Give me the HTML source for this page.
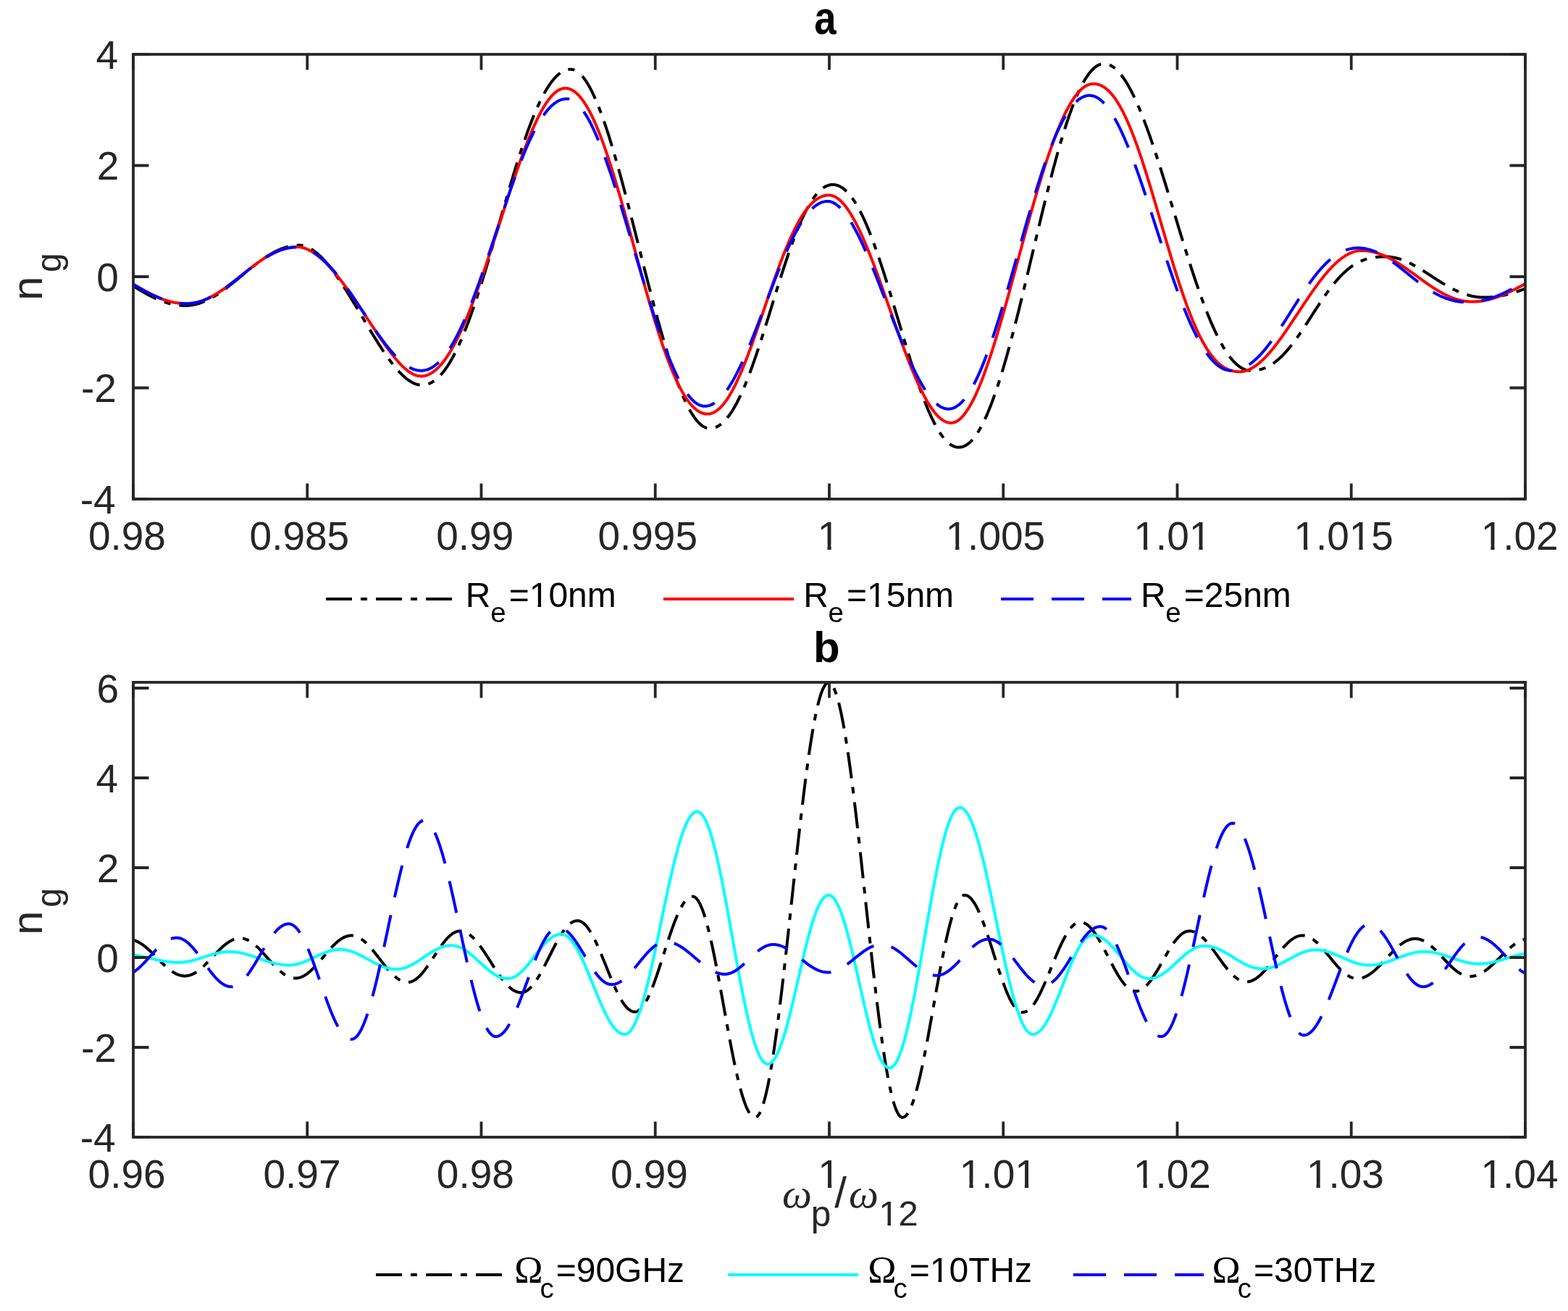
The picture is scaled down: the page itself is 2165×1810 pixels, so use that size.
<!DOCTYPE html><html><head><meta charset="utf-8"><title>n_g plots</title><style>html,body{margin:0;padding:0;background:#fff;}svg{display:block;}</style></head><body>
<svg xmlns="http://www.w3.org/2000/svg" width="2165" height="1810" viewBox="0 0 2165 1810">
<rect width="2165" height="1810" fill="#fff"/>
<defs><clipPath id="ca"><rect x="184" y="75" width="1922" height="614"/></clipPath>
<clipPath id="cb"><rect x="184" y="942" width="1922" height="628"/></clipPath></defs>
<path d="M184.0 395.0L185.0 395.6L186.0 396.2L187.0 396.8L188.0 397.4L189.0 398.0L190.0 398.6L191.0 399.2L192.0 399.8L193.0 400.4L194.0 401.0L195.0 401.6L196.0 402.2L197.0 402.7L198.0 403.3L199.0 403.9L200.0 404.4L201.0 405.0L202.0 405.5L203.0 406.1L204.0 406.6L205.0 407.2L206.0 407.7L207.0 408.2L208.0 408.7L209.0 409.2L210.0 409.7L211.0 410.2L212.0 410.7L213.0 411.2L214.0 411.6L215.0 412.1L216.0 412.5L217.0 413.0L218.0 413.4L219.0 413.8L220.0 414.3L221.0 414.7L222.0 415.1L223.0 415.5L224.0 415.8L225.0 416.2L226.0 416.6L227.0 416.9L228.0 417.2L229.0 417.6L230.0 417.9L231.0 418.2L232.0 418.5L233.0 418.8L234.0 419.0L235.0 419.3L236.0 419.5L237.0 419.8L238.0 420.0L239.0 420.2L240.0 420.4L241.0 420.6L242.0 420.8L243.0 420.9L244.0 421.1L245.0 421.2L246.0 421.3L247.0 421.5L248.0 421.6L249.0 421.6L250.0 421.7L251.0 421.8L252.0 421.8L253.0 421.9L254.0 421.9L255.0 421.9L256.0 421.9L257.0 421.9L258.0 421.9L259.0 421.8L260.0 421.7L261.0 421.7L262.0 421.6L263.0 421.4L264.0 421.3L265.0 421.2L266.0 421.0L267.0 420.8L268.0 420.6L269.0 420.4L270.0 420.2L271.0 419.9L272.0 419.7L273.0 419.4L274.0 419.1L275.0 418.8L276.0 418.5L277.0 418.1L278.0 417.8L279.0 417.4L280.0 417.0L281.0 416.6L282.0 416.2L283.0 415.8L284.0 415.4L285.0 414.9L286.0 414.4L287.0 414.0L288.0 413.5L289.0 413.0L290.0 412.4L291.0 411.9L292.0 411.4L293.0 410.8L294.0 410.2L295.0 409.6L296.0 409.0L297.0 408.4L298.0 407.8L299.0 407.2L300.0 406.6L301.0 405.9L302.0 405.2L303.0 404.6L304.0 403.9L305.0 403.2L306.0 402.5L307.0 401.8L308.0 401.1L309.0 400.4L310.0 399.6L311.0 398.9L312.0 398.2L313.0 397.4L314.0 396.6L315.0 395.9L316.0 395.1L317.0 394.3L318.0 393.5L319.0 392.7L320.0 391.9L321.0 391.1L322.0 390.3L323.0 389.5L324.0 388.7L325.0 387.9L326.0 387.1L327.0 386.3L328.0 385.5L329.0 384.6L330.0 383.8L331.0 383.0L332.0 382.1L333.0 381.3L334.0 380.5L335.0 379.7L336.0 378.8L337.0 378.0L338.0 377.2L339.0 376.3L340.0 375.5L341.0 374.7L342.0 373.9L343.0 373.0L344.0 372.2L345.0 371.4L346.0 370.6L347.0 369.8L348.0 369.0L349.0 368.2L350.0 367.4L351.0 366.6L352.0 365.8L353.0 365.1L354.0 364.3L355.0 363.5L356.0 362.8L357.0 362.0L358.0 361.3L359.0 360.5L360.0 359.8L361.0 359.1L362.0 358.4L363.0 357.7L364.0 357.0L365.0 356.3L366.0 355.6L367.0 355.0L368.0 354.3L369.0 353.7L370.0 353.0L371.0 352.4L372.0 351.8L373.0 351.2L374.0 350.6L375.0 350.0L376.0 349.5L377.0 348.9L378.0 348.4L379.0 347.8L380.0 347.3L381.0 346.8L382.0 346.3L383.0 345.9L384.0 345.4L385.0 345.0L386.0 344.5L387.0 344.1L388.0 343.7L389.0 343.3L390.0 342.9L391.0 342.6L392.0 342.2L393.0 341.9L394.0 341.6L395.0 341.3L396.0 341.0L397.0 340.7L398.0 340.5L399.0 340.2L400.0 340.0L401.0 339.8L402.0 339.6L403.0 339.5L404.0 339.3L405.0 339.2L406.0 339.0L407.0 338.9L408.0 338.8L409.0 338.8L410.0 338.7L411.0 338.7L412.0 338.6L413.0 338.6L414.0 338.7L415.0 338.7L416.0 338.8L417.0 339.0L418.0 339.1L419.0 339.3L420.0 339.6L421.0 339.9L422.0 340.2L423.0 340.6L424.0 341.0L425.0 341.4L426.0 341.9L427.0 342.4L428.0 342.9L429.0 343.5L430.0 344.0L431.0 344.7L432.0 345.3L433.0 346.0L434.0 346.8L435.0 347.5L436.0 348.3L437.0 349.1L438.0 349.9L439.0 350.8L440.0 351.7L441.0 352.6L442.0 353.6L443.0 354.5L444.0 355.5L445.0 356.5L446.0 357.6L447.0 358.7L448.0 359.8L449.0 360.9L450.0 362.0L451.0 363.2L452.0 364.4L453.0 365.6L454.0 366.8L455.0 368.0L456.0 369.3L457.0 370.6L458.0 371.9L459.0 373.2L460.0 374.5L461.0 375.9L462.0 377.2L463.0 378.6L464.0 380.0L465.0 381.4L466.0 382.9L467.0 384.3L468.0 385.8L469.0 387.2L470.0 388.7L471.0 390.2L472.0 391.7L473.0 393.3L474.0 394.8L475.0 396.3L476.0 397.9L477.0 399.5L478.0 401.0L479.0 402.6L480.0 404.2L481.0 405.8L482.0 407.4L483.0 409.0L484.0 410.7L485.0 412.3L486.0 413.9L487.0 415.6L488.0 417.2L489.0 418.9L490.0 420.5L491.0 422.2L492.0 423.9L493.0 425.5L494.0 427.2L495.0 428.9L496.0 430.5L497.0 432.2L498.0 433.9L499.0 435.6L500.0 437.3L501.0 438.9L502.0 440.6L503.0 442.3L504.0 444.0L505.0 445.7L506.0 447.3L507.0 449.0L508.0 450.7L509.0 452.3L510.0 454.0L511.0 455.7L512.0 457.3L513.0 459.0L514.0 460.6L515.0 462.2L516.0 463.9L517.0 465.5L518.0 467.1L519.0 468.7L520.0 470.3L521.0 471.9L522.0 473.5L523.0 475.1L524.0 476.6L525.0 478.2L526.0 479.7L527.0 481.2L528.0 482.8L529.0 484.3L530.0 485.7L531.0 487.2L532.0 488.7L533.0 490.1L534.0 491.6L535.0 493.0L536.0 494.4L537.0 495.8L538.0 497.1L539.0 498.5L540.0 499.8L541.0 501.1L542.0 502.4L543.0 503.7L544.0 504.9L545.0 506.2L546.0 507.4L547.0 508.6L548.0 509.7L549.0 510.9L550.0 512.0L551.0 513.1L552.0 514.2L553.0 515.2L554.0 516.2L555.0 517.2L556.0 518.2L557.0 519.1L558.0 520.0L559.0 520.9L560.0 521.7L561.0 522.6L562.0 523.3L563.0 524.1L564.0 524.8L565.0 525.5L566.0 526.2L567.0 526.8L568.0 527.4L569.0 527.9L570.0 528.5L571.0 528.9L572.0 529.4L573.0 529.8L574.0 530.2L575.0 530.5L576.0 530.8L577.0 531.0L578.0 531.2L579.0 531.4L580.0 531.5L581.0 531.6L582.0 531.7L583.0 531.7L584.0 531.6L585.0 531.5L586.0 531.4L587.0 531.3L588.0 531.1L589.0 530.8L590.0 530.5L591.0 530.2L592.0 529.9L593.0 529.5L594.0 529.0L595.0 528.5L596.0 528.0L597.0 527.4L598.0 526.8L599.0 526.1L600.0 525.4L601.0 524.7L602.0 523.9L603.0 523.1L604.0 522.2L605.0 521.3L606.0 520.3L607.0 519.3L608.0 518.2L609.0 517.2L610.0 516.0L611.0 514.8L612.0 513.6L613.0 512.3L614.0 511.0L615.0 509.6L616.0 508.2L617.0 506.8L618.0 505.3L619.0 503.7L620.0 502.1L621.0 500.5L622.0 498.8L623.0 497.1L624.0 495.4L625.0 493.6L626.0 491.7L627.0 489.8L628.0 487.9L629.0 485.9L630.0 483.9L631.0 481.9L632.0 479.8L633.0 477.6L634.0 475.4L635.0 473.2L636.0 471.0L637.0 468.7L638.0 466.3L639.0 463.9L640.0 461.5L641.0 459.1L642.0 456.6L643.0 454.1L644.0 451.5L645.0 448.9L646.0 446.3L647.0 443.6L648.0 440.9L649.0 438.1L650.0 435.4L651.0 432.6L652.0 429.7L653.0 426.9L654.0 424.0L655.0 421.1L656.0 418.1L657.0 415.1L658.0 412.1L659.0 409.1L660.0 406.0L661.0 402.9L662.0 399.8L663.0 396.7L664.0 393.5L665.0 390.3L666.0 387.1L667.0 383.9L668.0 380.6L669.0 377.4L670.0 374.1L671.0 370.8L672.0 367.5L673.0 364.1L674.0 360.8L675.0 357.4L676.0 354.0L677.0 350.6L678.0 347.2L679.0 343.8L680.0 340.4L681.0 337.0L682.0 333.5L683.0 330.1L684.0 326.6L685.0 323.2L686.0 319.7L687.0 316.3L688.0 312.8L689.0 309.3L690.0 305.9L691.0 302.4L692.0 298.9L693.0 295.5L694.0 292.0L695.0 288.6L696.0 285.1L697.0 281.7L698.0 278.2L699.0 274.8L700.0 271.4L701.0 268.0L702.0 264.6L703.0 261.2L704.0 257.8L705.0 254.5L706.0 251.1L707.0 247.8L708.0 244.5L709.0 241.2L710.0 237.9L711.0 234.7L712.0 231.4L713.0 228.2L714.0 225.0L715.0 221.9L716.0 218.7L717.0 215.6L718.0 212.5L719.0 209.5L720.0 206.4L721.0 203.4L722.0 200.4L723.0 197.5L724.0 194.6L725.0 191.7L726.0 188.8L727.0 186.0L728.0 183.2L729.0 180.4L730.0 177.7L731.0 175.0L732.0 172.4L733.0 169.8L734.0 167.2L735.0 164.6L736.0 162.1L737.0 159.7L738.0 157.3L739.0 154.9L740.0 152.6L741.0 150.3L742.0 148.0L743.0 145.8L744.0 143.6L745.0 141.5L746.0 139.4L747.0 137.4L748.0 135.4L749.0 133.5L750.0 131.6L751.0 129.7L752.0 127.9L753.0 126.1L754.0 124.4L755.0 122.8L756.0 121.2L757.0 119.6L758.0 118.1L759.0 116.6L760.0 115.2L761.0 113.8L762.0 112.5L763.0 111.2L764.0 110.0L765.0 108.8L766.0 107.7L767.0 106.6L768.0 105.6L769.0 104.6L770.0 103.7L771.0 102.8L772.0 102.0L773.0 101.3L774.0 100.5L775.0 99.9L776.0 99.3L777.0 98.7L778.0 98.2L779.0 97.7L780.0 97.3L781.0 96.9L782.0 96.6L783.0 96.3L784.0 96.1L785.0 95.9L786.0 95.8L787.0 95.7L788.0 95.7L789.0 95.8L790.0 95.9L791.0 96.1L792.0 96.3L793.0 96.7L794.0 97.1L795.0 97.6L796.0 98.1L797.0 98.8L798.0 99.5L799.0 100.3L800.0 101.1L801.0 102.0L802.0 103.0L803.0 104.1" fill="none" stroke="#000" stroke-width="4" stroke-dasharray="36.156 12.052 9.039 12.052" stroke-dashoffset="0.000" stroke-linejoin="round" clip-path="url(#ca)"/>
<path d="M802.0 103.0L803.0 104.1L804.0 105.2L805.0 106.4L806.0 107.7L807.0 109.0L808.0 110.4L809.0 111.9L810.0 113.4L811.0 115.0L812.0 116.6L813.0 118.4L814.0 120.1L815.0 122.0L816.0 123.9L817.0 125.9L818.0 127.9L819.0 130.0L820.0 132.1L821.0 134.3L822.0 136.5L823.0 138.9L824.0 141.2L825.0 143.6L826.0 146.1L827.0 148.6L828.0 151.2L829.0 153.8L830.0 156.5L831.0 159.2L832.0 161.9L833.0 164.7L834.0 167.6L835.0 170.5L836.0 173.4L837.0 176.4L838.0 179.5L839.0 182.5L840.0 185.6L841.0 188.8L842.0 192.0L843.0 195.2L844.0 198.5L845.0 201.8L846.0 205.1L847.0 208.5L848.0 211.9L849.0 215.3L850.0 218.8L851.0 222.3L852.0 225.8L853.0 229.3L854.0 232.9L855.0 236.5L856.0 240.1L857.0 243.8L858.0 247.5L859.0 251.2L860.0 254.9L861.0 258.6L862.0 262.4L863.0 266.2L864.0 270.0L865.0 273.8L866.0 277.6L867.0 281.5L868.0 285.3L869.0 289.2L870.0 293.1L871.0 297.0L872.0 300.9L873.0 304.8L874.0 308.7L875.0 312.7L876.0 316.6L877.0 320.6L878.0 324.5L879.0 328.5L880.0 332.4L881.0 336.4L882.0 340.3L883.0 344.3L884.0 348.2L885.0 352.2L886.0 356.1L887.0 360.1L888.0 364.0L889.0 367.9L890.0 371.9L891.0 375.8L892.0 379.7L893.0 383.6L894.0 387.5L895.0 391.4L896.0 395.2L897.0 399.1L898.0 402.9L899.0 406.8L900.0 410.6L901.0 414.4L902.0 418.1L903.0 421.9L904.0 425.6L905.0 429.3L906.0 433.0L907.0 436.7L908.0 440.4L909.0 444.0L910.0 447.6L911.0 451.1L912.0 454.7L913.0 458.2L914.0 461.7L915.0 465.2L916.0 468.6L917.0 472.0L918.0 475.4L919.0 478.7L920.0 482.0L921.0 485.3L922.0 488.5L923.0 491.7L924.0 494.9L925.0 498.0L926.0 501.1L927.0 504.1L928.0 507.1L929.0 510.1L930.0 513.0L931.0 515.9L932.0 518.8L933.0 521.6L934.0 524.3L935.0 527.0L936.0 529.7L937.0 532.3L938.0 534.9L939.0 537.4L940.0 539.8L941.0 542.3L942.0 544.6L943.0 547.0L944.0 549.2L945.0 551.4L946.0 553.6L947.0 555.7L948.0 557.8L949.0 559.8L950.0 561.7L951.0 563.6L952.0 565.4L953.0 567.2L954.0 568.9L955.0 570.6L956.0 572.2L957.0 573.7L958.0 575.2L959.0 576.6L960.0 578.0L961.0 579.3L962.0 580.5L963.0 581.7L964.0 582.8L965.0 583.8L966.0 584.8L967.0 585.7L968.0 586.6L969.0 587.4L970.0 588.1L971.0 588.7L972.0 589.3L973.0 589.8L974.0 590.3L975.0 590.7L976.0 591.0L977.0 591.2L978.0 591.4L979.0 591.5L980.0 591.5L981.0 591.5L982.0 591.4L983.0 591.3L984.0 591.1L985.0 590.9L986.0 590.7L987.0 590.3L988.0 590.0L989.0 589.6L990.0 589.1L991.0 588.6L992.0 588.0L993.0 587.4L994.0 586.7L995.0 586.0L996.0 585.2L997.0 584.4L998.0 583.5L999.0 582.6L1000.0 581.6L1001.0 580.5L1002.0 579.4L1003.0 578.3L1004.0 577.1L1005.0 575.8L1006.0 574.5L1007.0 573.2L1008.0 571.8L1009.0 570.3L1010.0 568.8L1011.0 567.3L1012.0 565.7L1013.0 564.0L1014.0 562.3L1015.0 560.5L1016.0 558.7L1017.0 556.9L1018.0 555.0L1019.0 553.0L1020.0 551.0L1021.0 548.9L1022.0 546.8L1023.0 544.7L1024.0 542.5L1025.0 540.3L1026.0 538.0L1027.0 535.7L1028.0 533.3L1029.0 530.9L1030.0 528.5L1031.0 526.0L1032.0 523.5L1033.0 520.9L1034.0 518.3L1035.0 515.7L1036.0 513.0L1037.0 510.3L1038.0 507.5L1039.0 504.8L1040.0 501.9L1041.0 499.1L1042.0 496.2L1043.0 493.3L1044.0 490.4L1045.0 487.5L1046.0 484.5L1047.0 481.5L1048.0 478.4L1049.0 475.4L1050.0 472.3L1051.0 469.2L1052.0 466.1L1053.0 463.0L1054.0 459.9L1055.0 456.7L1056.0 453.5L1057.0 450.3L1058.0 447.1L1059.0 443.9L1060.0 440.7L1061.0 437.5L1062.0 434.3L1063.0 431.0L1064.0 427.8L1065.0 424.6L1066.0 421.3L1067.0 418.1L1068.0 414.8L1069.0 411.6L1070.0 408.4L1071.0 405.2L1072.0 401.9L1073.0 398.7L1074.0 395.5L1075.0 392.3L1076.0 389.2L1077.0 386.0L1078.0 382.8L1079.0 379.7L1080.0 376.6L1081.0 373.5L1082.0 370.4L1083.0 367.4L1084.0 364.3L1085.0 361.3L1086.0 358.3L1087.0 355.3L1088.0 352.4L1089.0 349.5L1090.0 346.6L1091.0 343.8L1092.0 340.9L1093.0 338.2L1094.0 335.4L1095.0 332.7L1096.0 330.0L1097.0 327.4L1098.0 324.7L1099.0 322.2L1100.0 319.6L1101.0 317.1L1102.0 314.7L1103.0 312.3L1104.0 309.9L1105.0 307.6L1106.0 305.3L1107.0 303.0L1108.0 300.8L1109.0 298.7L1110.0 296.6L1111.0 294.5L1112.0 292.5L1113.0 290.6L1114.0 288.7L1115.0 286.8L1116.0 285.0L1117.0 283.2L1118.0 281.5L1119.0 279.9L1120.0 278.3L1121.0 276.7L1122.0 275.2L1123.0 273.8L1124.0 272.4L1125.0 271.0L1126.0 269.7L1127.0 268.5L1128.0 267.3L1129.0 266.2L1130.0 265.1L1131.0 264.1L1132.0 263.1L1133.0 262.2L1134.0 261.4L1135.0 260.6L1136.0 259.8L1137.0 259.1L1138.0 258.5L1139.0 257.9L1140.0 257.4L1141.0 256.9L1142.0 256.5L1143.0 256.1L1144.0 255.8L1145.0 255.5L1146.0 255.3L1147.0 255.1L1148.0 255.0L1149.0 254.9L1150.0 254.9L1151.0 254.9L1152.0 255.0L1153.0 255.2L1154.0 255.3L1155.0 255.6L1156.0 255.9L1157.0 256.2L1158.0 256.6L1159.0 257.0L1160.0 257.5L1161.0 258.1L1162.0 258.7L1163.0 259.3L1164.0 260.0L1165.0 260.8L1166.0 261.6L1167.0 262.4L1168.0 263.4L1169.0 264.3L1170.0 265.3L1171.0 266.4L1172.0 267.5L1173.0 268.7L1174.0 269.9L1175.0 271.2L1176.0 272.5L1177.0 273.9L1178.0 275.3L1179.0 276.8L1180.0 278.3L1181.0 279.9L1182.0 281.6L1183.0 283.2L1184.0 285.0L1185.0 286.7L1186.0 288.6L1187.0 290.5L1188.0 292.4L1189.0 294.4L1190.0 296.4L1191.0 298.4L1192.0 300.5L1193.0 302.7L1194.0 304.9L1195.0 307.2L1196.0 309.4L1197.0 311.8L1198.0 314.2L1199.0 316.6L1200.0 319.0L1201.0 321.5L1202.0 324.1L1203.0 326.6L1204.0 329.3L1205.0 331.9L1206.0 334.6L1207.0 337.3L1208.0 340.1L1209.0 342.9L1210.0 345.7L1211.0 348.6L1212.0 351.5L1213.0 354.4L1214.0 357.3L1215.0 360.3L1216.0 363.3L1217.0 366.3L1218.0 369.4L1219.0 372.5L1220.0 375.6L1221.0 378.7L1222.0 381.9L1223.0 385.0L1224.0 388.2L1225.0 391.4L1226.0 394.7L1227.0 397.9L1228.0 401.2L1229.0 404.4L1230.0 407.7L1231.0 411.0L1232.0 414.3L1233.0 417.6L1234.0 421.0L1235.0 424.3L1236.0 427.6L1237.0 431.0L1238.0 434.3L1239.0 437.6L1240.0 441.0L1241.0 444.3L1242.0 447.7L1243.0 451.0L1244.0 454.4L1245.0 457.7L1246.0 461.0L1247.0 464.3L1248.0 467.6L1249.0 470.9L1250.0 474.2L1251.0 477.5L1252.0 480.8L1253.0 484.0L1254.0 487.3L1255.0 490.5L1256.0 493.7L1257.0 496.9L1258.0 500.0L1259.0 503.1L1260.0 506.3L1261.0 509.4L1262.0 512.4L1263.0 515.5L1264.0 518.5L1265.0 521.5L1266.0 524.4L1267.0 527.3L1268.0 530.2L1269.0 533.1L1270.0 535.9L1271.0 538.7L1272.0 541.5L1273.0 544.2L1274.0 546.9L1275.0 549.5L1276.0 552.1L1277.0 554.7L1278.0 557.2L1279.0 559.7L1280.0 562.1L1281.0 564.5L1282.0 566.9L1283.0 569.2L1284.0 571.4L1285.0 573.6L1286.0 575.8L1287.0 577.9L1288.0 580.0L1289.0 582.0L1290.0 584.0L1291.0 585.9L1292.0 587.8L1293.0 589.6L1294.0 591.3L1295.0 593.0L1296.0 594.7L1297.0 596.3L1298.0 597.8L1299.0 599.3L1300.0 600.7L1301.0 602.1L1302.0 603.4L1303.0 604.7L1304.0 605.9L1305.0 607.0L1306.0 608.1L1307.0 609.2L1308.0 610.1L1309.0 611.0L1310.0 611.9L1311.0 612.7L1312.0 613.4L1313.0 614.1L1314.0 614.7L1315.0 615.3L1316.0 615.8L1317.0 616.2L1318.0 616.6L1319.0 616.9L1320.0 617.2L1321.0 617.4L1322.0 617.5L1323.0 617.6L1324.0 617.6L1325.0 617.6L1326.0 617.5L1327.0 617.3L1328.0 617.1L1329.0 616.8L1330.0 616.5L1331.0 616.1L1332.0 615.7L1333.0 615.1L1334.0 614.6L1335.0 613.9L1336.0 613.2L1337.0 612.5L1338.0 611.7L1339.0 610.8L1340.0 609.8L1341.0 608.8L1342.0 607.8L1343.0 606.6L1344.0 605.5L1345.0 604.2L1346.0 602.9L1347.0 601.6L1348.0 600.1L1349.0 598.7L1350.0 597.1L1351.0 595.5L1352.0 593.9L1353.0 592.2L1354.0 590.4L1355.0 588.6L1356.0 586.7L1357.0 584.7L1358.0 582.7L1359.0 580.7L1360.0 578.5L1361.0 576.4L1362.0 574.1L1363.0 571.9L1364.0 569.5L1365.0 567.1L1366.0 564.7L1367.0 562.2L1368.0 559.7L1369.0 557.1L1370.0 554.4L1371.0 551.7L1372.0 549.0L1373.0 546.2L1374.0 543.3L1375.0 540.4L1376.0 537.5L1377.0 534.5L1378.0 531.5L1379.0 528.4L1380.0 525.3L1381.0 522.1L1382.0 518.9L1383.0 515.6L1384.0 512.3L1385.0 509.0L1386.0 505.6L1387.0 502.2L1388.0 498.7L1389.0 495.2L1390.0 491.7L1391.0 488.1L1392.0 484.5L1393.0 480.9L1394.0 477.2L1395.0 473.5L1396.0 469.8L1397.0 466.0L1398.0 462.2L1399.0 458.4L1400.0 454.6L1401.0 450.7L1402.0 446.8L1403.0 442.8L1404.0 438.9L1405.0 434.9L1406.0 430.9L1407.0 426.9L1408.0 422.9L1409.0 418.8L1410.0 414.7L1411.0 410.6L1412.0 406.5L1413.0 402.4L1414.0 398.3L1415.0 394.1L1416.0 390.0L1417.0 385.8L1418.0 381.6L1419.0 377.4L1420.0 373.3L1421.0 369.1L1422.0 364.9L1423.0 360.6L1424.0 356.4L1425.0 352.2L1426.0 348.0L1427.0 343.8L1428.0 339.6L1429.0 335.4L1430.0 331.2L1431.0 327.0L1432.0 322.8L1433.0 318.6L1434.0 314.4L1435.0 310.3L1436.0 306.1L1437.0 302.0L1438.0 297.8L1439.0 293.7L1440.0 289.6L1441.0 285.5L1442.0 281.5L1443.0 277.4L1444.0 273.4L1445.0 269.4L1446.0 265.4L1447.0 261.4L1448.0 257.5L1449.0 253.5L1450.0 249.6L1451.0 245.8L1452.0 241.9L1453.0 238.1L1454.0 234.3L1455.0 230.6L1456.0 226.9L1457.0 223.2L1458.0 219.5L1459.0 215.9L1460.0 212.3L1461.0 208.8L1462.0 205.2L1463.0 201.8L1464.0 198.3L1465.0 194.9L1466.0 191.6L1467.0 188.3L1468.0 185.0L1469.0 181.8L1470.0 178.6L1471.0 175.4L1472.0 172.3L1473.0 169.3L1474.0 166.3L1475.0 163.3L1476.0 160.4L1477.0 157.6L1478.0 154.8L1479.0 152.0L1480.0 149.3L1481.0 146.6L1482.0 144.0L1483.0 141.5L1484.0 139.0L1485.0 136.6L1486.0 134.2L1487.0 131.8L1488.0 129.6L1489.0 127.3L1490.0 125.2L1491.0 123.1L1492.0 121.0L1493.0 119.0L1494.0 117.1L1495.0 115.3L1496.0 113.4L1497.0 111.7L1498.0 110.0L1499.0 108.4L1500.0 106.8L1501.0 105.3L1502.0 103.9L1503.0 102.5L1504.0 101.2L1505.0 99.9L1506.0 98.7L1507.0 97.6L1508.0 96.5L1509.0 95.5L1510.0 94.6L1511.0 93.7L1512.0 92.9L1513.0 92.1L1514.0 91.4L1515.0 90.8L1516.0 90.2L1517.0 89.7L1518.0 89.3L1519.0 88.9L1520.0 88.6L1521.0 88.4L1522.0 88.2L1523.0 88.1L1524.0 88.1L1525.0 88.1L1526.0 88.1L1527.0 88.2L1528.0 88.4L1529.0 88.7L1530.0 88.9L1531.0 89.3L1532.0 89.7L1533.0 90.1L1534.0 90.6L1535.0 91.2L1536.0 91.8L1537.0 92.5L1538.0 93.2L1539.0 94.0L1540.0 94.8L1541.0 95.7L1542.0 96.6L1543.0 97.6L1544.0 98.7L1545.0 99.8L1546.0 100.9L1547.0 102.1" fill="none" stroke="#000" stroke-width="4" stroke-dasharray="36.151 12.050 9.038 12.050" stroke-dashoffset="66.323" stroke-linejoin="round" clip-path="url(#ca)"/>
<path d="M1546.0 100.9L1547.0 102.1L1548.0 103.3L1549.0 104.6L1550.0 106.0L1551.0 107.4L1552.0 108.8L1553.0 110.3L1554.0 111.8L1555.0 113.4L1556.0 115.1L1557.0 116.8L1558.0 118.5L1559.0 120.3L1560.0 122.1L1561.0 123.9L1562.0 125.8L1563.0 127.8L1564.0 129.8L1565.0 131.8L1566.0 133.9L1567.0 136.0L1568.0 138.2L1569.0 140.4L1570.0 142.6L1571.0 144.9L1572.0 147.2L1573.0 149.6L1574.0 152.0L1575.0 154.4L1576.0 156.9L1577.0 159.4L1578.0 161.9L1579.0 164.5L1580.0 167.1L1581.0 169.7L1582.0 172.4L1583.0 175.1L1584.0 177.8L1585.0 180.6L1586.0 183.4L1587.0 186.2L1588.0 189.0L1589.0 191.9L1590.0 194.8L1591.0 197.7L1592.0 200.7L1593.0 203.6L1594.0 206.6L1595.0 209.6L1596.0 212.7L1597.0 215.7L1598.0 218.8L1599.0 221.9L1600.0 225.0L1601.0 228.1L1602.0 231.3L1603.0 234.4L1604.0 237.6L1605.0 240.8L1606.0 244.0L1607.0 247.2L1608.0 250.4L1609.0 253.7L1610.0 256.9L1611.0 260.1L1612.0 263.4L1613.0 266.7L1614.0 270.0L1615.0 273.2L1616.0 276.5L1617.0 279.8L1618.0 283.1L1619.0 286.4L1620.0 289.7L1621.0 293.0L1622.0 296.3L1623.0 299.6L1624.0 302.9L1625.0 306.2L1626.0 309.5L1627.0 312.8L1628.0 316.0L1629.0 319.3L1630.0 322.6L1631.0 325.9L1632.0 329.1L1633.0 332.4L1634.0 335.6L1635.0 338.8L1636.0 342.0L1637.0 345.2L1638.0 348.4L1639.0 351.6L1640.0 354.8L1641.0 357.9L1642.0 361.1L1643.0 364.2L1644.0 367.3L1645.0 370.4L1646.0 373.4L1647.0 376.5L1648.0 379.5L1649.0 382.5L1650.0 385.5L1651.0 388.5L1652.0 391.4L1653.0 394.3L1654.0 397.2L1655.0 400.1L1656.0 402.9L1657.0 405.7L1658.0 408.5L1659.0 411.3L1660.0 414.0L1661.0 416.7L1662.0 419.4L1663.0 422.1L1664.0 424.7L1665.0 427.3L1666.0 429.8L1667.0 432.4L1668.0 434.9L1669.0 437.3L1670.0 439.8L1671.0 442.2L1672.0 444.5L1673.0 446.9L1674.0 449.1L1675.0 451.4L1676.0 453.6L1677.0 455.8L1678.0 458.0L1679.0 460.1L1680.0 462.1L1681.0 464.2L1682.0 466.2L1683.0 468.1L1684.0 470.0L1685.0 471.9L1686.0 473.8L1687.0 475.6L1688.0 477.3L1689.0 479.0L1690.0 480.7L1691.0 482.3L1692.0 483.9L1693.0 485.5L1694.0 487.0L1695.0 488.4L1696.0 489.9L1697.0 491.2L1698.0 492.6L1699.0 493.9L1700.0 495.1L1701.0 496.3L1702.0 497.5L1703.0 498.6L1704.0 499.7L1705.0 500.7L1706.0 501.7L1707.0 502.6L1708.0 503.5L1709.0 504.3L1710.0 505.1L1711.0 505.9L1712.0 506.6L1713.0 507.2L1714.0 507.9L1715.0 508.4L1716.0 509.0L1717.0 509.4L1718.0 509.9L1719.0 510.3L1720.0 510.6L1721.0 510.9L1722.0 511.1L1723.0 511.3L1724.0 511.5L1725.0 511.6L1726.0 511.7L1727.0 511.7L1728.0 511.7L1729.0 511.7L1730.0 511.6L1731.0 511.6L1732.0 511.5L1733.0 511.4L1734.0 511.3L1735.0 511.1L1736.0 511.0L1737.0 510.8L1738.0 510.6L1739.0 510.4L1740.0 510.1L1741.0 509.9L1742.0 509.6L1743.0 509.3L1744.0 508.9L1745.0 508.6L1746.0 508.2L1747.0 507.8L1748.0 507.3L1749.0 506.9L1750.0 506.4L1751.0 505.9L1752.0 505.4L1753.0 504.8L1754.0 504.3L1755.0 503.6L1756.0 503.0L1757.0 502.4L1758.0 501.7L1759.0 501.0L1760.0 500.3L1761.0 499.5L1762.0 498.7L1763.0 497.9L1764.0 497.1L1765.0 496.2L1766.0 495.3L1767.0 494.4L1768.0 493.5L1769.0 492.6L1770.0 491.6L1771.0 490.6L1772.0 489.5L1773.0 488.5L1774.0 487.4L1775.0 486.3L1776.0 485.2L1777.0 484.1L1778.0 482.9L1779.0 481.7L1780.0 480.5L1781.0 479.3L1782.0 478.1L1783.0 476.8L1784.0 475.5L1785.0 474.2L1786.0 472.9L1787.0 471.6L1788.0 470.2L1789.0 468.9L1790.0 467.5L1791.0 466.1L1792.0 464.7L1793.0 463.2L1794.0 461.8L1795.0 460.3L1796.0 458.9L1797.0 457.4L1798.0 455.9L1799.0 454.4L1800.0 452.9L1801.0 451.4L1802.0 449.9L1803.0 448.4L1804.0 446.8L1805.0 445.3L1806.0 443.8L1807.0 442.2L1808.0 440.7L1809.0 439.1L1810.0 437.6L1811.0 436.0L1812.0 434.5L1813.0 432.9L1814.0 431.4L1815.0 429.8L1816.0 428.3L1817.0 426.8L1818.0 425.2L1819.0 423.7L1820.0 422.2L1821.0 420.6L1822.0 419.1L1823.0 417.6L1824.0 416.1L1825.0 414.7L1826.0 413.2L1827.0 411.7L1828.0 410.3L1829.0 408.8L1830.0 407.4L1831.0 406.0L1832.0 404.6L1833.0 403.2L1834.0 401.8L1835.0 400.5L1836.0 399.1L1837.0 397.8L1838.0 396.5L1839.0 395.2L1840.0 393.9L1841.0 392.7L1842.0 391.5L1843.0 390.2L1844.0 389.0L1845.0 387.9L1846.0 386.7L1847.0 385.6L1848.0 384.4L1849.0 383.3L1850.0 382.3L1851.0 381.2L1852.0 380.2L1853.0 379.2L1854.0 378.2L1855.0 377.2L1856.0 376.3L1857.0 375.3L1858.0 374.4L1859.0 373.6L1860.0 372.7L1861.0 371.9L1862.0 371.0L1863.0 370.3L1864.0 369.5L1865.0 368.7L1866.0 368.0L1867.0 367.3L1868.0 366.6L1869.0 366.0L1870.0 365.3L1871.0 364.7L1872.0 364.1L1873.0 363.6L1874.0 363.0L1875.0 362.5L1876.0 362.0L1877.0 361.5L1878.0 361.0L1879.0 360.5L1880.0 360.1L1881.0 359.7L1882.0 359.3L1883.0 358.9L1884.0 358.6L1885.0 358.2L1886.0 357.9L1887.0 357.6L1888.0 357.3L1889.0 357.0L1890.0 356.8L1891.0 356.6L1892.0 356.3L1893.0 356.1L1894.0 355.9L1895.0 355.7L1896.0 355.6L1897.0 355.4L1898.0 355.3L1899.0 355.1L1900.0 355.0L1901.0 354.9L1902.0 354.8L1903.0 354.7L1904.0 354.7L1905.0 354.6L1906.0 354.5L1907.0 354.5L1908.0 354.5L1909.0 354.4L1910.0 354.4L1911.0 354.4L1912.0 354.4L1913.0 354.4L1914.0 354.4L1915.0 354.4L1916.0 354.4L1917.0 354.5L1918.0 354.6L1919.0 354.7L1920.0 354.8L1921.0 354.9L1922.0 355.1L1923.0 355.2L1924.0 355.4L1925.0 355.6L1926.0 355.8L1927.0 356.0L1928.0 356.3L1929.0 356.5L1930.0 356.8L1931.0 357.1L1932.0 357.4L1933.0 357.7L1934.0 358.0L1935.0 358.4L1936.0 358.7L1937.0 359.1L1938.0 359.5L1939.0 359.9L1940.0 360.3L1941.0 360.7L1942.0 361.2L1943.0 361.6L1944.0 362.1L1945.0 362.5L1946.0 363.0L1947.0 363.5L1948.0 364.0L1949.0 364.5L1950.0 365.1L1951.0 365.6L1952.0 366.1L1953.0 366.7L1954.0 367.2L1955.0 367.8L1956.0 368.4L1957.0 369.0L1958.0 369.5L1959.0 370.1L1960.0 370.7L1961.0 371.3L1962.0 372.0L1963.0 372.6L1964.0 373.2L1965.0 373.8L1966.0 374.5L1967.0 375.1L1968.0 375.7L1969.0 376.4L1970.0 377.0L1971.0 377.6L1972.0 378.3L1973.0 378.9L1974.0 379.6L1975.0 380.2L1976.0 380.9L1977.0 381.5L1978.0 382.2L1979.0 382.8L1980.0 383.5L1981.0 384.1L1982.0 384.8L1983.0 385.4L1984.0 386.1L1985.0 386.7L1986.0 387.3L1987.0 388.0L1988.0 388.6L1989.0 389.2L1990.0 389.9L1991.0 390.5L1992.0 391.1L1993.0 391.7L1994.0 392.3L1995.0 392.9L1996.0 393.5L1997.0 394.1L1998.0 394.6L1999.0 395.2L2000.0 395.8L2001.0 396.3L2002.0 396.9L2003.0 397.4L2004.0 397.9L2005.0 398.5L2006.0 399.0L2007.0 399.5L2008.0 400.0L2009.0 400.5L2010.0 400.9L2011.0 401.4L2012.0 401.9L2013.0 402.3L2014.0 402.8L2015.0 403.2L2016.0 403.6L2017.0 404.0L2018.0 404.4L2019.0 404.8L2020.0 405.2L2021.0 405.5L2022.0 405.9L2023.0 406.2L2024.0 406.5L2025.0 406.8L2026.0 407.1L2027.0 407.4L2028.0 407.7L2029.0 408.0L2030.0 408.2L2031.0 408.5L2032.0 408.7L2033.0 408.9L2034.0 409.1L2035.0 409.3L2036.0 409.5L2037.0 409.6L2038.0 409.8L2039.0 409.9L2040.0 410.1L2041.0 410.2L2042.0 410.3L2043.0 410.4L2044.0 410.4L2045.0 410.5L2046.0 410.6L2047.0 410.6L2048.0 410.6L2049.0 410.6L2050.0 410.6L2051.0 410.6L2052.0 410.6L2053.0 410.6L2054.0 410.5L2055.0 410.5L2056.0 410.4L2057.0 410.4L2058.0 410.3L2059.0 410.2L2060.0 410.2L2061.0 410.1L2062.0 410.0L2063.0 409.8L2064.0 409.7L2065.0 409.6L2066.0 409.5L2067.0 409.3L2068.0 409.2L2069.0 409.0L2070.0 408.8L2071.0 408.7L2072.0 408.5L2073.0 408.3L2074.0 408.1L2075.0 407.9L2076.0 407.7L2077.0 407.5L2078.0 407.2L2079.0 407.0L2080.0 406.8L2081.0 406.5L2082.0 406.3L2083.0 406.0L2084.0 405.8L2085.0 405.5L2086.0 405.2L2087.0 404.9L2088.0 404.6L2089.0 404.3L2090.0 404.0L2091.0 403.7L2092.0 403.4L2093.0 403.1L2094.0 402.8L2095.0 402.4L2096.0 402.1L2097.0 401.8L2098.0 401.4L2099.0 401.1L2100.0 400.7L2101.0 400.4L2102.0 400.0L2103.0 399.6L2104.0 399.3L2105.0 398.9L2106.0 398.5" fill="none" stroke="#000" stroke-width="4" stroke-dasharray="36.350 12.117 9.088 12.117" stroke-dashoffset="66.518" stroke-linejoin="round" clip-path="url(#ca)"/>
<path d="M184.0 392.6L185.0 393.1L186.0 393.7L187.0 394.3L188.0 394.9L189.0 395.5L190.0 396.0L191.0 396.6L192.0 397.2L193.0 397.8L194.0 398.3L195.0 398.9L196.0 399.4L197.0 400.0L198.0 400.6L199.0 401.1L200.0 401.6L201.0 402.2L202.0 402.7L203.0 403.2L204.0 403.8L205.0 404.3L206.0 404.8L207.0 405.3L208.0 405.8L209.0 406.3L210.0 406.8L211.0 407.3L212.0 407.8L213.0 408.2L214.0 408.7L215.0 409.1L216.0 409.6L217.0 410.0L218.0 410.4L219.0 410.9L220.0 411.3L221.0 411.7L222.0 412.1L223.0 412.5L224.0 412.8L225.0 413.2L226.0 413.6L227.0 413.9L228.0 414.2L229.0 414.6L230.0 414.9L231.0 415.2L232.0 415.5L233.0 415.8L234.0 416.1L235.0 416.3L236.0 416.6L237.0 416.8L238.0 417.0L239.0 417.3L240.0 417.5L241.0 417.7L242.0 417.9L243.0 418.0L244.0 418.2L245.0 418.3L246.0 418.5L247.0 418.6L248.0 418.7L249.0 418.8L250.0 418.9L251.0 419.0L252.0 419.1L253.0 419.1L254.0 419.2L255.0 419.2L256.0 419.2L257.0 419.2L258.0 419.2L259.0 419.2L260.0 419.1L261.0 419.1L262.0 419.0L263.0 418.9L264.0 418.8L265.0 418.7L266.0 418.6L267.0 418.4L268.0 418.2L269.0 418.0L270.0 417.8L271.0 417.6L272.0 417.4L273.0 417.1L274.0 416.9L275.0 416.6L276.0 416.3L277.0 416.0L278.0 415.6L279.0 415.3L280.0 414.9L281.0 414.6L282.0 414.2L283.0 413.8L284.0 413.4L285.0 412.9L286.0 412.5L287.0 412.0L288.0 411.6L289.0 411.1L290.0 410.6L291.0 410.1L292.0 409.5L293.0 409.0L294.0 408.5L295.0 407.9L296.0 407.3L297.0 406.7L298.0 406.2L299.0 405.5L300.0 404.9L301.0 404.3L302.0 403.7L303.0 403.0L304.0 402.4L305.0 401.7L306.0 401.0L307.0 400.3L308.0 399.7L309.0 399.0L310.0 398.2L311.0 397.5L312.0 396.8L313.0 396.1L314.0 395.3L315.0 394.6L316.0 393.8L317.0 393.1L318.0 392.3L319.0 391.6L320.0 390.8L321.0 390.0L322.0 389.2L323.0 388.5L324.0 387.7L325.0 386.9L326.0 386.1L327.0 385.3L328.0 384.5L329.0 383.7L330.0 382.9L331.0 382.1L332.0 381.3L333.0 380.5L334.0 379.7L335.0 378.9L336.0 378.1L337.0 377.3L338.0 376.5L339.0 375.7L340.0 374.9L341.0 374.1L342.0 373.3L343.0 372.5L344.0 371.7L345.0 370.9L346.0 370.1L347.0 369.4L348.0 368.6L349.0 367.8L350.0 367.1L351.0 366.3L352.0 365.6L353.0 364.8L354.0 364.1L355.0 363.4L356.0 362.6L357.0 361.9L358.0 361.2L359.0 360.5L360.0 359.8L361.0 359.1L362.0 358.5L363.0 357.8L364.0 357.1L365.0 356.5L366.0 355.9L367.0 355.2L368.0 354.6L369.0 354.0L370.0 353.4L371.0 352.8L372.0 352.3L373.0 351.7L374.0 351.2L375.0 350.6L376.0 350.1L377.0 349.6L378.0 349.1L379.0 348.6L380.0 348.1L381.0 347.7L382.0 347.2L383.0 346.8L384.0 346.4L385.0 346.0L386.0 345.6L387.0 345.2L388.0 344.9L389.0 344.5L390.0 344.2L391.0 343.9L392.0 343.6L393.0 343.3L394.0 343.0L395.0 342.8L396.0 342.5L397.0 342.3L398.0 342.1L399.0 341.9L400.0 341.8L401.0 341.6L402.0 341.5L403.0 341.3L404.0 341.2L405.0 341.1L406.0 341.1L407.0 341.0L408.0 341.0L409.0 340.9L410.0 340.9L411.0 341.0L412.0 341.0L413.0 341.1L414.0 341.2L415.0 341.3L416.0 341.5L417.0 341.7L418.0 342.0L419.0 342.2L420.0 342.5L421.0 342.9L422.0 343.2L423.0 343.6L424.0 344.0L425.0 344.5L426.0 344.9L427.0 345.4L428.0 346.0L429.0 346.5L430.0 347.1L431.0 347.7L432.0 348.3L433.0 348.9L434.0 349.6L435.0 350.3L436.0 351.0L437.0 351.7L438.0 352.5L439.0 353.3L440.0 354.1L441.0 354.9L442.0 355.8L443.0 356.6L444.0 357.5L445.0 358.4L446.0 359.3L447.0 360.3L448.0 361.2L449.0 362.2L450.0 363.2L451.0 364.2L452.0 365.2L453.0 366.3L454.0 367.3L455.0 368.4L456.0 369.5L457.0 370.6L458.0 371.8L459.0 372.9L460.0 374.0L461.0 375.2L462.0 376.4L463.0 377.6L464.0 378.8L465.0 380.0L466.0 381.3L467.0 382.5L468.0 383.8L469.0 385.0L470.0 386.3L471.0 387.6L472.0 388.9L473.0 390.2L474.0 391.6L475.0 392.9L476.0 394.3L477.0 395.6L478.0 397.0L479.0 398.4L480.0 399.7L481.0 401.1L482.0 402.5L483.0 403.9L484.0 405.4L485.0 406.8L486.0 408.2L487.0 409.7L488.0 411.1L489.0 412.6L490.0 414.0L491.0 415.5L492.0 417.0L493.0 418.4L494.0 419.9L495.0 421.4L496.0 422.9L497.0 424.4L498.0 425.9L499.0 427.4L500.0 428.9L501.0 430.4L502.0 431.9L503.0 433.4L504.0 434.9L505.0 436.4L506.0 438.0L507.0 439.5L508.0 441.0L509.0 442.5L510.0 444.0L511.0 445.6L512.0 447.1L513.0 448.6L514.0 450.1L515.0 451.6L516.0 453.1L517.0 454.6L518.0 456.1L519.0 457.6L520.0 459.1L521.0 460.6L522.0 462.1L523.0 463.6L524.0 465.1L525.0 466.5L526.0 468.0L527.0 469.5L528.0 470.9L529.0 472.3L530.0 473.8L531.0 475.2L532.0 476.6L533.0 478.0L534.0 479.4L535.0 480.8L536.0 482.1L537.0 483.5L538.0 484.8L539.0 486.1L540.0 487.5L541.0 488.8L542.0 490.0L543.0 491.3L544.0 492.5L545.0 493.8L546.0 495.0L547.0 496.2L548.0 497.3L549.0 498.5L550.0 499.6L551.0 500.7L552.0 501.8L553.0 502.8L554.0 503.9L555.0 504.9L556.0 505.9L557.0 506.8L558.0 507.7L559.0 508.6L560.0 509.5L561.0 510.3L562.0 511.1L563.0 511.9L564.0 512.7L565.0 513.4L566.0 514.0L567.0 514.7L568.0 515.3L569.0 515.8L570.0 516.4L571.0 516.8L572.0 517.3L573.0 517.7L574.0 518.1L575.0 518.4L576.0 518.7L577.0 518.9L578.0 519.1L579.0 519.2L580.0 519.3L581.0 519.4L582.0 519.4L583.0 519.3L584.0 519.2L585.0 519.1L586.0 518.9L587.0 518.7L588.0 518.5L589.0 518.2L590.0 517.8L591.0 517.4L592.0 517.0L593.0 516.5L594.0 516.0L595.0 515.5L596.0 514.9L597.0 514.2L598.0 513.5L599.0 512.8L600.0 512.1L601.0 511.2L602.0 510.4L603.0 509.5L604.0 508.6L605.0 507.6L606.0 506.6L607.0 505.5L608.0 504.4L609.0 503.3L610.0 502.1L611.0 500.9L612.0 499.6L613.0 498.3L614.0 497.0L615.0 495.6L616.0 494.2L617.0 492.7L618.0 491.2L619.0 489.7L620.0 488.1L621.0 486.5L622.0 484.8L623.0 483.2L624.0 481.4L625.0 479.7L626.0 477.9L627.0 476.0L628.0 474.2L629.0 472.3L630.0 470.3L631.0 468.4L632.0 466.4L633.0 464.3L634.0 462.2L635.0 460.1L636.0 458.0L637.0 455.8L638.0 453.6L639.0 451.4L640.0 449.1L641.0 446.8L642.0 444.5L643.0 442.1L644.0 439.8L645.0 437.3L646.0 434.9L647.0 432.4L648.0 429.9L649.0 427.4L650.0 424.9L651.0 422.3L652.0 419.7L653.0 417.1L654.0 414.4L655.0 411.7L656.0 409.0L657.0 406.3L658.0 403.6L659.0 400.8L660.0 398.0L661.0 395.2L662.0 392.4L663.0 389.5L664.0 386.7L665.0 383.8L666.0 380.9L667.0 378.0L668.0 375.1L669.0 372.1L670.0 369.2L671.0 366.2L672.0 363.2L673.0 360.2L674.0 357.2L675.0 354.1L676.0 351.1L677.0 348.1L678.0 345.0L679.0 341.9L680.0 338.9L681.0 335.8L682.0 332.7L683.0 329.6L684.0 326.5L685.0 323.4L686.0 320.3L687.0 317.2L688.0 314.1L689.0 311.0L690.0 307.8L691.0 304.7L692.0 301.6L693.0 298.5L694.0 295.4L695.0 292.3L696.0 289.2L697.0 286.1L698.0 283.0L699.0 279.9L700.0 276.8L701.0 273.7L702.0 270.7L703.0 267.6L704.0 264.6L705.0 261.5L706.0 258.5L707.0 255.5L708.0 252.5L709.0 249.5L710.0 246.5L711.0 243.6L712.0 240.6L713.0 237.7L714.0 234.8L715.0 231.9L716.0 229.1L717.0 226.2L718.0 223.4L719.0 220.6L720.0 217.8L721.0 215.1L722.0 212.3L723.0 209.6L724.0 206.9L725.0 204.3L726.0 201.7L727.0 199.1L728.0 196.5L729.0 194.0L730.0 191.4L731.0 189.0L732.0 186.5L733.0 184.1L734.0 181.7L735.0 179.4L736.0 177.1L737.0 174.8L738.0 172.6L739.0 170.4L740.0 168.3L741.0 166.1L742.0 164.1L743.0 162.0L744.0 160.0L745.0 158.1L746.0 156.2L747.0 154.3L748.0 152.5L749.0 150.7L750.0 149.0L751.0 147.3L752.0 145.7L753.0 144.1L754.0 142.6L755.0 141.1L756.0 139.7L757.0 138.3L758.0 137.0L759.0 135.7L760.0 134.5L761.0 133.3L762.0 132.2L763.0 131.1L764.0 130.1L765.0 129.1L766.0 128.2L767.0 127.4L768.0 126.6L769.0 125.9L770.0 125.2L771.0 124.6L772.0 124.1L773.0 123.6L774.0 123.1L775.0 122.8L776.0 122.4L777.0 122.2L778.0 122.0L779.0 121.9L780.0 121.8L781.0 121.8L782.0 121.9L783.0 122.0L784.0 122.2L785.0 122.4L786.0 122.7L787.0 123.0L788.0 123.4L789.0 123.9L790.0 124.4L791.0 125.0L792.0 125.6L793.0 126.3L794.0 127.0L795.0 127.9L796.0 128.7L797.0 129.6L798.0 130.6L799.0 131.6L800.0 132.7L801.0 133.9L802.0 135.1L803.0 136.3L804.0 137.7L805.0 139.0L806.0 140.5L807.0 141.9L808.0 143.5L809.0 145.1L810.0 146.7L811.0 148.4L812.0 150.1L813.0 151.9L814.0 153.8L815.0 155.7L816.0 157.7L817.0 159.7L818.0 161.7L819.0 163.8L820.0 166.0L821.0 168.2L822.0 170.5L823.0 172.8L824.0 175.1L825.0 177.5L826.0 180.0L827.0 182.5L828.0 185.0L829.0 187.6L830.0 190.2L831.0 192.9L832.0 195.6L833.0 198.3L834.0 201.1L835.0 203.9L836.0 206.8L837.0 209.7L838.0 212.6L839.0 215.6L840.0 218.6L841.0 221.7L842.0 224.8L843.0 227.9L844.0 231.0L845.0 234.2L846.0 237.4L847.0 240.6L848.0 243.9L849.0 247.2L850.0 250.5L851.0 253.9L852.0 257.2L853.0 260.6L854.0 264.1L855.0 267.5L856.0 271.0L857.0 274.4L858.0 277.9L859.0 281.5L860.0 285.0L861.0 288.6L862.0 292.1L863.0 295.7L864.0 299.3L865.0 302.9L866.0 306.5L867.0 310.2L868.0 313.8L869.0 317.4L870.0 321.1L871.0 324.8L872.0 328.4L873.0 332.1L874.0 335.8L875.0 339.4L876.0 343.1L877.0 346.8L878.0 350.5L879.0 354.1L880.0 357.8L881.0 361.5L882.0 365.1L883.0 368.8L884.0 372.4L885.0 376.1L886.0 379.7L887.0 383.3L888.0 386.9L889.0 390.5L890.0 394.1L891.0 397.6L892.0 401.2L893.0 404.7L894.0 408.2L895.0 411.7L896.0 415.2L897.0 418.7L898.0 422.1L899.0 425.5L900.0 428.9L901.0 432.3L902.0 435.6L903.0 439.0L904.0 442.3L905.0 445.5L906.0 448.8L907.0 452.0L908.0 455.2L909.0 458.3L910.0 461.4L911.0 464.5L912.0 467.6L913.0 470.6L914.0 473.6L915.0 476.6L916.0 479.5L917.0 482.4L918.0 485.2L919.0 488.0L920.0 490.8L921.0 493.5L922.0 496.2L923.0 498.9L924.0 501.5L925.0 504.0L926.0 506.6L927.0 509.0L928.0 511.5L929.0 513.9L930.0 516.2L931.0 518.5L932.0 520.8L933.0 523.0L934.0 525.2L935.0 527.3L936.0 529.4L937.0 531.4L938.0 533.4L939.0 535.4L940.0 537.3L941.0 539.1L942.0 540.9L943.0 542.6L944.0 544.3L945.0 546.0L946.0 547.6L947.0 549.1L948.0 550.6L949.0 552.0L950.0 553.4L951.0 554.8L952.0 556.1L953.0 557.3L954.0 558.5L955.0 559.6L956.0 560.7L957.0 561.7L958.0 562.7L959.0 563.6L960.0 564.5L961.0 565.3L962.0 566.1L963.0 566.8L964.0 567.5L965.0 568.1L966.0 568.7L967.0 569.2L968.0 569.7L969.0 570.1L970.0 570.4L971.0 570.8L972.0 571.0L973.0 571.2L974.0 571.4L975.0 571.5L976.0 571.6L977.0 571.6L978.0 571.5L979.0 571.4L980.0 571.3L981.0 571.1L982.0 570.8L983.0 570.5L984.0 570.1L985.0 569.7L986.0 569.2L987.0 568.7L988.0 568.1L989.0 567.4L990.0 566.7L991.0 565.9L992.0 565.1L993.0 564.2L994.0 563.3L995.0 562.3L996.0 561.3L997.0 560.2L998.0 559.1L999.0 557.9L1000.0 556.6L1001.0 555.3L1002.0 553.9L1003.0 552.5L1004.0 551.1L1005.0 549.6L1006.0 548.0L1007.0 546.4L1008.0 544.7L1009.0 543.0L1010.0 541.3L1011.0 539.5L1012.0 537.6L1013.0 535.7L1014.0 533.8L1015.0 531.8L1016.0 529.8L1017.0 527.7L1018.0 525.6L1019.0 523.4L1020.0 521.2L1021.0 519.0L1022.0 516.7L1023.0 514.4L1024.0 512.1L1025.0 509.7L1026.0 507.3L1027.0 504.8L1028.0 502.3L1029.0 499.8L1030.0 497.2L1031.0 494.7L1032.0 492.1L1033.0 489.4L1034.0 486.8L1035.0 484.1L1036.0 481.4L1037.0 478.7L1038.0 475.9L1039.0 473.1L1040.0 470.3L1041.0 467.5L1042.0 464.7L1043.0 461.9L1044.0 459.0L1045.0 456.1L1046.0 453.2L1047.0 450.3L1048.0 447.4L1049.0 444.5L1050.0 441.6L1051.0 438.7L1052.0 435.7L1053.0 432.8L1054.0 429.9L1055.0 426.9L1056.0 424.0L1057.0 421.0L1058.0 418.1L1059.0 415.2L1060.0 412.3L1061.0 409.3L1062.0 406.4L1063.0 403.5L1064.0 400.6L1065.0 397.7L1066.0 394.8L1067.0 392.0L1068.0 389.1L1069.0 386.3L1070.0 383.5L1071.0 380.7L1072.0 377.9L1073.0 375.1L1074.0 372.4L1075.0 369.7L1076.0 367.0L1077.0 364.3L1078.0 361.6L1079.0 359.0L1080.0 356.4L1081.0 353.8L1082.0 351.3L1083.0 348.8L1084.0 346.3L1085.0 343.8L1086.0 341.4L1087.0 339.0L1088.0 336.6L1089.0 334.3L1090.0 332.0L1091.0 329.8L1092.0 327.5L1093.0 325.3L1094.0 323.2L1095.0 321.1L1096.0 319.0L1097.0 317.0L1098.0 315.0L1099.0 313.0L1100.0 311.1L1101.0 309.2L1102.0 307.4L1103.0 305.6L1104.0 303.8L1105.0 302.1L1106.0 300.4L1107.0 298.8L1108.0 297.2L1109.0 295.7L1110.0 294.2L1111.0 292.7L1112.0 291.3L1113.0 290.0L1114.0 288.7L1115.0 287.4L1116.0 286.1L1117.0 285.0L1118.0 283.8L1119.0 282.7L1120.0 281.7L1121.0 280.7L1122.0 279.7L1123.0 278.8L1124.0 277.9L1125.0 277.1L1126.0 276.3L1127.0 275.6L1128.0 274.9L1129.0 274.2L1130.0 273.6L1131.0 273.0L1132.0 272.5L1133.0 272.0L1134.0 271.6L1135.0 271.2L1136.0 270.8L1137.0 270.5L1138.0 270.3L1139.0 270.0L1140.0 269.8L1141.0 269.7L1142.0 269.6L1143.0 269.5L1144.0 269.5L1145.0 269.5L1146.0 269.6L1147.0 269.7L1148.0 269.9L1149.0 270.1L1150.0 270.5L1151.0 270.8L1152.0 271.3L1153.0 271.7L1154.0 272.3L1155.0 272.9L1156.0 273.5L1157.0 274.3L1158.0 275.0L1159.0 275.8L1160.0 276.7L1161.0 277.7L1162.0 278.6L1163.0 279.7L1164.0 280.8L1165.0 281.9L1166.0 283.1L1167.0 284.3L1168.0 285.6L1169.0 287.0L1170.0 288.3L1171.0 289.8L1172.0 291.2L1173.0 292.8L1174.0 294.3L1175.0 296.0L1176.0 297.6L1177.0 299.3L1178.0 301.1L1179.0 302.9L1180.0 304.7L1181.0 306.6L1182.0 308.5L1183.0 310.4L1184.0 312.4L1185.0 314.4L1186.0 316.5L1187.0 318.6L1188.0 320.7L1189.0 322.9L1190.0 325.1L1191.0 327.3L1192.0 329.6L1193.0 331.9L1194.0 334.2L1195.0 336.5L1196.0 338.9L1197.0 341.3L1198.0 343.8L1199.0 346.2L1200.0 348.7L1201.0 351.2L1202.0 353.8L1203.0 356.3L1204.0 358.9L1205.0 361.5L1206.0 364.1L1207.0 366.8L1208.0 369.4L1209.0 372.1L1210.0 374.8L1211.0 377.5L1212.0 380.2L1213.0 383.0L1214.0 385.7L1215.0 388.5L1216.0 391.3L1217.0 394.1L1218.0 396.9L1219.0 399.7L1220.0 402.5L1221.0 405.3L1222.0 408.1L1223.0 411.0L1224.0 413.8L1225.0 416.6L1226.0 419.5L1227.0 422.3L1228.0 425.2L1229.0 428.0L1230.0 430.9L1231.0 433.7L1232.0 436.6L1233.0 439.4L1234.0 442.3L1235.0 445.1L1236.0 447.9L1237.0 450.7L1238.0 453.6L1239.0 456.4L1240.0 459.2L1241.0 461.9L1242.0 464.7L1243.0 467.5L1244.0 470.2L1245.0 473.0L1246.0 475.7L1247.0 478.4L1248.0 481.1L1249.0 483.8L1250.0 486.4L1251.0 489.1L1252.0 491.7L1253.0 494.3L1254.0 496.9L1255.0 499.4L1256.0 501.9L1257.0 504.4L1258.0 506.9L1259.0 509.4L1260.0 511.8L1261.0 514.2L1262.0 516.6L1263.0 519.0L1264.0 521.3L1265.0 523.6L1266.0 525.8L1267.0 528.1L1268.0 530.2L1269.0 532.4L1270.0 534.5L1271.0 536.6L1272.0 538.7L1273.0 540.7L1274.0 542.7L1275.0 544.6L1276.0 546.5L1277.0 548.4L1278.0 550.2L1279.0 552.0L1280.0 553.8L1281.0 555.5L1282.0 557.1L1283.0 558.7L1284.0 560.3L1285.0 561.8L1286.0 563.3L1287.0 564.8L1288.0 566.2L1289.0 567.5L1290.0 568.8L1291.0 570.0L1292.0 571.2L1293.0 572.4L1294.0 573.5L1295.0 574.5L1296.0 575.5L1297.0 576.4L1298.0 577.3L1299.0 578.1L1300.0 578.9L1301.0 579.6L1302.0 580.3L1303.0 580.9L1304.0 581.5L1305.0 582.0L1306.0 582.4L1307.0 582.8L1308.0 583.1L1309.0 583.4L1310.0 583.6L1311.0 583.7L1312.0 583.8L1313.0 583.9L1314.0 583.8L1315.0 583.7L1316.0 583.5L1317.0 583.3L1318.0 583.0L1319.0 582.6L1320.0 582.1L1321.0 581.6L1322.0 581.0L1323.0 580.3L1324.0 579.6L1325.0 578.8L1326.0 577.9L1327.0 577.0L1328.0 576.0L1329.0 574.9L1330.0 573.8L1331.0 572.6L1332.0 571.3L1333.0 570.0L1334.0 568.6L1335.0 567.2L1336.0 565.7L1337.0 564.1L1338.0 562.5L1339.0 560.8L1340.0 559.1L1341.0 557.3L1342.0 555.4L1343.0 553.5L1344.0 551.6L1345.0 549.6L1346.0 547.5L1347.0 545.4L1348.0 543.2L1349.0 541.0L1350.0 538.7L1351.0 536.3L1352.0 534.0L1353.0 531.5L1354.0 529.1L1355.0 526.5L1356.0 524.0L1357.0 521.4L1358.0 518.7L1359.0 516.0L1360.0 513.3L1361.0 510.5L1362.0 507.7L1363.0 504.8L1364.0 501.9L1365.0 499.0L1366.0 496.0L1367.0 493.0L1368.0 490.0L1369.0 486.9L1370.0 483.8L1371.0 480.6L1372.0 477.5L1373.0 474.3L1374.0 471.0L1375.0 467.8L1376.0 464.5L1377.0 461.2L1378.0 457.8L1379.0 454.4L1380.0 451.0L1381.0 447.6L1382.0 444.2L1383.0 440.7L1384.0 437.3L1385.0 433.8L1386.0 430.2L1387.0 426.7L1388.0 423.2L1389.0 419.6L1390.0 416.0L1391.0 412.4L1392.0 408.8L1393.0 405.2L1394.0 401.6L1395.0 397.9L1396.0 394.3L1397.0 390.6L1398.0 386.9L1399.0 383.3L1400.0 379.6L1401.0 375.9L1402.0 372.2L1403.0 368.5L1404.0 364.8L1405.0 361.1L1406.0 357.5L1407.0 353.8L1408.0 350.1L1409.0 346.4L1410.0 342.7L1411.0 339.0L1412.0 335.3L1413.0 331.7L1414.0 328.0L1415.0 324.4L1416.0 320.7L1417.0 317.1L1418.0 313.5L1419.0 309.8L1420.0 306.2L1421.0 302.6L1422.0 299.1L1423.0 295.5L1424.0 292.0L1425.0 288.4L1426.0 284.9L1427.0 281.4L1428.0 277.9L1429.0 274.5L1430.0 271.1L1431.0 267.6L1432.0 264.2L1433.0 260.9L1434.0 257.5L1435.0 254.2L1436.0 250.9L1437.0 247.6L1438.0 244.4L1439.0 241.1L1440.0 237.9L1441.0 234.8L1442.0 231.6L1443.0 228.5L1444.0 225.4L1445.0 222.4L1446.0 219.4L1447.0 216.4L1448.0 213.4L1449.0 210.5L1450.0 207.6L1451.0 204.8L1452.0 201.9L1453.0 199.2L1454.0 196.4L1455.0 193.7L1456.0 191.0L1457.0 188.4L1458.0 185.8L1459.0 183.3L1460.0 180.8L1461.0 178.3L1462.0 175.9L1463.0 173.5L1464.0 171.1L1465.0 168.8L1466.0 166.6L1467.0 164.3L1468.0 162.2L1469.0 160.0L1470.0 157.9L1471.0 155.9L1472.0 153.9L1473.0 152.0L1474.0 150.1L1475.0 148.2L1476.0 146.4L1477.0 144.7L1478.0 142.9L1479.0 141.3L1480.0 139.7L1481.0 138.1L1482.0 136.6L1483.0 135.1L1484.0 133.7L1485.0 132.4L1486.0 131.1L1487.0 129.8L1488.0 128.6L1489.0 127.5L1490.0 126.4L1491.0 125.3L1492.0 124.3L1493.0 123.4L1494.0 122.5L1495.0 121.6L1496.0 120.9L1497.0 120.1L1498.0 119.5L1499.0 118.9L1500.0 118.3L1501.0 117.8L1502.0 117.3L1503.0 116.9L1504.0 116.6L1505.0 116.3L1506.0 116.1L1507.0 115.9L1508.0 115.8L1509.0 115.7L1510.0 115.7L1511.0 115.7L1512.0 115.8L1513.0 115.9L1514.0 116.1L1515.0 116.3L1516.0 116.5L1517.0 116.8L1518.0 117.1L1519.0 117.5L1520.0 117.9L1521.0 118.4L1522.0 118.9L1523.0 119.5L1524.0 120.1L1525.0 120.8L1526.0 121.5L1527.0 122.2L1528.0 123.0L1529.0 123.9L1530.0 124.8L1531.0 125.7L1532.0 126.7L1533.0 127.8L1534.0 128.9L1535.0 130.1L1536.0 131.3L1537.0 132.5L1538.0 133.8L1539.0 135.2L1540.0 136.6L1541.0 138.0L1542.0 139.6L1543.0 141.1L1544.0 142.7L1545.0 144.4L1546.0 146.1L1547.0 147.9L1548.0 149.7L1549.0 151.5L1550.0 153.4L1551.0 155.4L1552.0 157.4L1553.0 159.5L1554.0 161.6L1555.0 163.7L1556.0 165.9L1557.0 168.1L1558.0 170.4L1559.0 172.8L1560.0 175.1L1561.0 177.6L1562.0 180.0L1563.0 182.5L1564.0 185.1L1565.0 187.7L1566.0 190.3L1567.0 193.0L1568.0 195.7L1569.0 198.4L1570.0 201.2L1571.0 204.0L1572.0 206.9L1573.0 209.8L1574.0 212.7L1575.0 215.7L1576.0 218.7L1577.0 221.7L1578.0 224.8L1579.0 227.8L1580.0 230.9L1581.0 234.1L1582.0 237.2L1583.0 240.4L1584.0 243.6L1585.0 246.9L1586.0 250.1L1587.0 253.4L1588.0 256.7L1589.0 260.0L1590.0 263.4L1591.0 266.7L1592.0 270.1L1593.0 273.4L1594.0 276.8L1595.0 280.2L1596.0 283.6L1597.0 287.0L1598.0 290.4L1599.0 293.9L1600.0 297.3L1601.0 300.7L1602.0 304.2L1603.0 307.6L1604.0 311.1L1605.0 314.5L1606.0 317.9L1607.0 321.4L1608.0 324.8L1609.0 328.2L1610.0 331.6L1611.0 335.0L1612.0 338.4L1613.0 341.8L1614.0 345.1L1615.0 348.5L1616.0 351.8L1617.0 355.2L1618.0 358.5L1619.0 361.8L1620.0 365.0L1621.0 368.3L1622.0 371.5L1623.0 374.7L1624.0 377.9L1625.0 381.1L1626.0 384.2L1627.0 387.3L1628.0 390.4L1629.0 393.5L1630.0 396.5L1631.0 399.5L1632.0 402.5L1633.0 405.4L1634.0 408.3L1635.0 411.2L1636.0 414.0L1637.0 416.8L1638.0 419.6L1639.0 422.4L1640.0 425.1L1641.0 427.7L1642.0 430.3L1643.0 432.9L1644.0 435.5L1645.0 438.0L1646.0 440.5L1647.0 442.9L1648.0 445.3L1649.0 447.6L1650.0 449.9L1651.0 452.2L1652.0 454.4L1653.0 456.6L1654.0 458.7L1655.0 460.8L1656.0 462.9L1657.0 464.9L1658.0 466.9L1659.0 468.8L1660.0 470.7L1661.0 472.5L1662.0 474.3L1663.0 476.0L1664.0 477.8L1665.0 479.4L1666.0 481.0L1667.0 482.6L1668.0 484.1L1669.0 485.6L1670.0 487.1L1671.0 488.5L1672.0 489.8L1673.0 491.1L1674.0 492.4L1675.0 493.6L1676.0 494.8L1677.0 496.0L1678.0 497.1L1679.0 498.1L1680.0 499.1L1681.0 500.1L1682.0 501.1L1683.0 502.0L1684.0 502.8L1685.0 503.7L1686.0 504.4L1687.0 505.2L1688.0 505.9L1689.0 506.6L1690.0 507.2L1691.0 507.8L1692.0 508.4L1693.0 508.9L1694.0 509.4L1695.0 509.9L1696.0 510.3L1697.0 510.7L1698.0 511.1L1699.0 511.4L1700.0 511.7L1701.0 512.0L1702.0 512.2L1703.0 512.4L1704.0 512.6L1705.0 512.8L1706.0 512.9L1707.0 513.0L1708.0 513.1L1709.0 513.2L1710.0 513.2L1711.0 513.2L1712.0 513.2L1713.0 513.2L1714.0 513.1L1715.0 513.0L1716.0 512.8L1717.0 512.7L1718.0 512.5L1719.0 512.2L1720.0 511.9L1721.0 511.6L1722.0 511.3L1723.0 510.9L1724.0 510.5L1725.0 510.1L1726.0 509.6L1727.0 509.1L1728.0 508.6L1729.0 508.0L1730.0 507.4L1731.0 506.8L1732.0 506.2L1733.0 505.5L1734.0 504.8L1735.0 504.1L1736.0 503.3L1737.0 502.5L1738.0 501.7L1739.0 500.9L1740.0 500.0L1741.0 499.1L1742.0 498.2L1743.0 497.3L1744.0 496.4L1745.0 495.4L1746.0 494.4L1747.0 493.4L1748.0 492.3L1749.0 491.3L1750.0 490.2L1751.0 489.1L1752.0 487.9L1753.0 486.8L1754.0 485.6L1755.0 484.5L1756.0 483.3L1757.0 482.0L1758.0 480.8L1759.0 479.6L1760.0 478.3L1761.0 477.0L1762.0 475.7L1763.0 474.4L1764.0 473.1L1765.0 471.8L1766.0 470.4L1767.0 469.0L1768.0 467.7L1769.0 466.3L1770.0 464.9L1771.0 463.5L1772.0 462.1L1773.0 460.6L1774.0 459.2L1775.0 457.8L1776.0 456.3L1777.0 454.8L1778.0 453.4L1779.0 451.9L1780.0 450.4L1781.0 448.9L1782.0 447.4L1783.0 445.9L1784.0 444.4L1785.0 442.9L1786.0 441.4L1787.0 439.9L1788.0 438.4L1789.0 436.9L1790.0 435.4L1791.0 433.9L1792.0 432.3L1793.0 430.8L1794.0 429.3L1795.0 427.8L1796.0 426.3L1797.0 424.8L1798.0 423.3L1799.0 421.7L1800.0 420.2L1801.0 418.7L1802.0 417.2L1803.0 415.8L1804.0 414.3L1805.0 412.8L1806.0 411.3L1807.0 409.8L1808.0 408.4L1809.0 406.9L1810.0 405.5L1811.0 404.0L1812.0 402.6L1813.0 401.2L1814.0 399.8L1815.0 398.4L1816.0 397.0L1817.0 395.6L1818.0 394.2L1819.0 392.9L1820.0 391.5L1821.0 390.2L1822.0 388.8L1823.0 387.5L1824.0 386.2L1825.0 385.0L1826.0 383.7L1827.0 382.4L1828.0 381.2L1829.0 380.0L1830.0 378.8L1831.0 377.6L1832.0 376.4L1833.0 375.2L1834.0 374.1L1835.0 373.0L1836.0 371.9L1837.0 370.8L1838.0 369.7L1839.0 368.7L1840.0 367.6L1841.0 366.6L1842.0 365.6L1843.0 364.7L1844.0 363.7L1845.0 362.8L1846.0 361.9L1847.0 361.0L1848.0 360.1L1849.0 359.3L1850.0 358.5L1851.0 357.7L1852.0 356.9L1853.0 356.2L1854.0 355.5L1855.0 354.8L1856.0 354.1L1857.0 353.4L1858.0 352.8L1859.0 352.2L1860.0 351.7L1861.0 351.1L1862.0 350.6L1863.0 350.1L1864.0 349.6L1865.0 349.2L1866.0 348.8L1867.0 348.4L1868.0 348.0L1869.0 347.7L1870.0 347.4L1871.0 347.1L1872.0 346.9L1873.0 346.6L1874.0 346.5L1875.0 346.3L1876.0 346.2L1877.0 346.1L1878.0 346.0L1879.0 345.9L1880.0 345.9L1881.0 345.9L1882.0 346.0L1883.0 346.0L1884.0 346.0L1885.0 346.1L1886.0 346.2L1887.0 346.3L1888.0 346.4L1889.0 346.5L1890.0 346.7L1891.0 346.8L1892.0 347.0L1893.0 347.2L1894.0 347.4L1895.0 347.6L1896.0 347.8L1897.0 348.1L1898.0 348.3L1899.0 348.6L1900.0 348.9L1901.0 349.2L1902.0 349.5L1903.0 349.8L1904.0 350.2L1905.0 350.5L1906.0 350.9L1907.0 351.3L1908.0 351.6L1909.0 352.1L1910.0 352.5L1911.0 352.9L1912.0 353.3L1913.0 353.8L1914.0 354.2L1915.0 354.7L1916.0 355.2L1917.0 355.7L1918.0 356.2L1919.0 356.7L1920.0 357.3L1921.0 357.8L1922.0 358.4L1923.0 358.9L1924.0 359.5L1925.0 360.1L1926.0 360.6L1927.0 361.2L1928.0 361.8L1929.0 362.5L1930.0 363.1L1931.0 363.7L1932.0 364.3L1933.0 365.0L1934.0 365.6L1935.0 366.3L1936.0 367.0L1937.0 367.6L1938.0 368.3L1939.0 369.0L1940.0 369.7L1941.0 370.4L1942.0 371.0L1943.0 371.7L1944.0 372.4L1945.0 373.2L1946.0 373.9L1947.0 374.6L1948.0 375.3L1949.0 376.0L1950.0 376.7L1951.0 377.5L1952.0 378.2L1953.0 378.9L1954.0 379.6L1955.0 380.4L1956.0 381.1L1957.0 381.8L1958.0 382.5L1959.0 383.3L1960.0 384.0L1961.0 384.7L1962.0 385.4L1963.0 386.2L1964.0 386.9L1965.0 387.6L1966.0 388.3L1967.0 389.0L1968.0 389.7L1969.0 390.4L1970.0 391.1L1971.0 391.8L1972.0 392.5L1973.0 393.2L1974.0 393.9L1975.0 394.6L1976.0 395.2L1977.0 395.9L1978.0 396.6L1979.0 397.2L1980.0 397.9L1981.0 398.5L1982.0 399.1L1983.0 399.8L1984.0 400.4L1985.0 401.0L1986.0 401.6L1987.0 402.2L1988.0 402.8L1989.0 403.3L1990.0 403.9L1991.0 404.4L1992.0 405.0L1993.0 405.5L1994.0 406.0L1995.0 406.6L1996.0 407.1L1997.0 407.5L1998.0 408.0L1999.0 408.5L2000.0 409.0L2001.0 409.4L2002.0 409.8L2003.0 410.2L2004.0 410.7L2005.0 411.1L2006.0 411.4L2007.0 411.8L2008.0 412.2L2009.0 412.5L2010.0 412.8L2011.0 413.2L2012.0 413.5L2013.0 413.8L2014.0 414.0L2015.0 414.3L2016.0 414.5L2017.0 414.8L2018.0 415.0L2019.0 415.2L2020.0 415.4L2021.0 415.6L2022.0 415.7L2023.0 415.9L2024.0 416.0L2025.0 416.1L2026.0 416.2L2027.0 416.3L2028.0 416.4L2029.0 416.5L2030.0 416.5L2031.0 416.5L2032.0 416.5L2033.0 416.5L2034.0 416.5L2035.0 416.5L2036.0 416.5L2037.0 416.4L2038.0 416.4L2039.0 416.3L2040.0 416.2L2041.0 416.1L2042.0 416.0L2043.0 415.9L2044.0 415.8L2045.0 415.7L2046.0 415.5L2047.0 415.4L2048.0 415.2L2049.0 415.0L2050.0 414.8L2051.0 414.6L2052.0 414.4L2053.0 414.2L2054.0 414.0L2055.0 413.7L2056.0 413.5L2057.0 413.2L2058.0 413.0L2059.0 412.7L2060.0 412.4L2061.0 412.1L2062.0 411.8L2063.0 411.5L2064.0 411.2L2065.0 410.8L2066.0 410.5L2067.0 410.1L2068.0 409.8L2069.0 409.4L2070.0 409.0L2071.0 408.7L2072.0 408.3L2073.0 407.9L2074.0 407.5L2075.0 407.1L2076.0 406.6L2077.0 406.2L2078.0 405.8L2079.0 405.3L2080.0 404.9L2081.0 404.5L2082.0 404.0L2083.0 403.5L2084.0 403.1L2085.0 402.6L2086.0 402.1L2087.0 401.6L2088.0 401.1L2089.0 400.7L2090.0 400.2L2091.0 399.7L2092.0 399.2L2093.0 398.7L2094.0 398.1L2095.0 397.6L2096.0 397.1L2097.0 396.6L2098.0 396.1L2099.0 395.5L2100.0 395.0L2101.0 394.5L2102.0 394.0L2103.0 393.4L2104.0 392.9L2105.0 392.4L2106.0 391.8" fill="none" stroke="#f00" stroke-width="4" stroke-linejoin="round" clip-path="url(#ca)"/>
<path d="M184.0 392.6L185.0 393.1L186.0 393.7L187.0 394.3L188.0 394.9L189.0 395.5L190.0 396.0L191.0 396.6L192.0 397.2L193.0 397.8L194.0 398.3L195.0 398.9L196.0 399.4L197.0 400.0L198.0 400.6L199.0 401.1L200.0 401.6L201.0 402.2L202.0 402.7L203.0 403.2L204.0 403.8L205.0 404.3L206.0 404.8L207.0 405.3L208.0 405.8L209.0 406.3L210.0 406.8L211.0 407.3L212.0 407.8L213.0 408.2L214.0 408.7L215.0 409.1L216.0 409.6L217.0 410.0L218.0 410.4L219.0 410.9L220.0 411.3L221.0 411.7L222.0 412.1L223.0 412.5L224.0 412.8L225.0 413.2L226.0 413.6L227.0 413.9L228.0 414.2L229.0 414.6L230.0 414.9L231.0 415.2L232.0 415.5L233.0 415.8L234.0 416.1L235.0 416.3L236.0 416.6L237.0 416.8L238.0 417.0L239.0 417.3L240.0 417.5L241.0 417.7L242.0 417.9L243.0 418.0L244.0 418.2L245.0 418.3L246.0 418.5L247.0 418.6L248.0 418.7L249.0 418.8L250.0 418.9L251.0 419.0L252.0 419.1L253.0 419.1L254.0 419.2L255.0 419.2L256.0 419.2L257.0 419.2L258.0 419.2L259.0 419.2L260.0 419.1L261.0 419.1L262.0 419.0L263.0 418.9L264.0 418.8L265.0 418.7L266.0 418.6L267.0 418.4L268.0 418.2L269.0 418.0L270.0 417.8L271.0 417.6L272.0 417.4L273.0 417.1L274.0 416.9L275.0 416.6L276.0 416.3L277.0 416.0L278.0 415.7L279.0 415.3L280.0 415.0L281.0 414.6L282.0 414.2L283.0 413.8L284.0 413.4L285.0 413.0L286.0 412.5L287.0 412.1L288.0 411.6L289.0 411.1L290.0 410.6L291.0 410.1L292.0 409.6L293.0 409.1L294.0 408.5L295.0 408.0L296.0 407.4L297.0 406.8L298.0 406.2L299.0 405.6L300.0 405.0L301.0 404.4L302.0 403.7L303.0 403.1L304.0 402.5L305.0 401.8L306.0 401.1L307.0 400.4L308.0 399.7L309.0 399.1L310.0 398.3L311.0 397.6L312.0 396.9L313.0 396.2L314.0 395.5L315.0 394.7L316.0 394.0L317.0 393.2L318.0 392.5L319.0 391.7L320.0 390.9L321.0 390.2L322.0 389.4L323.0 388.6L324.0 387.8L325.0 387.0L326.0 386.2L327.0 385.5L328.0 384.7L329.0 383.9L330.0 383.1L331.0 382.3L332.0 381.5L333.0 380.7L334.0 379.9L335.0 379.1L336.0 378.3L337.0 377.5L338.0 376.7L339.0 375.9L340.0 375.1L341.0 374.3L342.0 373.5L343.0 372.7L344.0 371.9L345.0 371.2L346.0 370.4L347.0 369.6L348.0 368.8L349.0 368.1L350.0 367.3L351.0 366.6L352.0 365.8L353.0 365.1L354.0 364.4L355.0 363.6L356.0 362.9L357.0 362.2L358.0 361.5L359.0 360.8L360.0 360.1L361.0 359.4L362.0 358.8L363.0 358.1L364.0 357.4L365.0 356.8L366.0 356.2L367.0 355.5L368.0 354.9L369.0 354.3L370.0 353.7L371.0 353.2L372.0 352.6L373.0 352.0L374.0 351.5L375.0 351.0L376.0 350.4L377.0 349.9L378.0 349.4L379.0 349.0L380.0 348.5L381.0 348.0L382.0 347.6L383.0 347.2L384.0 346.7L385.0 346.3L386.0 346.0L387.0 345.6L388.0 345.2L389.0 344.9L390.0 344.6L391.0 344.2L392.0 344.0L393.0 343.7L394.0 343.4L395.0 343.2L396.0 342.9L397.0 342.7L398.0 342.5L399.0 342.3L400.0 342.1L401.0 342.0L402.0 341.8L403.0 341.7L404.0 341.6L405.0 341.5L406.0 341.5L407.0 341.4L408.0 341.4L409.0 341.3L410.0 341.3L411.0 341.3L412.0 341.4L413.0 341.5L414.0 341.6L415.0 341.7L416.0 341.8L417.0 342.0L418.0 342.2L419.0 342.5L420.0 342.7L421.0 343.0L422.0 343.4L423.0 343.7L424.0 344.1L425.0 344.5L426.0 344.9L427.0 345.3L428.0 345.8L429.0 346.3L430.0 346.9L431.0 347.4L432.0 348.0L433.0 348.6L434.0 349.2L435.0 349.9L436.0 350.5L437.0 351.2L438.0 351.9L439.0 352.7L440.0 353.5L441.0 354.2L442.0 355.0L443.0 355.9L444.0 356.7L445.0 357.6L446.0 358.5L447.0 359.4L448.0 360.3L449.0 361.3L450.0 362.3L451.0 363.3L452.0 364.3L453.0 365.3L454.0 366.4L455.0 367.4L456.0 368.5L457.0 369.6L458.0 370.7L459.0 371.9L460.0 373.0L461.0 374.2L462.0 375.4L463.0 376.6L464.0 377.8L465.0 379.0L466.0 380.3L467.0 381.5L468.0 382.8L469.0 384.1L470.0 385.4L471.0 386.7L472.0 388.0L473.0 389.3L474.0 390.7L475.0 392.1L476.0 393.4L477.0 394.8L478.0 396.2L479.0 397.6L480.0 399.0L481.0 400.4L482.0 401.8L483.0 403.3L484.0 404.7L485.0 406.2L486.0 407.6L487.0 409.1L488.0 410.6L489.0 412.0L490.0 413.5L491.0 415.0L492.0 416.5L493.0 418.0L494.0 419.5L495.0 421.0L496.0 422.5L497.0 424.0L498.0 425.5L499.0 427.0L500.0 428.5L501.0 430.0L502.0 431.5L503.0 433.1L504.0 434.6L505.0 436.1L506.0 437.6L507.0 439.1L508.0 440.6L509.0 442.1L510.0 443.6L511.0 445.1L512.0 446.6L513.0 448.1L514.0 449.6L515.0 451.1L516.0 452.5L517.0 454.0L518.0 455.4L519.0 456.9L520.0 458.3L521.0 459.8L522.0 461.2L523.0 462.6L524.0 464.0L525.0 465.4L526.0 466.8L527.0 468.2L528.0 469.5L529.0 470.9L530.0 472.2L531.0 473.5L532.0 474.9L533.0 476.2L534.0 477.4L535.0 478.7L536.0 479.9L537.0 481.2L538.0 482.4L539.0 483.6L540.0 484.8L541.0 485.9L542.0 487.1L543.0 488.2L544.0 489.3L545.0 490.4L546.0 491.5L547.0 492.5L548.0 493.5L549.0 494.5L550.0 495.5L551.0 496.4L552.0 497.4L553.0 498.3L554.0 499.2L555.0 500.0L556.0 500.8L557.0 501.6L558.0 502.4L559.0 503.2L560.0 503.9L561.0 504.6L562.0 505.2L563.0 505.9L564.0 506.5L565.0 507.0L566.0 507.6L567.0 508.1L568.0 508.6L569.0 509.0L570.0 509.4L571.0 509.8L572.0 510.1L573.0 510.5L574.0 510.7L575.0 511.0L576.0 511.2L577.0 511.4L578.0 511.5L579.0 511.6L580.0 511.7L581.0 511.7L582.0 511.7L583.0 511.7L584.0 511.6L585.0 511.5L586.0 511.3L587.0 511.1L588.0 510.9L589.0 510.6L590.0 510.3L591.0 510.0L592.0 509.6L593.0 509.1L594.0 508.7L595.0 508.2L596.0 507.6L597.0 507.0L598.0 506.4L599.0 505.8L600.0 505.1L601.0 504.3L602.0 503.5L603.0 502.7L604.0 501.9L605.0 501.0L606.0 500.0L607.0 499.0L608.0 498.0L609.0 496.9L610.0 495.8L611.0 494.7L612.0 493.5L613.0 492.3L614.0 491.0L615.0 489.7L616.0 488.4L617.0 487.0L618.0 485.6L619.0 484.1L620.0 482.6L621.0 481.1L622.0 479.5L623.0 477.9L624.0 476.2L625.0 474.5L626.0 472.8L627.0 471.0L628.0 469.2L629.0 467.4L630.0 465.5L631.0 463.6L632.0 461.7L633.0 459.7L634.0 457.6L635.0 455.6L636.0 453.5L637.0 451.4L638.0 449.2L639.0 447.0L640.0 444.8L641.0 442.6L642.0 440.3L643.0 438.0L644.0 435.6L645.0 433.2L646.0 430.8L647.0 428.4L648.0 425.9L649.0 423.4L650.0 420.9L651.0 418.4L652.0 415.8L653.0 413.2L654.0 410.6L655.0 407.9L656.0 405.3L657.0 402.6L658.0 399.8L659.0 397.1L660.0 394.4L661.0 391.6L662.0 388.8L663.0 386.0L664.0 383.1L665.0 380.3L666.0 377.4L667.0 374.5L668.0 371.6L669.0 368.7L670.0 365.8L671.0 362.9L672.0 359.9L673.0 357.0L674.0 354.0L675.0 351.0L676.0 348.0L677.0 345.0L678.0 342.0L679.0 339.0L680.0 336.0L681.0 333.0L682.0 330.0L683.0 326.9L684.0 323.9L685.0 320.9L686.0 317.8L687.0 314.8L688.0 311.8L689.0 308.8L690.0 305.8L691.0 302.7L692.0 299.7L693.0 296.7L694.0 293.7L695.0 290.7L696.0 287.7L697.0 284.8L698.0 281.8L699.0 278.8L700.0 275.9L701.0 273.0L702.0 270.1L703.0 267.2L704.0 264.3L705.0 261.4L706.0 258.5L707.0 255.7L708.0 252.9L709.0 250.1L710.0 247.3L711.0 244.5L712.0 241.8L713.0 239.1L714.0 236.4L715.0 233.7L716.0 231.1L717.0 228.4L718.0 225.8L719.0 223.3L720.0 220.7L721.0 218.2L722.0 215.7L723.0 213.3L724.0 210.8L725.0 208.4L726.0 206.1L727.0 203.7L728.0 201.4L729.0 199.2L730.0 196.9L731.0 194.7L732.0 192.6L733.0 190.4L734.0 188.3L735.0 186.3L736.0 184.2L737.0 182.2L738.0 180.3L739.0 178.4L740.0 176.5L741.0 174.7L742.0 172.9L743.0 171.1L744.0 169.4L745.0 167.7L746.0 166.1L747.0 164.5L748.0 163.0L749.0 161.4L750.0 160.0L751.0 158.6L752.0 157.2L753.0 155.8L754.0 154.5L755.0 153.3L756.0 152.1L757.0 150.9L758.0 149.8L759.0 148.7L760.0 147.7L761.0 146.7L762.0 145.8L763.0 144.9L764.0 144.0L765.0 143.2L766.0 142.5L767.0 141.7L768.0 141.1L769.0 140.4L770.0 139.9L771.0 139.3L772.0 138.8L773.0 138.4L774.0 138.0L775.0 137.6L776.0 137.3L777.0 137.1L778.0 136.8L779.0 136.7L780.0 136.5L781.0 136.4L782.0 136.4L783.0 136.4L784.0 136.5L785.0 136.6L786.0 136.8L787.0 137.1L788.0 137.4L789.0 137.8L790.0 138.3L791.0 138.8L792.0 139.4L793.0 140.1L794.0 140.8L795.0 141.6L796.0 142.4L797.0 143.3L798.0 144.3L799.0 145.3L800.0 146.4L801.0 147.6L802.0 148.8L803.0 150.0L804.0 151.3L805.0 152.7" fill="none" stroke="#00f" stroke-width="4" stroke-dasharray="44.667 24.815" stroke-dashoffset="0.000" stroke-linejoin="round" clip-path="url(#ca)"/>
<path d="M804.0 151.3L805.0 152.7L806.0 154.1L807.0 155.6L808.0 157.2L809.0 158.8L810.0 160.4L811.0 162.1L812.0 163.8L813.0 165.6L814.0 167.5L815.0 169.4L816.0 171.3L817.0 173.3L818.0 175.4L819.0 177.4L820.0 179.6L821.0 181.7L822.0 184.0L823.0 186.2L824.0 188.5L825.0 190.9L826.0 193.2L827.0 195.7L828.0 198.1L829.0 200.6L830.0 203.2L831.0 205.8L832.0 208.4L833.0 211.0L834.0 213.7L835.0 216.4L836.0 219.2L837.0 221.9L838.0 224.7L839.0 227.6L840.0 230.5L841.0 233.3L842.0 236.3L843.0 239.2L844.0 242.2L845.0 245.2L846.0 248.2L847.0 251.3L848.0 254.4L849.0 257.5L850.0 260.6L851.0 263.7L852.0 266.9L853.0 270.1L854.0 273.3L855.0 276.5L856.0 279.7L857.0 282.9L858.0 286.2L859.0 289.5L860.0 292.8L861.0 296.1L862.0 299.4L863.0 302.7L864.0 306.0L865.0 309.4L866.0 312.7L867.0 316.1L868.0 319.4L869.0 322.8L870.0 326.2L871.0 329.6L872.0 332.9L873.0 336.3L874.0 339.7L875.0 343.1L876.0 346.5L877.0 349.9L878.0 353.3L879.0 356.6L880.0 360.0L881.0 363.4L882.0 366.8L883.0 370.2L884.0 373.5L885.0 376.9L886.0 380.2L887.0 383.6L888.0 386.9L889.0 390.2L890.0 393.5L891.0 396.8L892.0 400.1L893.0 403.4L894.0 406.6L895.0 409.9L896.0 413.1L897.0 416.3L898.0 419.5L899.0 422.7L900.0 425.9L901.0 429.0L902.0 432.2L903.0 435.3L904.0 438.3L905.0 441.4L906.0 444.4L907.0 447.5L908.0 450.5L909.0 453.4L910.0 456.4L911.0 459.3L912.0 462.2L913.0 465.0L914.0 467.9L915.0 470.7L916.0 473.4L917.0 476.2L918.0 478.9L919.0 481.6L920.0 484.2L921.0 486.8L922.0 489.4L923.0 491.9L924.0 494.4L925.0 496.9L926.0 499.4L927.0 501.8L928.0 504.1L929.0 506.4L930.0 508.7L931.0 511.0L932.0 513.2L933.0 515.3L934.0 517.4L935.0 519.5L936.0 521.5L937.0 523.5L938.0 525.5L939.0 527.4L940.0 529.2L941.0 531.0L942.0 532.8L943.0 534.5L944.0 536.1L945.0 537.8L946.0 539.3L947.0 540.8L948.0 542.3L949.0 543.7L950.0 545.1L951.0 546.4L952.0 547.6L953.0 548.8L954.0 550.0L955.0 551.0L956.0 552.1L957.0 553.1L958.0 554.0L959.0 554.9L960.0 555.7L961.0 556.4L962.0 557.1L963.0 557.8L964.0 558.3L965.0 558.9L966.0 559.3L967.0 559.7L968.0 560.1L969.0 560.3L970.0 560.5L971.0 560.7L972.0 560.8L973.0 560.8L974.0 560.8L975.0 560.7L976.0 560.6L977.0 560.4L978.0 560.2L979.0 560.0L980.0 559.7L981.0 559.3L982.0 558.9L983.0 558.4L984.0 557.9L985.0 557.4L986.0 556.8L987.0 556.1L988.0 555.4L989.0 554.7L990.0 553.9L991.0 553.1L992.0 552.2L993.0 551.3L994.0 550.3L995.0 549.3L996.0 548.2L997.0 547.1L998.0 545.9L999.0 544.8L1000.0 543.5L1001.0 542.2L1002.0 540.9L1003.0 539.5L1004.0 538.1L1005.0 536.7L1006.0 535.2L1007.0 533.6L1008.0 532.1L1009.0 530.4L1010.0 528.8L1011.0 527.1L1012.0 525.4L1013.0 523.6L1014.0 521.8L1015.0 520.0L1016.0 518.1L1017.0 516.2L1018.0 514.2L1019.0 512.2L1020.0 510.2L1021.0 508.2L1022.0 506.1L1023.0 504.0L1024.0 501.9L1025.0 499.7L1026.0 497.5L1027.0 495.3L1028.0 493.0L1029.0 490.8L1030.0 488.5L1031.0 486.2L1032.0 483.8L1033.0 481.4L1034.0 479.0L1035.0 476.6L1036.0 474.2L1037.0 471.7L1038.0 469.3L1039.0 466.8L1040.0 464.3L1041.0 461.8L1042.0 459.2L1043.0 456.7L1044.0 454.1L1045.0 451.5L1046.0 449.0L1047.0 446.4L1048.0 443.8L1049.0 441.1L1050.0 438.5L1051.0 435.9L1052.0 433.3L1053.0 430.6L1054.0 428.0L1055.0 425.3L1056.0 422.7L1057.0 420.1L1058.0 417.4L1059.0 414.8L1060.0 412.1L1061.0 409.5L1062.0 406.8L1063.0 404.2L1064.0 401.6L1065.0 399.0L1066.0 396.4L1067.0 393.8L1068.0 391.2L1069.0 388.6L1070.0 386.0L1071.0 383.4L1072.0 380.9L1073.0 378.4L1074.0 375.8L1075.0 373.3L1076.0 370.9L1077.0 368.4L1078.0 365.9L1079.0 363.5L1080.0 361.1L1081.0 358.7L1082.0 356.4L1083.0 354.0L1084.0 351.7L1085.0 349.4L1086.0 347.1L1087.0 344.9L1088.0 342.7L1089.0 340.5L1090.0 338.3L1091.0 336.2L1092.0 334.1L1093.0 332.0L1094.0 329.9L1095.0 327.9L1096.0 325.9L1097.0 324.0L1098.0 322.1L1099.0 320.2L1100.0 318.3L1101.0 316.5L1102.0 314.8L1103.0 313.0L1104.0 311.3L1105.0 309.7L1106.0 308.0L1107.0 306.4L1108.0 304.9L1109.0 303.4L1110.0 301.9L1111.0 300.5L1112.0 299.1L1113.0 297.8L1114.0 296.5L1115.0 295.2L1116.0 294.0L1117.0 292.8L1118.0 291.7L1119.0 290.6L1120.0 289.5L1121.0 288.5L1122.0 287.6L1123.0 286.7L1124.0 285.8L1125.0 285.0L1126.0 284.2L1127.0 283.4L1128.0 282.8L1129.0 282.1L1130.0 281.5L1131.0 281.0L1132.0 280.5L1133.0 280.0L1134.0 279.6L1135.0 279.2L1136.0 278.9L1137.0 278.6L1138.0 278.4L1139.0 278.2L1140.0 278.1L1141.0 278.0L1142.0 277.9L1143.0 277.9L1144.0 278.0L1145.0 278.1L1146.0 278.3L1147.0 278.5L1148.0 278.8L1149.0 279.2L1150.0 279.6L1151.0 280.1L1152.0 280.6L1153.0 281.2L1154.0 281.8L1155.0 282.5L1156.0 283.3L1157.0 284.1L1158.0 284.9L1159.0 285.8L1160.0 286.8L1161.0 287.8L1162.0 288.8L1163.0 289.9L1164.0 291.1L1165.0 292.3L1166.0 293.5L1167.0 294.8L1168.0 296.1L1169.0 297.5L1170.0 298.9L1171.0 300.4L1172.0 301.9L1173.0 303.4L1174.0 305.0L1175.0 306.6L1176.0 308.3L1177.0 310.0L1178.0 311.7L1179.0 313.5L1180.0 315.3L1181.0 317.2L1182.0 319.1L1183.0 321.0L1184.0 322.9L1185.0 324.9L1186.0 326.9L1187.0 328.9L1188.0 331.0L1189.0 333.1L1190.0 335.2L1191.0 337.4L1192.0 339.6L1193.0 341.8L1194.0 344.0L1195.0 346.3L1196.0 348.5L1197.0 350.8L1198.0 353.1L1199.0 355.5L1200.0 357.8L1201.0 360.2L1202.0 362.6L1203.0 365.0L1204.0 367.4L1205.0 369.9L1206.0 372.4L1207.0 374.8L1208.0 377.3L1209.0 379.8L1210.0 382.3L1211.0 384.8L1212.0 387.4L1213.0 389.9L1214.0 392.5L1215.0 395.0L1216.0 397.6L1217.0 400.2L1218.0 402.7L1219.0 405.3L1220.0 407.9L1221.0 410.5L1222.0 413.1L1223.0 415.7L1224.0 418.3L1225.0 420.9L1226.0 423.5L1227.0 426.1L1228.0 428.7L1229.0 431.3L1230.0 433.8L1231.0 436.4L1232.0 439.0L1233.0 441.6L1234.0 444.1L1235.0 446.7L1236.0 449.2L1237.0 451.8L1238.0 454.3L1239.0 456.8L1240.0 459.3L1241.0 461.8L1242.0 464.3L1243.0 466.8L1244.0 469.2L1245.0 471.7L1246.0 474.1L1247.0 476.5L1248.0 478.9L1249.0 481.3L1250.0 483.6L1251.0 486.0L1252.0 488.3L1253.0 490.6L1254.0 492.9L1255.0 495.1L1256.0 497.3L1257.0 499.6L1258.0 501.7L1259.0 503.9L1260.0 506.0L1261.0 508.1L1262.0 510.2L1263.0 512.3L1264.0 514.3L1265.0 516.3L1266.0 518.2L1267.0 520.2L1268.0 522.1L1269.0 523.9L1270.0 525.8L1271.0 527.6L1272.0 529.3L1273.0 531.1L1274.0 532.8L1275.0 534.4L1276.0 536.1L1277.0 537.6L1278.0 539.2L1279.0 540.7L1280.0 542.2L1281.0 543.6L1282.0 545.0L1283.0 546.3L1284.0 547.6L1285.0 548.9L1286.0 550.1L1287.0 551.3L1288.0 552.4L1289.0 553.5L1290.0 554.5L1291.0 555.5L1292.0 556.5L1293.0 557.3L1294.0 558.2L1295.0 559.0L1296.0 559.7L1297.0 560.4L1298.0 561.1L1299.0 561.7L1300.0 562.2L1301.0 562.7L1302.0 563.1L1303.0 563.5L1304.0 563.8L1305.0 564.1L1306.0 564.3L1307.0 564.5L1308.0 564.6L1309.0 564.7L1310.0 564.7L1311.0 564.6L1312.0 564.5L1313.0 564.3L1314.0 564.1L1315.0 563.8L1316.0 563.5L1317.0 563.1L1318.0 562.6L1319.0 562.1L1320.0 561.6L1321.0 560.9L1322.0 560.3L1323.0 559.5L1324.0 558.8L1325.0 557.9L1326.0 557.0L1327.0 556.1L1328.0 555.1L1329.0 554.0L1330.0 552.9L1331.0 551.8L1332.0 550.5L1333.0 549.3L1334.0 548.0L1335.0 546.6L1336.0 545.1L1337.0 543.7L1338.0 542.1L1339.0 540.5L1340.0 538.9L1341.0 537.2L1342.0 535.5L1343.0 533.7L1344.0 531.8L1345.0 530.0L1346.0 528.0L1347.0 526.0L1348.0 524.0L1349.0 521.9L1350.0 519.8L1351.0 517.6L1352.0 515.4L1353.0 513.1L1354.0 510.8L1355.0 508.5L1356.0 506.1L1357.0 503.6L1358.0 501.1L1359.0 498.6L1360.0 496.0L1361.0 493.4L1362.0 490.8L1363.0 488.1L1364.0 485.4L1365.0 482.6L1366.0 479.8L1367.0 477.0L1368.0 474.1L1369.0 471.2L1370.0 468.3L1371.0 465.3L1372.0 462.3L1373.0 459.3L1374.0 456.2L1375.0 453.1L1376.0 450.0L1377.0 446.9L1378.0 443.7L1379.0 440.5L1380.0 437.3L1381.0 434.0L1382.0 430.8L1383.0 427.5L1384.0 424.1L1385.0 420.8L1386.0 417.5L1387.0 414.1L1388.0 410.7L1389.0 407.3L1390.0 403.9L1391.0 400.4L1392.0 397.0L1393.0 393.5L1394.0 390.0L1395.0 386.5L1396.0 383.0L1397.0 379.5L1398.0 376.0L1399.0 372.5L1400.0 369.0L1401.0 365.4L1402.0 361.9L1403.0 358.3L1404.0 354.8L1405.0 351.3L1406.0 347.7L1407.0 344.2L1408.0 340.6L1409.0 337.1L1410.0 333.5L1411.0 330.0L1412.0 326.5L1413.0 323.0L1414.0 319.5L1415.0 316.0L1416.0 312.5L1417.0 309.0L1418.0 305.5L1419.0 302.1L1420.0 298.6L1421.0 295.2L1422.0 291.8L1423.0 288.4L1424.0 285.0L1425.0 281.6L1426.0 278.3L1427.0 275.0L1428.0 271.7L1429.0 268.4L1430.0 265.1L1431.0 261.9L1432.0 258.7L1433.0 255.5L1434.0 252.3L1435.0 249.2L1436.0 246.1L1437.0 243.0L1438.0 240.0L1439.0 236.9L1440.0 234.0L1441.0 231.0L1442.0 228.1L1443.0 225.2L1444.0 222.3L1445.0 219.5L1446.0 216.7L1447.0 214.0L1448.0 211.2L1449.0 208.6L1450.0 205.9L1451.0 203.3L1452.0 200.8L1453.0 198.2L1454.0 195.8L1455.0 193.3L1456.0 190.9L1457.0 188.6L1458.0 186.2L1459.0 184.0L1460.0 181.7L1461.0 179.6L1462.0 177.4L1463.0 175.3L1464.0 173.3L1465.0 171.3L1466.0 169.3L1467.0 167.4L1468.0 165.5L1469.0 163.7L1470.0 161.9L1471.0 160.2L1472.0 158.5L1473.0 156.9L1474.0 155.3L1475.0 153.8L1476.0 152.3L1477.0 150.9L1478.0 149.5L1479.0 148.2L1480.0 147.0L1481.0 145.7L1482.0 144.6L1483.0 143.4L1484.0 142.4L1485.0 141.3L1486.0 140.4L1487.0 139.5L1488.0 138.6L1489.0 137.8L1490.0 137.0L1491.0 136.3L1492.0 135.7L1493.0 135.1L1494.0 134.5L1495.0 134.0L1496.0 133.6L1497.0 133.2L1498.0 132.8L1499.0 132.5L1500.0 132.3L1501.0 132.1L1502.0 131.9L1503.0 131.8L1504.0 131.8L1505.0 131.8L1506.0 131.9L1507.0 132.0L1508.0 132.2L1509.0 132.4L1510.0 132.7L1511.0 133.0L1512.0 133.4L1513.0 133.8L1514.0 134.3L1515.0 134.9L1516.0 135.5L1517.0 136.1L1518.0 136.8L1519.0 137.6L1520.0 138.4L1521.0 139.3L1522.0 140.2L1523.0 141.2L1524.0 142.2L1525.0 143.2L1526.0 144.4L1527.0 145.5L1528.0 146.7L1529.0 148.0L1530.0 149.3L1531.0 150.7L1532.0 152.1L1533.0 153.5L1534.0 155.0L1535.0 156.6L1536.0 158.2L1537.0 159.8L1538.0 161.5" fill="none" stroke="#00f" stroke-width="4" stroke-dasharray="44.659 24.811" stroke-dashoffset="66.026" stroke-linejoin="round" clip-path="url(#ca)"/>
<path d="M1536.0 158.2L1537.0 159.8L1538.0 161.5L1539.0 163.3L1540.0 165.0L1541.0 166.9L1542.0 168.7L1543.0 170.6L1544.0 172.6L1545.0 174.5L1546.0 176.6L1547.0 178.6L1548.0 180.7L1549.0 182.9L1550.0 185.1L1551.0 187.3L1552.0 189.5L1553.0 191.8L1554.0 194.2L1555.0 196.5L1556.0 198.9L1557.0 201.3L1558.0 203.8L1559.0 206.3L1560.0 208.8L1561.0 211.4L1562.0 214.0L1563.0 216.6L1564.0 219.2L1565.0 221.9L1566.0 224.6L1567.0 227.3L1568.0 230.0L1569.0 232.8L1570.0 235.6L1571.0 238.4L1572.0 241.2L1573.0 244.0L1574.0 246.9L1575.0 249.8L1576.0 252.7L1577.0 255.6L1578.0 258.6L1579.0 261.5L1580.0 264.5L1581.0 267.5L1582.0 270.5L1583.0 273.5L1584.0 276.5L1585.0 279.5L1586.0 282.6L1587.0 285.6L1588.0 288.7L1589.0 291.7L1590.0 294.8L1591.0 297.9L1592.0 301.0L1593.0 304.0L1594.0 307.1L1595.0 310.2L1596.0 313.3L1597.0 316.4L1598.0 319.5L1599.0 322.6L1600.0 325.6L1601.0 328.7L1602.0 331.8L1603.0 334.9L1604.0 337.9L1605.0 341.0L1606.0 344.0L1607.0 347.1L1608.0 350.1L1609.0 353.1L1610.0 356.1L1611.0 359.1L1612.0 362.1L1613.0 365.1L1614.0 368.1L1615.0 371.0L1616.0 374.0L1617.0 376.9L1618.0 379.8L1619.0 382.7L1620.0 385.5L1621.0 388.4L1622.0 391.2L1623.0 394.0L1624.0 396.8L1625.0 399.6L1626.0 402.3L1627.0 405.0L1628.0 407.7L1629.0 410.4L1630.0 413.0L1631.0 415.7L1632.0 418.3L1633.0 420.8L1634.0 423.4L1635.0 425.9L1636.0 428.4L1637.0 430.8L1638.0 433.3L1639.0 435.7L1640.0 438.0L1641.0 440.4L1642.0 442.7L1643.0 444.9L1644.0 447.2L1645.0 449.4L1646.0 451.6L1647.0 453.7L1648.0 455.8L1649.0 457.9L1650.0 459.9L1651.0 461.9L1652.0 463.9L1653.0 465.8L1654.0 467.7L1655.0 469.6L1656.0 471.4L1657.0 473.2L1658.0 474.9L1659.0 476.6L1660.0 478.3L1661.0 479.9L1662.0 481.5L1663.0 483.1L1664.0 484.6L1665.0 486.1L1666.0 487.5L1667.0 488.9L1668.0 490.2L1669.0 491.6L1670.0 492.8L1671.0 494.1L1672.0 495.2L1673.0 496.4L1674.0 497.5L1675.0 498.6L1676.0 499.6L1677.0 500.6L1678.0 501.5L1679.0 502.4L1680.0 503.3L1681.0 504.1L1682.0 504.9L1683.0 505.6L1684.0 506.3L1685.0 506.9L1686.0 507.5L1687.0 508.1L1688.0 508.6L1689.0 509.1L1690.0 509.6L1691.0 510.0L1692.0 510.3L1693.0 510.6L1694.0 510.9L1695.0 511.1L1696.0 511.3L1697.0 511.5L1698.0 511.6L1699.0 511.7L1700.0 511.7L1701.0 511.7L1702.0 511.7L1703.0 511.6L1704.0 511.5L1705.0 511.4L1706.0 511.3L1707.0 511.1L1708.0 510.9L1709.0 510.7L1710.0 510.4L1711.0 510.1L1712.0 509.8L1713.0 509.5L1714.0 509.1L1715.0 508.7L1716.0 508.3L1717.0 507.8L1718.0 507.3L1719.0 506.8L1720.0 506.3L1721.0 505.7L1722.0 505.1L1723.0 504.5L1724.0 503.9L1725.0 503.2L1726.0 502.5L1727.0 501.8L1728.0 501.0L1729.0 500.2L1730.0 499.4L1731.0 498.6L1732.0 497.7L1733.0 496.8L1734.0 495.9L1735.0 495.0L1736.0 494.0L1737.0 493.1L1738.0 492.0L1739.0 491.0L1740.0 490.0L1741.0 488.9L1742.0 487.8L1743.0 486.7L1744.0 485.5L1745.0 484.3L1746.0 483.2L1747.0 482.0L1748.0 480.7L1749.0 479.5L1750.0 478.2L1751.0 476.9L1752.0 475.6L1753.0 474.3L1754.0 473.0L1755.0 471.6L1756.0 470.2L1757.0 468.9L1758.0 467.5L1759.0 466.0L1760.0 464.6L1761.0 463.2L1762.0 461.7L1763.0 460.2L1764.0 458.8L1765.0 457.3L1766.0 455.8L1767.0 454.3L1768.0 452.7L1769.0 451.2L1770.0 449.7L1771.0 448.1L1772.0 446.6L1773.0 445.0L1774.0 443.4L1775.0 441.9L1776.0 440.3L1777.0 438.7L1778.0 437.1L1779.0 435.6L1780.0 434.0L1781.0 432.4L1782.0 430.8L1783.0 429.2L1784.0 427.6L1785.0 426.0L1786.0 424.4L1787.0 422.9L1788.0 421.3L1789.0 419.7L1790.0 418.1L1791.0 416.6L1792.0 415.0L1793.0 413.4L1794.0 411.9L1795.0 410.3L1796.0 408.8L1797.0 407.3L1798.0 405.8L1799.0 404.3L1800.0 402.7L1801.0 401.3L1802.0 399.8L1803.0 398.3L1804.0 396.8L1805.0 395.4L1806.0 394.0L1807.0 392.6L1808.0 391.1L1809.0 389.8L1810.0 388.4L1811.0 387.0L1812.0 385.7L1813.0 384.3L1814.0 383.0L1815.0 381.7L1816.0 380.4L1817.0 379.2L1818.0 377.9L1819.0 376.7L1820.0 375.5L1821.0 374.3L1822.0 373.1L1823.0 372.0L1824.0 370.8L1825.0 369.7L1826.0 368.6L1827.0 367.6L1828.0 366.5L1829.0 365.5L1830.0 364.5L1831.0 363.5L1832.0 362.5L1833.0 361.6L1834.0 360.7L1835.0 359.8L1836.0 358.9L1837.0 358.0L1838.0 357.2L1839.0 356.4L1840.0 355.6L1841.0 354.8L1842.0 354.1L1843.0 353.4L1844.0 352.7L1845.0 352.0L1846.0 351.3L1847.0 350.7L1848.0 350.1L1849.0 349.5L1850.0 349.0L1851.0 348.4L1852.0 347.9L1853.0 347.4L1854.0 347.0L1855.0 346.5L1856.0 346.1L1857.0 345.7L1858.0 345.4L1859.0 345.0L1860.0 344.7L1861.0 344.4L1862.0 344.1L1863.0 343.8L1864.0 343.6L1865.0 343.4L1866.0 343.2L1867.0 343.0L1868.0 342.8L1869.0 342.7L1870.0 342.6L1871.0 342.5L1872.0 342.4L1873.0 342.4L1874.0 342.3L1875.0 342.3L1876.0 342.3L1877.0 342.4L1878.0 342.4L1879.0 342.5L1880.0 342.5L1881.0 342.6L1882.0 342.8L1883.0 342.9L1884.0 343.0L1885.0 343.2L1886.0 343.4L1887.0 343.6L1888.0 343.9L1889.0 344.1L1890.0 344.4L1891.0 344.6L1892.0 344.9L1893.0 345.3L1894.0 345.6L1895.0 346.0L1896.0 346.3L1897.0 346.7L1898.0 347.1L1899.0 347.5L1900.0 348.0L1901.0 348.4L1902.0 348.9L1903.0 349.4L1904.0 349.9L1905.0 350.4L1906.0 350.9L1907.0 351.4L1908.0 352.0L1909.0 352.6L1910.0 353.1L1911.0 353.7L1912.0 354.3L1913.0 355.0L1914.0 355.6L1915.0 356.2L1916.0 356.9L1917.0 357.5L1918.0 358.2L1919.0 358.9L1920.0 359.6L1921.0 360.3L1922.0 361.0L1923.0 361.7L1924.0 362.5L1925.0 363.2L1926.0 363.9L1927.0 364.7L1928.0 365.5L1929.0 366.2L1930.0 367.0L1931.0 367.8L1932.0 368.5L1933.0 369.3L1934.0 370.1L1935.0 370.9L1936.0 371.7L1937.0 372.5L1938.0 373.3L1939.0 374.1L1940.0 374.9L1941.0 375.7L1942.0 376.5L1943.0 377.3L1944.0 378.1L1945.0 378.9L1946.0 379.7L1947.0 380.5L1948.0 381.3L1949.0 382.1L1950.0 382.9L1951.0 383.7L1952.0 384.5L1953.0 385.3L1954.0 386.1L1955.0 386.9L1956.0 387.6L1957.0 388.4L1958.0 389.2L1959.0 389.9L1960.0 390.7L1961.0 391.4L1962.0 392.2L1963.0 392.9L1964.0 393.6L1965.0 394.4L1966.0 395.1L1967.0 395.8L1968.0 396.5L1969.0 397.2L1970.0 397.8L1971.0 398.5L1972.0 399.2L1973.0 399.8L1974.0 400.5L1975.0 401.1L1976.0 401.7L1977.0 402.3L1978.0 402.9L1979.0 403.5L1980.0 404.1L1981.0 404.6L1982.0 405.2L1983.0 405.7L1984.0 406.3L1985.0 406.8L1986.0 407.3L1987.0 407.8L1988.0 408.3L1989.0 408.7L1990.0 409.2L1991.0 409.6L1992.0 410.1L1993.0 410.5L1994.0 410.9L1995.0 411.3L1996.0 411.7L1997.0 412.0L1998.0 412.4L1999.0 412.7L2000.0 413.1L2001.0 413.4L2002.0 413.7L2003.0 414.0L2004.0 414.3L2005.0 414.5L2006.0 414.8L2007.0 415.0L2008.0 415.3L2009.0 415.5L2010.0 415.7L2011.0 415.9L2012.0 416.0L2013.0 416.2L2014.0 416.4L2015.0 416.5L2016.0 416.6L2017.0 416.8L2018.0 416.9L2019.0 417.0L2020.0 417.0L2021.0 417.1L2022.0 417.2L2023.0 417.2L2024.0 417.3L2025.0 417.3L2026.0 417.3L2027.0 417.3L2028.0 417.3L2029.0 417.3L2030.0 417.3L2031.0 417.2L2032.0 417.2L2033.0 417.1L2034.0 417.0L2035.0 416.9L2036.0 416.8L2037.0 416.7L2038.0 416.6L2039.0 416.5L2040.0 416.3L2041.0 416.2L2042.0 416.0L2043.0 415.9L2044.0 415.7L2045.0 415.5L2046.0 415.3L2047.0 415.0L2048.0 414.8L2049.0 414.6L2050.0 414.3L2051.0 414.1L2052.0 413.8L2053.0 413.5L2054.0 413.2L2055.0 412.9L2056.0 412.6L2057.0 412.3L2058.0 412.0L2059.0 411.7L2060.0 411.3L2061.0 411.0L2062.0 410.6L2063.0 410.2L2064.0 409.9L2065.0 409.5L2066.0 409.1L2067.0 408.7L2068.0 408.3L2069.0 407.8L2070.0 407.4L2071.0 407.0L2072.0 406.5L2073.0 406.1L2074.0 405.7L2075.0 405.2L2076.0 404.7L2077.0 404.3L2078.0 403.8L2079.0 403.3L2080.0 402.8L2081.0 402.3L2082.0 401.8L2083.0 401.3L2084.0 400.8L2085.0 400.3L2086.0 399.8L2087.0 399.3L2088.0 398.8L2089.0 398.2L2090.0 397.7L2091.0 397.2L2092.0 396.6L2093.0 396.1L2094.0 395.6L2095.0 395.0L2096.0 394.5L2097.0 393.9L2098.0 393.4L2099.0 392.8L2100.0 392.3L2101.0 391.8L2102.0 391.2L2103.0 390.7L2104.0 390.1L2105.0 389.6L2106.0 389.0" fill="none" stroke="#00f" stroke-width="4" stroke-dasharray="44.876 24.931" stroke-dashoffset="63.924" stroke-linejoin="round" clip-path="url(#ca)"/>
<path d="M184.0 1297.9L185.0 1298.2L186.0 1298.5L187.0 1298.9L188.0 1299.3L189.0 1299.7L190.0 1300.1L191.0 1300.6L192.0 1301.2L193.0 1301.7L194.0 1302.3L195.0 1303.0L196.0 1303.6L197.0 1304.3L198.0 1305.1L199.0 1305.8L200.0 1306.6L201.0 1307.4L202.0 1308.3L203.0 1309.1L204.0 1310.0L205.0 1310.9L206.0 1311.8L207.0 1312.7L208.0 1313.7L209.0 1314.7L210.0 1315.6L211.0 1316.6L212.0 1317.6L213.0 1318.6L214.0 1319.7L215.0 1320.7L216.0 1321.7L217.0 1322.7L218.0 1323.7L219.0 1324.8L220.0 1325.8L221.0 1326.8L222.0 1327.8L223.0 1328.8L224.0 1329.8L225.0 1330.7L226.0 1331.7L227.0 1332.6L228.0 1333.5L229.0 1334.4L230.0 1335.3L231.0 1336.2L232.0 1337.0L233.0 1337.9L234.0 1338.6L235.0 1339.4L236.0 1340.1L237.0 1340.8L238.0 1341.5L239.0 1342.2L240.0 1342.8L241.0 1343.3L242.0 1343.9L243.0 1344.4L244.0 1344.9L245.0 1345.3L246.0 1345.7L247.0 1346.0L248.0 1346.3L249.0 1346.6L250.0 1346.9L251.0 1347.1L252.0 1347.2L253.0 1347.3L254.0 1347.4L255.0 1347.4L256.0 1347.4L257.0 1347.3L258.0 1347.2L259.0 1347.1L260.0 1346.9L261.0 1346.7L262.0 1346.4L263.0 1346.1L264.0 1345.7L265.0 1345.3L266.0 1344.9L267.0 1344.4L268.0 1343.9L269.0 1343.3L270.0 1342.7L271.0 1342.1L272.0 1341.4L273.0 1340.7L274.0 1340.0L275.0 1339.2L276.0 1338.4L277.0 1337.6L278.0 1336.8L279.0 1335.9L280.0 1335.0L281.0 1334.1L282.0 1333.1L283.0 1332.1L284.0 1331.2L285.0 1330.2L286.0 1329.1L287.0 1328.1L288.0 1327.1L289.0 1326.0L290.0 1325.0L291.0 1323.9L292.0 1322.8L293.0 1321.8L294.0 1320.7L295.0 1319.6L296.0 1318.5L297.0 1317.5L298.0 1316.4L299.0 1315.4L300.0 1314.3L301.0 1313.3L302.0 1312.3L303.0 1311.3L304.0 1310.3L305.0 1309.4L306.0 1308.4L307.0 1307.5L308.0 1306.6L309.0 1305.7L310.0 1304.9L311.0 1304.1L312.0 1303.3L313.0 1302.5L314.0 1301.8L315.0 1301.1L316.0 1300.5L317.0 1299.8L318.0 1299.3L319.0 1298.7L320.0 1298.2L321.0 1297.7L322.0 1297.3L323.0 1296.9L324.0 1296.6L325.0 1296.3L326.0 1296.0L327.0 1295.8L328.0 1295.6L329.0 1295.5L330.0 1295.4L331.0 1295.3L332.0 1295.3L333.0 1295.4L334.0 1295.5L335.0 1295.6L336.0 1295.8L337.0 1296.0L338.0 1296.3L339.0 1296.6L340.0 1297.0L341.0 1297.4L342.0 1297.9L343.0 1298.4L344.0 1298.9L345.0 1299.5L346.0 1300.1L347.0 1300.8L348.0 1301.5L349.0 1302.2L350.0 1303.0L351.0 1303.8L352.0 1304.6L353.0 1305.5L354.0 1306.4L355.0 1307.3L356.0 1308.2L357.0 1309.2L358.0 1310.2L359.0 1311.2L360.0 1312.3L361.0 1313.3L362.0 1314.4L363.0 1315.5L364.0 1316.6L365.0 1317.7L366.0 1318.8L367.0 1319.9L368.0 1321.1L369.0 1322.2L370.0 1323.3L371.0 1324.5L372.0 1325.6L373.0 1326.7L374.0 1327.8L375.0 1329.0L376.0 1330.1L377.0 1331.2L378.0 1332.2L379.0 1333.3L380.0 1334.3L381.0 1335.4L382.0 1336.4L383.0 1337.3L384.0 1338.3L385.0 1339.2L386.0 1340.1L387.0 1341.0L388.0 1341.8L389.0 1342.7L390.0 1343.4L391.0 1344.2L392.0 1344.9L393.0 1345.6L394.0 1346.2L395.0 1346.8L396.0 1347.3L397.0 1347.8L398.0 1348.3L399.0 1348.7L400.0 1349.1L401.0 1349.4L402.0 1349.7L403.0 1350.0L404.0 1350.2L405.0 1350.3L406.0 1350.4L407.0 1350.5L408.0 1350.5L409.0 1350.5L410.0 1350.4L411.0 1350.3L412.0 1350.1L413.0 1349.9L414.0 1349.6L415.0 1349.3L416.0 1348.9L417.0 1348.5L418.0 1348.0L419.0 1347.5L420.0 1347.0L421.0 1346.4L422.0 1345.8L423.0 1345.1L424.0 1344.4L425.0 1343.6L426.0 1342.8L427.0 1342.0L428.0 1341.2L429.0 1340.3L430.0 1339.4L431.0 1338.4L432.0 1337.4L433.0 1336.4L434.0 1335.4L435.0 1334.3L436.0 1333.2L437.0 1332.1L438.0 1331.0L439.0 1329.9L440.0 1328.7L441.0 1327.6L442.0 1326.4L443.0 1325.2L444.0 1324.1L445.0 1322.9L446.0 1321.7L447.0 1320.5L448.0 1319.3L449.0 1318.1L450.0 1316.9L451.0 1315.7L452.0 1314.6L453.0 1313.4L454.0 1312.2L455.0 1311.1L456.0 1310.0L457.0 1308.9L458.0 1307.8L459.0 1306.8L460.0 1305.7L461.0 1304.7L462.0 1303.7L463.0 1302.8L464.0 1301.9L465.0 1301.0L466.0 1300.1L467.0 1299.3L468.0 1298.5L469.0 1297.8L470.0 1297.0L471.0 1296.4L472.0 1295.7L473.0 1295.2L474.0 1294.6L475.0 1294.1L476.0 1293.6L477.0 1293.2L478.0 1292.9L479.0 1292.5L480.0 1292.3L481.0 1292.0L482.0 1291.9L483.0 1291.7L484.0 1291.7L485.0 1291.6L486.0 1291.6L487.0 1291.7L488.0 1291.8L489.0 1292.0L490.0 1292.2L491.0 1292.5L492.0 1292.8L493.0 1293.2L494.0 1293.6L495.0 1294.1L496.0 1294.6L497.0 1295.2L498.0 1295.8L499.0 1296.5L500.0 1297.2L501.0 1298.0L502.0 1298.8L503.0 1299.6L504.0 1300.5L505.0 1301.4L506.0 1302.3L507.0 1303.3L508.0 1304.3L509.0 1305.4L510.0 1306.5L511.0 1307.6L512.0 1308.7L513.0 1309.9L514.0 1311.1L515.0 1312.3L516.0 1313.5L517.0 1314.7L518.0 1316.0L519.0 1317.3L520.0 1318.5L521.0 1319.8L522.0 1321.1L523.0 1322.4L524.0 1323.7L525.0 1325.0L526.0 1326.3L527.0 1327.6L528.0 1328.9L529.0 1330.2L530.0 1331.5L531.0 1332.7L532.0 1334.0L533.0 1335.2L534.0 1336.4L535.0 1337.6L536.0 1338.8L537.0 1339.9L538.0 1341.0L539.0 1342.1L540.0 1343.2L541.0 1344.2L542.0 1345.2L543.0 1346.1L544.0 1347.1L545.0 1348.0L546.0 1348.8L547.0 1349.6L548.0 1350.4L549.0 1351.1L550.0 1351.8L551.0 1352.4L552.0 1353.0L553.0 1353.5L554.0 1354.0L555.0 1354.4L556.0 1354.8L557.0 1355.2L558.0 1355.4L559.0 1355.7L560.0 1355.9L561.0 1356.0L562.0 1356.1L563.0 1356.1L564.0 1356.1L565.0 1356.0L566.0 1355.8L567.0 1355.6L568.0 1355.3L569.0 1354.9L570.0 1354.5L571.0 1354.0L572.0 1353.4L573.0 1352.8L574.0 1352.1L575.0 1351.4L576.0 1350.6L577.0 1349.8L578.0 1348.9L579.0 1347.9L580.0 1346.9L581.0 1345.8L582.0 1344.7L583.0 1343.6L584.0 1342.4L585.0 1341.1L586.0 1339.9L587.0 1338.6L588.0 1337.2L589.0 1335.8L590.0 1334.4L591.0 1333.0L592.0 1331.6L593.0 1330.1L594.0 1328.6L595.0 1327.1L596.0 1325.6L597.0 1324.1L598.0 1322.5L599.0 1321.0L600.0 1319.5L601.0 1317.9L602.0 1316.4L603.0 1314.9L604.0 1313.4L605.0 1311.9L606.0 1310.4L607.0 1308.9L608.0 1307.5L609.0 1306.1L610.0 1304.7L611.0 1303.4L612.0 1302.0L613.0 1300.8L614.0 1299.5L615.0 1298.3L616.0 1297.1L617.0 1296.0L618.0 1294.9L619.0 1293.9L620.0 1292.9L621.0 1292.0L622.0 1291.2L623.0 1290.3L624.0 1289.6L625.0 1288.9L626.0 1288.3L627.0 1287.7L628.0 1287.2L629.0 1286.7L630.0 1286.4L631.0 1286.0L632.0 1285.8L633.0 1285.6L634.0 1285.5L635.0 1285.4L636.0 1285.4L637.0 1285.5L638.0 1285.6L639.0 1285.8L640.0 1286.1L641.0 1286.4L642.0 1286.7L643.0 1287.2L644.0 1287.6L645.0 1288.2L646.0 1288.8L647.0 1289.4L648.0 1290.1L649.0 1290.9L650.0 1291.7L651.0 1292.5L652.0 1293.4L653.0 1294.4L654.0 1295.4L655.0 1296.4L656.0 1297.5L657.0 1298.6L658.0 1299.8L659.0 1301.0L660.0 1302.3L661.0 1303.5L662.0 1304.9L663.0 1306.2L664.0 1307.6L665.0 1309.0L666.0 1310.4L667.0 1311.9L668.0 1313.4L669.0 1314.9L670.0 1316.4L671.0 1317.9L672.0 1319.5L673.0 1321.0L674.0 1322.6L675.0 1324.2L676.0 1325.7L677.0 1327.3L678.0 1328.9L679.0 1330.5L680.0 1332.1L681.0 1333.7L682.0 1335.2L683.0 1336.8L684.0 1338.3L685.0 1339.9L686.0 1341.4L687.0 1342.9L688.0 1344.3L689.0 1345.8L690.0 1347.2L691.0 1348.6L692.0 1350.0L693.0 1351.3L694.0 1352.6L695.0 1353.9L696.0 1355.1L697.0 1356.3L698.0 1357.5L699.0 1358.6L700.0 1359.7L701.0 1360.7L702.0 1361.7L703.0 1362.6L704.0 1363.5L705.0 1364.4L706.0 1365.1L707.0 1365.9L708.0 1366.6L709.0 1367.2L710.0 1367.8L711.0 1368.3L712.0 1368.7L713.0 1369.2L714.0 1369.5L715.0 1369.8L716.0 1370.0L717.0 1370.2L718.0 1370.3L719.0 1370.4L720.0 1370.3L721.0 1370.3L722.0 1370.1L723.0 1369.8L724.0 1369.5L725.0 1369.1L726.0 1368.6L727.0 1368.0L728.0 1367.4L729.0 1366.7L730.0 1365.9L731.0 1365.0L732.0 1364.1L733.0 1363.1L734.0 1362.0L735.0 1360.9L736.0 1359.7L737.0 1358.4L738.0 1357.0L739.0 1355.7L740.0 1354.2L741.0 1352.7L742.0 1351.1L743.0 1349.5L744.0 1347.9L745.0 1346.2L746.0 1344.5L747.0 1342.7L748.0 1340.9L749.0 1339.0L750.0 1337.1L751.0 1335.2L752.0 1333.3L753.0 1331.4L754.0 1329.4L755.0 1327.4L756.0 1325.5L757.0 1323.5L758.0 1321.5L759.0 1319.5L760.0 1317.5L761.0 1315.5L762.0 1313.5L763.0 1311.5L764.0 1309.6L765.0 1307.6L766.0 1305.7L767.0 1303.8L768.0 1301.9L769.0 1300.1L770.0 1298.3L771.0 1296.5L772.0 1294.8L773.0 1293.1L774.0 1291.5L775.0 1289.9L776.0 1288.4L777.0 1286.9L778.0 1285.4L779.0 1284.1L780.0 1282.7L781.0 1281.5L782.0 1280.3L783.0 1279.2L784.0 1278.1L785.0 1277.1L786.0 1276.2L787.0 1275.4L788.0 1274.6L789.0 1273.9L790.0 1273.3L791.0 1272.8L792.0 1272.3L793.0 1271.9L794.0 1271.6L795.0 1271.4L796.0 1271.2L797.0 1271.2L798.0 1271.2L799.0 1271.3L800.0 1271.5L801.0 1271.8L802.0 1272.3L803.0 1272.8L804.0 1273.4L805.0 1274.1L806.0 1274.9L807.0 1275.8L808.0 1276.7L809.0 1277.8L810.0 1279.0L811.0 1280.2L812.0 1281.6L813.0 1283.0L814.0 1284.5L815.0 1286.0L816.0 1287.7L817.0 1289.4L818.0 1291.2L819.0 1293.1L820.0 1295.0L821.0 1297.0L822.0 1299.0L823.0 1301.1L824.0 1303.3L825.0 1305.5L826.0 1307.7L827.0 1310.0L828.0 1312.3L829.0 1314.7L830.0 1317.1L831.0 1319.5L832.0 1321.9L833.0 1324.4L834.0 1326.9L835.0 1329.4L836.0 1331.8L837.0 1334.3L838.0 1336.8L839.0 1339.3L840.0 1341.8L841.0 1344.3L842.0 1346.7L843.0 1349.2L844.0 1351.6L845.0 1354.0L846.0 1356.3L847.0 1358.6L848.0 1360.9L849.0 1363.1L850.0 1365.3L851.0 1367.5L852.0 1369.6L853.0 1371.6L854.0 1373.6L855.0 1375.5L856.0 1377.3L857.0 1379.1L858.0 1380.8L859.0 1382.5L860.0 1384.0L861.0 1385.5L862.0 1386.9L863.0 1388.2L864.0 1389.4L865.0 1390.6L866.0 1391.6L867.0 1392.6L868.0 1393.5L869.0 1394.3L870.0 1394.9L871.0 1395.5L872.0 1396.0L873.0 1396.4L874.0 1396.7L875.0 1396.9L876.0 1397.0L877.0 1397.0L878.0 1396.9L879.0 1396.6L880.0 1396.3L881.0 1395.8L882.0 1395.2L883.0 1394.4L884.0 1393.6L885.0 1392.6L886.0 1391.5L887.0 1390.3L888.0 1389.0L889.0 1387.6L890.0 1386.0L891.0 1384.4L892.0 1382.6L893.0 1380.8L894.0 1378.8L895.0 1376.8L896.0 1374.7L897.0 1372.5L898.0 1370.1L899.0 1367.8L900.0 1365.3L901.0 1362.7L902.0 1360.1L903.0 1357.5L904.0 1354.7L905.0 1351.9L906.0 1349.1L907.0 1346.2L908.0 1343.2L909.0 1340.2L910.0 1337.2L911.0 1334.2L912.0 1331.1L913.0 1328.0L914.0 1324.9L915.0 1321.7L916.0 1318.6L917.0 1315.5L918.0 1312.3L919.0 1309.2L920.0 1306.1L921.0 1303.0L922.0 1299.9L923.0 1296.9L924.0 1293.9L925.0 1290.9L926.0 1288.0L927.0 1285.1L928.0 1282.2L929.0 1279.4L930.0 1276.7L931.0 1274.0L932.0 1271.4L933.0 1268.9L934.0 1266.5L935.0 1264.1L936.0 1261.8L937.0 1259.6L938.0 1257.5L939.0 1255.5L940.0 1253.5L941.0 1251.7L942.0 1250.0L943.0 1248.4L944.0 1246.8L945.0 1245.4L946.0 1244.1L947.0 1243.0L948.0 1241.9L949.0 1240.9L950.0 1240.1L951.0 1239.4L952.0 1238.8L953.0 1238.4L954.0 1238.0L955.0 1237.8L956.0 1237.7L957.0 1237.7L958.0 1238.0L959.0 1238.4L960.0 1239.1L961.0 1239.9L962.0 1241.0L963.0 1242.2L964.0 1243.6L965.0 1245.3L966.0 1247.1L967.0 1249.1L968.0 1251.3L969.0 1253.7L970.0 1256.3L971.0 1259.0L972.0 1262.0L973.0 1265.1L974.0 1268.3L975.0 1271.8L976.0 1275.3L977.0 1279.1L978.0 1282.9L979.0 1287.0L980.0 1291.1L981.0 1295.4L982.0 1299.8L983.0 1304.4L984.0 1309.0L985.0 1313.8L986.0 1318.6L987.0 1323.6L988.0 1328.6L989.0 1333.8L990.0 1339.0L991.0 1344.2L992.0 1349.6L993.0 1354.9L994.0 1360.4L995.0 1365.8L996.0 1371.3L997.0 1376.9L998.0 1382.4L999.0 1388.0L1000.0 1393.5L1001.0 1399.1L1002.0 1404.6L1003.0 1410.2L1004.0 1415.7L1005.0 1421.1L1006.0 1426.5L1007.0 1431.9L1008.0 1437.2L1009.0 1442.5L1010.0 1447.7L1011.0 1452.8L1012.0 1457.8L1013.0 1462.7L1014.0 1467.6L1015.0 1472.3L1016.0 1476.9L1017.0 1481.5L1018.0 1485.9L1019.0 1490.1L1020.0 1494.3L1021.0 1498.2L1022.0 1502.1L1023.0 1505.8L1024.0 1509.3L1025.0 1512.7L1026.0 1516.0L1027.0 1519.0L1028.0 1521.9L1029.0 1524.6L1030.0 1527.2L1031.0 1529.5L1032.0 1531.7L1033.0 1533.7L1034.0 1535.5L1035.0 1537.1L1036.0 1538.5L1037.0 1539.7L1038.0 1540.7L1039.0 1541.5L1040.0 1542.1L1041.0 1542.5L1042.0 1542.7L1043.0 1542.7L1044.0 1542.4L1045.0 1541.8L1046.0 1541.0L1047.0 1539.8L1048.0 1538.4L1049.0 1536.7L1050.0 1534.7L1051.0 1532.4L1052.0 1529.8L1053.0 1527.0L1054.0 1523.9L1055.0 1520.5L1056.0 1516.9L1057.0 1513.0L1058.0 1508.8L1059.0 1504.4L1060.0 1499.8L1061.0 1494.9L1062.0 1489.7L1063.0 1484.3L1064.0 1478.7L1065.0 1472.8L1066.0 1466.8L1067.0 1460.5L1068.0 1454.0L1069.0 1447.3L1070.0 1440.4L1071.0 1433.3L1072.0 1426.1L1073.0 1418.6L1074.0 1411.0L1075.0 1403.3L1076.0 1395.4L1077.0 1387.3L1078.0 1379.1L1079.0 1370.7L1080.0 1362.3L1081.0 1353.7L1082.0 1345.0L1083.0 1336.3L1084.0 1327.4L1085.0 1318.4L1086.0 1309.4L1087.0 1300.3L1088.0 1291.2L1089.0 1282.0L1090.0 1272.8L1091.0 1263.5L1092.0 1254.2L1093.0 1245.0L1094.0 1235.7L1095.0 1226.4L1096.0 1217.1L1097.0 1207.9L1098.0 1198.7L1099.0 1189.5L1100.0 1180.4L1101.0 1171.3L1102.0 1162.4L1103.0 1153.5L1104.0 1144.6L1105.0 1135.9L1106.0 1127.3L1107.0 1118.8L1108.0 1110.4L1109.0 1102.1L1110.0 1093.9L1111.0 1085.9L1112.0 1078.1L1113.0 1070.4L1114.0 1062.9L1115.0 1055.5L1116.0 1048.4L1117.0 1041.4L1118.0 1034.6L1119.0 1028.0L1120.0 1021.6L1121.0 1015.4L1122.0 1009.5L1123.0 1003.7L1124.0 998.2L1125.0 993.0L1126.0 987.9L1127.0 983.2L1128.0 978.6L1129.0 974.3L1130.0 970.3L1131.0 966.5L1132.0 963.0L1133.0 959.8L1134.0 956.8L1135.0 954.1L1136.0 951.7L1137.0 949.6L1138.0 947.7L1139.0 946.1L1140.0 944.9L1141.0 943.9L1142.0 943.1L1143.0 942.7L1144.0 942.6" fill="none" stroke="#000" stroke-width="4" stroke-dasharray="36.222 12.074 9.056 12.074" stroke-dashoffset="0.000" stroke-linejoin="round" clip-path="url(#cb)"/>
<path d="M1142.0 943.1L1143.0 942.7L1144.0 942.6L1145.0 942.7L1146.0 943.1L1147.0 943.8L1148.0 944.8L1149.0 946.1L1150.0 947.7L1151.0 949.5L1152.0 951.6L1153.0 954.0L1154.0 956.7L1155.0 959.6L1156.0 962.8L1157.0 966.3L1158.0 970.0L1159.0 974.0L1160.0 978.3L1161.0 982.8L1162.0 987.5L1163.0 992.5L1164.0 997.7L1165.0 1003.2L1166.0 1008.9L1167.0 1014.8L1168.0 1020.9L1169.0 1027.2L1170.0 1033.7L1171.0 1040.5L1172.0 1047.4L1173.0 1054.5L1174.0 1061.8L1175.0 1069.3L1176.0 1076.9L1177.0 1084.7L1178.0 1092.6L1179.0 1100.7L1180.0 1108.9L1181.0 1117.2L1182.0 1125.7L1183.0 1134.2L1184.0 1142.9L1185.0 1151.7L1186.0 1160.5L1187.0 1169.4L1188.0 1178.4L1189.0 1187.5L1190.0 1196.6L1191.0 1205.8L1192.0 1215.0L1193.0 1224.2L1194.0 1233.4L1195.0 1242.6L1196.0 1251.9L1197.0 1261.1L1198.0 1270.3L1199.0 1279.5L1200.0 1288.7L1201.0 1297.8L1202.0 1306.8L1203.0 1315.8L1204.0 1324.8L1205.0 1333.6L1206.0 1342.4L1207.0 1351.0L1208.0 1359.6L1209.0 1368.1L1210.0 1376.4L1211.0 1384.6L1212.0 1392.7L1213.0 1400.6L1214.0 1408.4L1215.0 1416.0L1216.0 1423.5L1217.0 1430.8L1218.0 1437.9L1219.0 1444.8L1220.0 1451.5L1221.0 1458.1L1222.0 1464.4L1223.0 1470.5L1224.0 1476.4L1225.0 1482.1L1226.0 1487.6L1227.0 1492.8L1228.0 1497.8L1229.0 1502.5L1230.0 1507.0L1231.0 1511.3L1232.0 1515.3L1233.0 1519.0L1234.0 1522.5L1235.0 1525.7L1236.0 1528.6L1237.0 1531.3L1238.0 1533.7L1239.0 1535.8L1240.0 1537.6L1241.0 1539.2L1242.0 1540.4L1243.0 1541.4L1244.0 1542.2L1245.0 1542.6L1246.0 1542.7L1247.0 1542.6L1248.0 1542.3L1249.0 1541.8L1250.0 1541.1L1251.0 1540.2L1252.0 1539.0L1253.0 1537.7L1254.0 1536.2L1255.0 1534.5L1256.0 1532.6L1257.0 1530.5L1258.0 1528.2L1259.0 1525.7L1260.0 1523.0L1261.0 1520.2L1262.0 1517.2L1263.0 1514.0L1264.0 1510.7L1265.0 1507.1L1266.0 1503.5L1267.0 1499.6L1268.0 1495.7L1269.0 1491.6L1270.0 1487.3L1271.0 1482.9L1272.0 1478.4L1273.0 1473.8L1274.0 1469.1L1275.0 1464.2L1276.0 1459.3L1277.0 1454.2L1278.0 1449.1L1279.0 1443.9L1280.0 1438.6L1281.0 1433.3L1282.0 1427.9L1283.0 1422.4L1284.0 1416.9L1285.0 1411.4L1286.0 1405.8L1287.0 1400.2L1288.0 1394.6L1289.0 1389.0L1290.0 1383.4L1291.0 1377.8L1292.0 1372.2L1293.0 1366.6L1294.0 1361.1L1295.0 1355.6L1296.0 1350.1L1297.0 1344.7L1298.0 1339.4L1299.0 1334.1L1300.0 1328.9L1301.0 1323.8L1302.0 1318.8L1303.0 1313.8L1304.0 1309.0L1305.0 1304.3L1306.0 1299.7L1307.0 1295.2L1308.0 1290.8L1309.0 1286.6L1310.0 1282.5L1311.0 1278.5L1312.0 1274.7L1313.0 1271.0L1314.0 1267.5L1315.0 1264.2L1316.0 1261.0L1317.0 1258.0L1318.0 1255.2L1319.0 1252.6L1320.0 1250.1L1321.0 1247.9L1322.0 1245.8L1323.0 1243.9L1324.0 1242.2L1325.0 1240.7L1326.0 1239.4L1327.0 1238.3L1328.0 1237.4L1329.0 1236.7L1330.0 1236.2L1331.0 1235.9L1332.0 1235.8L1333.0 1235.9L1334.0 1236.1L1335.0 1236.4L1336.0 1236.9L1337.0 1237.4L1338.0 1238.1L1339.0 1238.9L1340.0 1239.9L1341.0 1240.9L1342.0 1242.1L1343.0 1243.4L1344.0 1244.8L1345.0 1246.3L1346.0 1247.9L1347.0 1249.6L1348.0 1251.4L1349.0 1253.3L1350.0 1255.4L1351.0 1257.5L1352.0 1259.7L1353.0 1262.0L1354.0 1264.4L1355.0 1266.8L1356.0 1269.4L1357.0 1272.0L1358.0 1274.6L1359.0 1277.4L1360.0 1280.2L1361.0 1283.0L1362.0 1286.0L1363.0 1288.9L1364.0 1291.9L1365.0 1294.9L1366.0 1298.0L1367.0 1301.1L1368.0 1304.2L1369.0 1307.4L1370.0 1310.5L1371.0 1313.7L1372.0 1316.9L1373.0 1320.1L1374.0 1323.2L1375.0 1326.4L1376.0 1329.5L1377.0 1332.7L1378.0 1335.7L1379.0 1338.8L1380.0 1341.9L1381.0 1344.8L1382.0 1347.8L1383.0 1350.7L1384.0 1353.6L1385.0 1356.4L1386.0 1359.1L1387.0 1361.8L1388.0 1364.4L1389.0 1366.9L1390.0 1369.3L1391.0 1371.7L1392.0 1374.0L1393.0 1376.2L1394.0 1378.3L1395.0 1380.3L1396.0 1382.2L1397.0 1384.0L1398.0 1385.7L1399.0 1387.3L1400.0 1388.8L1401.0 1390.2L1402.0 1391.5L1403.0 1392.7L1404.0 1393.7L1405.0 1394.6L1406.0 1395.4L1407.0 1396.1L1408.0 1396.6L1409.0 1397.1L1410.0 1397.4L1411.0 1397.6L1412.0 1397.6L1413.0 1397.6L1414.0 1397.4L1415.0 1397.2L1416.0 1396.9L1417.0 1396.4L1418.0 1395.9L1419.0 1395.3L1420.0 1394.6L1421.0 1393.7L1422.0 1392.8L1423.0 1391.8L1424.0 1390.8L1425.0 1389.6L1426.0 1388.3L1427.0 1387.0L1428.0 1385.6L1429.0 1384.1L1430.0 1382.5L1431.0 1380.9L1432.0 1379.2L1433.0 1377.4L1434.0 1375.5L1435.0 1373.6L1436.0 1371.7L1437.0 1369.6L1438.0 1367.5L1439.0 1365.4L1440.0 1363.2L1441.0 1361.0L1442.0 1358.7L1443.0 1356.4L1444.0 1354.1L1445.0 1351.8L1446.0 1349.4L1447.0 1347.0L1448.0 1344.5L1449.0 1342.1L1450.0 1339.6L1451.0 1337.2L1452.0 1334.7L1453.0 1332.3L1454.0 1329.8L1455.0 1327.3L1456.0 1324.9L1457.0 1322.5L1458.0 1320.1L1459.0 1317.7L1460.0 1315.4L1461.0 1313.1L1462.0 1310.8L1463.0 1308.5L1464.0 1306.3L1465.0 1304.2L1466.0 1302.1L1467.0 1300.0L1468.0 1298.0L1469.0 1296.1L1470.0 1294.2L1471.0 1292.4L1472.0 1290.6L1473.0 1288.9L1474.0 1287.3L1475.0 1285.8L1476.0 1284.3L1477.0 1283.0L1478.0 1281.7L1479.0 1280.5L1480.0 1279.3L1481.0 1278.3L1482.0 1277.4L1483.0 1276.5L1484.0 1275.7L1485.0 1275.1L1486.0 1274.5L1487.0 1274.0L1488.0 1273.6L1489.0 1273.3L1490.0 1273.1L1491.0 1273.0L1492.0 1273.0L1493.0 1273.1L1494.0 1273.3L1495.0 1273.5L1496.0 1273.8L1497.0 1274.2L1498.0 1274.7L1499.0 1275.2L1500.0 1275.9L1501.0 1276.6L1502.0 1277.3L1503.0 1278.2L1504.0 1279.1L1505.0 1280.1L1506.0 1281.2L1507.0 1282.3L1508.0 1283.5L1509.0 1284.7L1510.0 1286.0L1511.0 1287.4L1512.0 1288.8L1513.0 1290.3L1514.0 1291.8L1515.0 1293.4L1516.0 1295.0L1517.0 1296.7L1518.0 1298.4L1519.0 1300.1L1520.0 1301.9L1521.0 1303.7L1522.0 1305.5L1523.0 1307.4L1524.0 1309.3L1525.0 1311.2L1526.0 1313.1L1527.0 1315.0L1528.0 1317.0L1529.0 1318.9L1530.0 1320.9L1531.0 1322.8L1532.0 1324.8L1533.0 1326.7L1534.0 1328.6L1535.0 1330.5L1536.0 1332.4L1537.0 1334.3L1538.0 1336.2L1539.0 1338.0L1540.0 1339.8L1541.0 1341.6L1542.0 1343.3L1543.0 1345.0L1544.0 1346.7L1545.0 1348.3L1546.0 1349.9L1547.0 1351.4L1548.0 1352.9L1549.0 1354.3L1550.0 1355.6L1551.0 1356.9L1552.0 1358.2L1553.0 1359.4L1554.0 1360.5L1555.0 1361.5L1556.0 1362.5L1557.0 1363.4L1558.0 1364.3L1559.0 1365.0L1560.0 1365.7L1561.0 1366.3L1562.0 1366.9L1563.0 1367.3L1564.0 1367.7L1565.0 1368.0L1566.0 1368.3L1567.0 1368.4L1568.0 1368.5L1569.0 1368.5L1570.0 1368.4L1571.0 1368.2L1572.0 1368.0L1573.0 1367.7L1574.0 1367.3L1575.0 1366.9L1576.0 1366.3L1577.0 1365.7L1578.0 1365.1L1579.0 1364.3L1580.0 1363.5L1581.0 1362.7L1582.0 1361.7L1583.0 1360.7L1584.0 1359.7L1585.0 1358.6L1586.0 1357.4L1587.0 1356.1L1588.0 1354.9L1589.0 1353.5L1590.0 1352.1L1591.0 1350.7L1592.0 1349.2L1593.0 1347.7L1594.0 1346.2L1595.0 1344.6L1596.0 1343.0L1597.0 1341.3L1598.0 1339.7L1599.0 1338.0L1600.0 1336.3L1601.0 1334.5L1602.0 1332.8L1603.0 1331.0L1604.0 1329.3L1605.0 1327.5L1606.0 1325.7L1607.0 1324.0L1608.0 1322.2L1609.0 1320.4L1610.0 1318.7L1611.0 1317.0L1612.0 1315.3L1613.0 1313.6L1614.0 1311.9L1615.0 1310.3L1616.0 1308.7L1617.0 1307.1L1618.0 1305.6L1619.0 1304.1L1620.0 1302.6L1621.0 1301.2L1622.0 1299.9L1623.0 1298.5L1624.0 1297.3L1625.0 1296.1L1626.0 1294.9L1627.0 1293.8L1628.0 1292.8L1629.0 1291.8L1630.0 1290.9L1631.0 1290.1L1632.0 1289.3L1633.0 1288.6L1634.0 1287.9L1635.0 1287.4L1636.0 1286.9L1637.0 1286.4L1638.0 1286.1L1639.0 1285.8L1640.0 1285.6L1641.0 1285.5L1642.0 1285.4L1643.0 1285.4L1644.0 1285.5L1645.0 1285.6L1646.0 1285.8L1647.0 1286.1L1648.0 1286.4L1649.0 1286.7L1650.0 1287.1L1651.0 1287.6L1652.0 1288.1L1653.0 1288.6L1654.0 1289.2L1655.0 1289.9L1656.0 1290.6L1657.0 1291.3L1658.0 1292.1L1659.0 1293.0L1660.0 1293.9L1661.0 1294.8L1662.0 1295.8L1663.0 1296.8L1664.0 1297.8L1665.0 1298.9L1666.0 1300.0L1667.0 1301.2L1668.0 1302.4L1669.0 1303.6L1670.0 1304.8L1671.0 1306.1L1672.0 1307.4L1673.0 1308.7L1674.0 1310.0L1675.0 1311.3L1676.0 1312.7L1677.0 1314.1L1678.0 1315.4L1679.0 1316.8L1680.0 1318.2L1681.0 1319.6L1682.0 1321.0L1683.0 1322.4L1684.0 1323.8L1685.0 1325.2L1686.0 1326.6L1687.0 1327.9L1688.0 1329.3L1689.0 1330.6L1690.0 1332.0L1691.0 1333.3L1692.0 1334.6L1693.0 1335.8L1694.0 1337.1L1695.0 1338.3L1696.0 1339.5L1697.0 1340.6L1698.0 1341.8L1699.0 1342.8L1700.0 1343.9L1701.0 1344.9L1702.0 1345.9L1703.0 1346.8L1704.0 1347.7L1705.0 1348.6L1706.0 1349.4L1707.0 1350.2L1708.0 1350.9L1709.0 1351.5L1710.0 1352.2L1711.0 1352.7L1712.0 1353.2L1713.0 1353.7L1714.0 1354.1L1715.0 1354.5L1716.0 1354.8L1717.0 1355.0L1718.0 1355.2L1719.0 1355.4L1720.0 1355.5L1721.0 1355.5L1722.0 1355.5L1723.0 1355.4L1724.0 1355.2L1725.0 1355.1L1726.0 1354.8L1727.0 1354.5L1728.0 1354.2L1729.0 1353.8L1730.0 1353.4L1731.0 1352.9L1732.0 1352.3L1733.0 1351.7L1734.0 1351.1L1735.0 1350.4L1736.0 1349.7L1737.0 1348.9L1738.0 1348.1L1739.0 1347.3L1740.0 1346.4L1741.0 1345.5L1742.0 1344.5L1743.0 1343.5L1744.0 1342.5L1745.0 1341.4L1746.0 1340.3L1747.0 1339.2L1748.0 1338.1L1749.0 1336.9L1750.0 1335.7L1751.0 1334.5L1752.0 1333.3L1753.0 1332.0L1754.0 1330.8L1755.0 1329.5L1756.0 1328.2L1757.0 1326.9L1758.0 1325.6L1759.0 1324.3L1760.0 1323.0L1761.0 1321.7L1762.0 1320.4L1763.0 1319.1L1764.0 1317.9L1765.0 1316.6L1766.0 1315.3L1767.0 1314.1L1768.0 1312.8L1769.0 1311.6L1770.0 1310.4L1771.0 1309.3L1772.0 1308.1L1773.0 1307.0L1774.0 1305.9L1775.0 1304.8L1776.0 1303.8L1777.0 1302.8L1778.0 1301.8L1779.0 1300.9L1780.0 1300.0L1781.0 1299.1L1782.0 1298.3L1783.0 1297.5L1784.0 1296.8L1785.0 1296.1L1786.0 1295.5L1787.0 1294.9L1788.0 1294.3L1789.0 1293.8L1790.0 1293.4L1791.0 1293.0L1792.0 1292.6L1793.0 1292.3L1794.0 1292.1L1795.0 1291.9L1796.0 1291.7L1797.0 1291.7L1798.0 1291.6L1799.0 1291.6L1800.0 1291.7L1801.0 1291.8L1802.0 1292.0L1803.0 1292.2L1804.0 1292.5L1805.0 1292.8L1806.0 1293.2L1807.0 1293.6L1808.0 1294.0L1809.0 1294.6L1810.0 1295.1L1811.0 1295.7L1812.0 1296.4L1813.0 1297.0L1814.0 1297.8L1815.0 1298.5L1816.0 1299.4L1817.0 1300.2L1818.0 1301.1L1819.0 1302.0L1820.0 1303.0L1821.0 1303.9L1822.0 1305.0L1823.0 1306.0L1824.0 1307.1L1825.0 1308.2L1826.0 1309.3L1827.0 1310.4L1828.0 1311.6L1829.0 1312.7L1830.0 1313.9L1831.0 1315.1L1832.0 1316.3L1833.0 1317.6L1834.0 1318.8L1835.0 1320.0L1836.0 1321.3L1837.0 1322.5L1838.0 1323.7L1839.0 1324.9L1840.0 1326.2L1841.0 1327.4L1842.0 1328.6L1843.0 1329.8L1844.0 1331.0L1845.0 1332.1L1846.0 1333.3L1847.0 1334.4L1848.0 1335.5L1849.0 1336.5L1850.0 1337.6L1851.0 1338.6L1852.0 1339.6L1853.0 1340.6L1854.0 1341.5L1855.0 1342.4L1856.0 1343.2L1857.0 1344.1L1858.0 1344.8L1859.0 1345.6L1860.0 1346.3L1861.0 1346.9L1862.0 1347.5L1863.0 1348.1L1864.0 1348.6L1865.0 1349.1L1866.0 1349.5L1867.0 1349.9L1868.0 1350.2L1869.0 1350.5L1870.0 1350.7L1871.0 1350.9L1872.0 1351.0L1873.0 1351.1L1874.0 1351.1L1875.0 1351.1L1876.0 1351.1L1877.0 1350.9L1878.0 1350.8L1879.0 1350.6L1880.0 1350.4L1881.0 1350.1L1882.0 1349.8L1883.0 1349.4L1884.0 1349.0L1885.0 1348.6L1886.0 1348.1L1887.0 1347.6L1888.0 1347.1L1889.0 1346.5L1890.0 1345.9L1891.0 1345.2L1892.0 1344.5L1893.0 1343.8L1894.0 1343.1L1895.0 1342.3L1896.0 1341.5L1897.0 1340.6L1898.0 1339.8L1899.0 1338.9L1900.0 1338.0L1901.0 1337.0L1902.0 1336.1L1903.0 1335.1L1904.0 1334.1L1905.0 1333.1L1906.0 1332.1L1907.0 1331.0L1908.0 1330.0L1909.0 1328.9L1910.0 1327.9L1911.0 1326.8L1912.0 1325.7L1913.0 1324.6L1914.0 1323.5L1915.0 1322.5L1916.0 1321.4L1917.0 1320.3L1918.0 1319.2L1919.0 1318.2L1920.0 1317.1L1921.0 1316.1L1922.0 1315.0L1923.0 1314.0L1924.0 1313.0L1925.0 1312.0L1926.0 1311.0L1927.0 1310.1L1928.0 1309.1L1929.0 1308.2L1930.0 1307.3L1931.0 1306.5L1932.0 1305.6L1933.0 1304.8L1934.0 1304.0L1935.0 1303.3L1936.0 1302.6L1937.0 1301.9L1938.0 1301.2L1939.0 1300.6L1940.0 1300.0L1941.0 1299.5L1942.0 1299.0L1943.0 1298.5L1944.0 1298.1L1945.0 1297.7L1946.0 1297.3L1947.0 1297.0L1948.0 1296.7L1949.0 1296.5L1950.0 1296.3L1951.0 1296.2L1952.0 1296.0L1953.0 1296.0L1954.0 1296.0L1955.0 1296.0L1956.0 1296.0L1957.0 1296.2L1958.0 1296.3L1959.0 1296.5L1960.0 1296.8L1961.0 1297.0L1962.0 1297.4L1963.0 1297.8L1964.0 1298.2L1965.0 1298.6L1966.0 1299.1L1967.0 1299.6L1968.0 1300.2L1969.0 1300.8L1970.0 1301.5L1971.0 1302.2L1972.0 1302.9L1973.0 1303.6L1974.0 1304.4L1975.0 1305.2L1976.0 1306.1L1977.0 1306.9L1978.0 1307.8L1979.0 1308.7L1980.0 1309.7L1981.0 1310.6L1982.0 1311.6L1983.0 1312.6L1984.0 1313.6L1985.0 1314.7L1986.0 1315.7L1987.0 1316.7L1988.0 1317.8L1989.0 1318.9L1990.0 1320.0L1991.0 1321.0L1992.0 1322.1L1993.0 1323.2L1994.0 1324.3L1995.0 1325.3L1996.0 1326.4L1997.0 1327.5L1998.0 1328.5L1999.0 1329.6L2000.0 1330.6L2001.0 1331.6L2002.0 1332.6L2003.0 1333.6L2004.0 1334.5L2005.0 1335.5L2006.0 1336.4L2007.0 1337.3L2008.0 1338.1L2009.0 1338.9L2010.0 1339.8L2011.0 1340.5L2012.0 1341.3L2013.0 1342.0L2014.0 1342.7L2015.0 1343.3L2016.0 1343.9L2017.0 1344.5L2018.0 1345.0L2019.0 1345.5L2020.0 1345.9L2021.0 1346.3L2022.0 1346.7L2023.0 1347.0L2024.0 1347.3L2025.0 1347.5L2026.0 1347.7L2027.0 1347.9L2028.0 1348.0L2029.0 1348.0L2030.0 1348.0L2031.0 1348.0L2032.0 1347.9L2033.0 1347.8L2034.0 1347.7L2035.0 1347.5L2036.0 1347.3L2037.0 1347.1L2038.0 1346.8L2039.0 1346.4L2040.0 1346.1L2041.0 1345.7L2042.0 1345.3L2043.0 1344.8L2044.0 1344.3L2045.0 1343.8L2046.0 1343.2L2047.0 1342.6L2048.0 1342.0L2049.0 1341.3L2050.0 1340.7L2051.0 1340.0L2052.0 1339.2L2053.0 1338.5L2054.0 1337.7L2055.0 1336.9L2056.0 1336.0L2057.0 1335.2L2058.0 1334.3L2059.0 1333.4L2060.0 1332.5L2061.0 1331.6L2062.0 1330.7L2063.0 1329.7L2064.0 1328.8L2065.0 1327.8L2066.0 1326.8L2067.0 1325.9L2068.0 1324.9L2069.0 1323.9L2070.0 1322.9L2071.0 1321.9L2072.0 1320.9L2073.0 1319.9L2074.0 1318.9L2075.0 1317.9L2076.0 1317.0L2077.0 1316.0L2078.0 1315.0L2079.0 1314.1L2080.0 1313.1L2081.0 1312.2L2082.0 1311.3L2083.0 1310.4L2084.0 1309.5L2085.0 1308.6L2086.0 1307.8L2087.0 1307.0L2088.0 1306.2L2089.0 1305.4L2090.0 1304.6L2091.0 1303.9L2092.0 1303.2L2093.0 1302.5L2094.0 1301.9L2095.0 1301.3L2096.0 1300.7L2097.0 1300.1L2098.0 1299.6L2099.0 1299.1L2100.0 1298.7L2101.0 1298.2L2102.0 1297.8L2103.0 1297.5L2104.0 1297.2L2105.0 1296.9L2106.0 1296.6" fill="none" stroke="#000" stroke-width="4" stroke-dasharray="36.252 12.084 9.063 12.084" stroke-dashoffset="35.160" stroke-linejoin="round" clip-path="url(#cb)"/>
<path d="M184.0 1318.5L185.0 1318.6L186.0 1318.7L187.0 1318.9L188.0 1319.0L189.0 1319.2L190.0 1319.3L191.0 1319.5L192.0 1319.7L193.0 1319.9L194.0 1320.1L195.0 1320.3L196.0 1320.5L197.0 1320.7L198.0 1320.9L199.0 1321.1L200.0 1321.3L201.0 1321.5L202.0 1321.7L203.0 1322.0L204.0 1322.2L205.0 1322.4L206.0 1322.7L207.0 1322.9L208.0 1323.1L209.0 1323.4L210.0 1323.6L211.0 1323.8L212.0 1324.1L213.0 1324.3L214.0 1324.5L215.0 1324.7L216.0 1325.0L217.0 1325.2L218.0 1325.4L219.0 1325.6L220.0 1325.8L221.0 1326.0L222.0 1326.2L223.0 1326.4L224.0 1326.6L225.0 1326.8L226.0 1327.0L227.0 1327.1L228.0 1327.3L229.0 1327.5L230.0 1327.6L231.0 1327.8L232.0 1327.9L233.0 1328.0L234.0 1328.1L235.0 1328.2L236.0 1328.3L237.0 1328.4L238.0 1328.5L239.0 1328.6L240.0 1328.6L241.0 1328.7L242.0 1328.7L243.0 1328.8L244.0 1328.8L245.0 1328.8L246.0 1328.8L247.0 1328.8L248.0 1328.8L249.0 1328.8L250.0 1328.7L251.0 1328.6L252.0 1328.6L253.0 1328.5L254.0 1328.4L255.0 1328.2L256.0 1328.1L257.0 1327.9L258.0 1327.8L259.0 1327.6L260.0 1327.4L261.0 1327.2L262.0 1327.0L263.0 1326.8L264.0 1326.6L265.0 1326.3L266.0 1326.1L267.0 1325.8L268.0 1325.5L269.0 1325.3L270.0 1325.0L271.0 1324.7L272.0 1324.4L273.0 1324.1L274.0 1323.8L275.0 1323.5L276.0 1323.1L277.0 1322.8L278.0 1322.5L279.0 1322.2L280.0 1321.8L281.0 1321.5L282.0 1321.2L283.0 1320.8L284.0 1320.5L285.0 1320.2L286.0 1319.9L287.0 1319.5L288.0 1319.2L289.0 1318.9L290.0 1318.6L291.0 1318.3L292.0 1318.0L293.0 1317.7L294.0 1317.4L295.0 1317.1L296.0 1316.9L297.0 1316.6L298.0 1316.4L299.0 1316.1L300.0 1315.9L301.0 1315.7L302.0 1315.5L303.0 1315.3L304.0 1315.1L305.0 1314.9L306.0 1314.8L307.0 1314.6L308.0 1314.5L309.0 1314.4L310.0 1314.3L311.0 1314.2L312.0 1314.1L313.0 1314.0L314.0 1314.0L315.0 1314.0L316.0 1313.9L317.0 1313.9L318.0 1314.0L319.0 1314.0L320.0 1314.0L321.0 1314.1L322.0 1314.1L323.0 1314.2L324.0 1314.3L325.0 1314.4L326.0 1314.5L327.0 1314.7L328.0 1314.8L329.0 1315.0L330.0 1315.1L331.0 1315.3L332.0 1315.5L333.0 1315.7L334.0 1315.9L335.0 1316.1L336.0 1316.4L337.0 1316.6L338.0 1316.9L339.0 1317.1L340.0 1317.4L341.0 1317.7L342.0 1318.0L343.0 1318.3L344.0 1318.6L345.0 1318.9L346.0 1319.2L347.0 1319.5L348.0 1319.9L349.0 1320.2L350.0 1320.5L351.0 1320.9L352.0 1321.2L353.0 1321.6L354.0 1321.9L355.0 1322.3L356.0 1322.6L357.0 1323.0L358.0 1323.3L359.0 1323.7L360.0 1324.1L361.0 1324.4L362.0 1324.8L363.0 1325.1L364.0 1325.5L365.0 1325.8L366.0 1326.1L367.0 1326.5L368.0 1326.8L369.0 1327.1L370.0 1327.5L371.0 1327.8L372.0 1328.1L373.0 1328.4L374.0 1328.7L375.0 1329.0L376.0 1329.2L377.0 1329.5L378.0 1329.8L379.0 1330.0L380.0 1330.3L381.0 1330.5L382.0 1330.7L383.0 1330.9L384.0 1331.1L385.0 1331.3L386.0 1331.5L387.0 1331.6L388.0 1331.8L389.0 1331.9L390.0 1332.0L391.0 1332.1L392.0 1332.2L393.0 1332.3L394.0 1332.4L395.0 1332.4L396.0 1332.5L397.0 1332.5L398.0 1332.5L399.0 1332.5L400.0 1332.5L401.0 1332.5L402.0 1332.4L403.0 1332.3L404.0 1332.2L405.0 1332.1L406.0 1332.0L407.0 1331.8L408.0 1331.6L409.0 1331.4L410.0 1331.2L411.0 1331.0L412.0 1330.7L413.0 1330.4L414.0 1330.1L415.0 1329.8L416.0 1329.5L417.0 1329.1L418.0 1328.8L419.0 1328.4L420.0 1328.0L421.0 1327.6L422.0 1327.2L423.0 1326.8L424.0 1326.4L425.0 1325.9L426.0 1325.5L427.0 1325.0L428.0 1324.6L429.0 1324.1L430.0 1323.6L431.0 1323.1L432.0 1322.7L433.0 1322.2L434.0 1321.7L435.0 1321.2L436.0 1320.7L437.0 1320.2L438.0 1319.8L439.0 1319.3L440.0 1318.8L441.0 1318.4L442.0 1317.9L443.0 1317.5L444.0 1317.0L445.0 1316.6L446.0 1316.2L447.0 1315.8L448.0 1315.4L449.0 1315.0L450.0 1314.6L451.0 1314.2L452.0 1313.9L453.0 1313.6L454.0 1313.3L455.0 1313.0L456.0 1312.7L457.0 1312.4L458.0 1312.2L459.0 1312.0L460.0 1311.8L461.0 1311.6L462.0 1311.4L463.0 1311.3L464.0 1311.1L465.0 1311.0L466.0 1311.0L467.0 1310.9L468.0 1310.9L469.0 1310.8L470.0 1310.8L471.0 1310.9L472.0 1310.9L473.0 1311.0L474.0 1311.1L475.0 1311.2L476.0 1311.3L477.0 1311.5L478.0 1311.7L479.0 1311.9L480.0 1312.1L481.0 1312.3L482.0 1312.6L483.0 1312.9L484.0 1313.2L485.0 1313.5L486.0 1313.8L487.0 1314.2L488.0 1314.6L489.0 1314.9L490.0 1315.3L491.0 1315.8L492.0 1316.2L493.0 1316.6L494.0 1317.1L495.0 1317.6L496.0 1318.0L497.0 1318.5L498.0 1319.0L499.0 1319.5L500.0 1320.1L501.0 1320.6L502.0 1321.1L503.0 1321.7L504.0 1322.2L505.0 1322.7L506.0 1323.3L507.0 1323.8L508.0 1324.4L509.0 1324.9L510.0 1325.5L511.0 1326.0L512.0 1326.6L513.0 1327.1L514.0 1327.7L515.0 1328.2L516.0 1328.7L517.0 1329.3L518.0 1329.8L519.0 1330.3L520.0 1330.8L521.0 1331.3L522.0 1331.7L523.0 1332.2L524.0 1332.6L525.0 1333.1L526.0 1333.5L527.0 1333.9L528.0 1334.3L529.0 1334.7L530.0 1335.0L531.0 1335.4L532.0 1335.7L533.0 1336.0L534.0 1336.3L535.0 1336.5L536.0 1336.8L537.0 1337.0L538.0 1337.2L539.0 1337.4L540.0 1337.6L541.0 1337.7L542.0 1337.8L543.0 1337.9L544.0 1338.0L545.0 1338.1L546.0 1338.1L547.0 1338.1L548.0 1338.1L549.0 1338.1L550.0 1338.0L551.0 1337.9L552.0 1337.8L553.0 1337.6L554.0 1337.4L555.0 1337.2L556.0 1337.0L557.0 1336.7L558.0 1336.5L559.0 1336.1L560.0 1335.8L561.0 1335.4L562.0 1335.1L563.0 1334.7L564.0 1334.2L565.0 1333.8L566.0 1333.3L567.0 1332.8L568.0 1332.3L569.0 1331.8L570.0 1331.2L571.0 1330.7L572.0 1330.1L573.0 1329.5L574.0 1328.9L575.0 1328.3L576.0 1327.7L577.0 1327.0L578.0 1326.4L579.0 1325.7L580.0 1325.1L581.0 1324.4L582.0 1323.7L583.0 1323.0L584.0 1322.4L585.0 1321.7L586.0 1321.0L587.0 1320.3L588.0 1319.7L589.0 1319.0L590.0 1318.3L591.0 1317.7L592.0 1317.0L593.0 1316.4L594.0 1315.7L595.0 1315.1L596.0 1314.5L597.0 1313.9L598.0 1313.3L599.0 1312.7L600.0 1312.1L601.0 1311.6L602.0 1311.1L603.0 1310.6L604.0 1310.1L605.0 1309.6L606.0 1309.2L607.0 1308.7L608.0 1308.3L609.0 1307.9L610.0 1307.6L611.0 1307.2L612.0 1306.9L613.0 1306.6L614.0 1306.4L615.0 1306.2L616.0 1305.9L617.0 1305.8L618.0 1305.6L619.0 1305.5L620.0 1305.4L621.0 1305.3L622.0 1305.3L623.0 1305.3L624.0 1305.3L625.0 1305.3L626.0 1305.4L627.0 1305.6L628.0 1305.7L629.0 1305.9L630.0 1306.2L631.0 1306.4L632.0 1306.8L633.0 1307.1L634.0 1307.5L635.0 1307.9L636.0 1308.3L637.0 1308.8L638.0 1309.3L639.0 1309.9L640.0 1310.4L641.0 1311.0L642.0 1311.7L643.0 1312.3L644.0 1313.0L645.0 1313.7L646.0 1314.4L647.0 1315.2L648.0 1316.0L649.0 1316.8L650.0 1317.6L651.0 1318.4L652.0 1319.2L653.0 1320.1L654.0 1321.0L655.0 1321.9L656.0 1322.7L657.0 1323.7L658.0 1324.6L659.0 1325.5L660.0 1326.4L661.0 1327.3L662.0 1328.2L663.0 1329.2L664.0 1330.1L665.0 1331.0L666.0 1331.9L667.0 1332.8L668.0 1333.7L669.0 1334.6L670.0 1335.5L671.0 1336.4L672.0 1337.2L673.0 1338.1L674.0 1338.9L675.0 1339.7L676.0 1340.5L677.0 1341.3L678.0 1342.0L679.0 1342.8L680.0 1343.5L681.0 1344.1L682.0 1344.8L683.0 1345.4L684.0 1346.0L685.0 1346.6L686.0 1347.1L687.0 1347.6L688.0 1348.1L689.0 1348.5L690.0 1349.0L691.0 1349.3L692.0 1349.7L693.0 1350.0L694.0 1350.3L695.0 1350.5L696.0 1350.7L697.0 1350.9L698.0 1351.0L699.0 1351.1L700.0 1351.1L701.0 1351.1L702.0 1351.1L703.0 1351.0L704.0 1350.9L705.0 1350.7L706.0 1350.4L707.0 1350.1L708.0 1349.7L709.0 1349.3L710.0 1348.9L711.0 1348.3L712.0 1347.8L713.0 1347.2L714.0 1346.5L715.0 1345.8L716.0 1345.0L717.0 1344.2L718.0 1343.4L719.0 1342.5L720.0 1341.5L721.0 1340.6L722.0 1339.6L723.0 1338.5L724.0 1337.5L725.0 1336.4L726.0 1335.2L727.0 1334.1L728.0 1332.9L729.0 1331.7L730.0 1330.5L731.0 1329.2L732.0 1328.0L733.0 1326.7L734.0 1325.4L735.0 1324.1L736.0 1322.8L737.0 1321.5L738.0 1320.2L739.0 1318.9L740.0 1317.6L741.0 1316.3L742.0 1315.0L743.0 1313.7L744.0 1312.4L745.0 1311.2L746.0 1310.0L747.0 1308.7L748.0 1307.5L749.0 1306.4L750.0 1305.2L751.0 1304.1L752.0 1303.0L753.0 1301.9L754.0 1300.9L755.0 1299.9L756.0 1299.0L757.0 1298.1L758.0 1297.2L759.0 1296.4L760.0 1295.6L761.0 1294.8L762.0 1294.1L763.0 1293.5L764.0 1292.9L765.0 1292.3L766.0 1291.8L767.0 1291.4L768.0 1291.0L769.0 1290.7L770.0 1290.4L771.0 1290.1L772.0 1290.0L773.0 1289.8L774.0 1289.8L775.0 1289.8L776.0 1289.8L777.0 1290.0L778.0 1290.2L779.0 1290.6L780.0 1291.0L781.0 1291.5L782.0 1292.1L783.0 1292.8L784.0 1293.6L785.0 1294.4L786.0 1295.3L787.0 1296.3L788.0 1297.4L789.0 1298.6L790.0 1299.9L791.0 1301.2L792.0 1302.6L793.0 1304.1L794.0 1305.6L795.0 1307.2L796.0 1308.9L797.0 1310.6L798.0 1312.4L799.0 1314.3L800.0 1316.2L801.0 1318.2L802.0 1320.2L803.0 1322.3L804.0 1324.4L805.0 1326.6L806.0 1328.8L807.0 1331.0L808.0 1333.3L809.0 1335.6L810.0 1338.0L811.0 1340.3L812.0 1342.7L813.0 1345.1L814.0 1347.6L815.0 1350.0L816.0 1352.5L817.0 1354.9L818.0 1357.4L819.0 1359.9L820.0 1362.4L821.0 1364.8L822.0 1367.3L823.0 1369.7L824.0 1372.2L825.0 1374.6L826.0 1377.0L827.0 1379.4L828.0 1381.7L829.0 1384.0L830.0 1386.3L831.0 1388.6L832.0 1390.8L833.0 1393.0L834.0 1395.1L835.0 1397.2L836.0 1399.2L837.0 1401.2L838.0 1403.1L839.0 1405.0L840.0 1406.8L841.0 1408.6L842.0 1410.2L843.0 1411.9L844.0 1413.4L845.0 1414.9L846.0 1416.3L847.0 1417.7L848.0 1418.9L849.0 1420.1L850.0 1421.2L851.0 1422.2L852.0 1423.2L853.0 1424.1L854.0 1424.8L855.0 1425.5L856.0 1426.2L857.0 1426.7L858.0 1427.1L859.0 1427.5L860.0 1427.7L861.0 1427.9L862.0 1428.0L863.0 1428.0L864.0 1427.8L865.0 1427.5L866.0 1427.1L867.0 1426.5L868.0 1425.7L869.0 1424.8L870.0 1423.8L871.0 1422.6L872.0 1421.2L873.0 1419.7L874.0 1418.1L875.0 1416.3L876.0 1414.4L877.0 1412.4L878.0 1410.2L879.0 1407.9L880.0 1405.4L881.0 1402.8L882.0 1400.1L883.0 1397.3L884.0 1394.3L885.0 1391.3L886.0 1388.1L887.0 1384.8L888.0 1381.4L889.0 1377.8L890.0 1374.2L891.0 1370.5L892.0 1366.7L893.0 1362.8L894.0 1358.8L895.0 1354.7L896.0 1350.6L897.0 1346.4L898.0 1342.1L899.0 1337.7L900.0 1333.3L901.0 1328.8L902.0 1324.2L903.0 1319.7L904.0 1315.0L905.0 1310.4L906.0 1305.6L907.0 1300.9L908.0 1296.1L909.0 1291.4L910.0 1286.6L911.0 1281.7L912.0 1276.9L913.0 1272.1L914.0 1267.3L915.0 1262.4L916.0 1257.6L917.0 1252.9L918.0 1248.1L919.0 1243.3L920.0 1238.6L921.0 1234.0L922.0 1229.3L923.0 1224.7L924.0 1220.2L925.0 1215.7L926.0 1211.3L927.0 1206.9L928.0 1202.6L929.0 1198.4L930.0 1194.2L931.0 1190.1L932.0 1186.1L933.0 1182.2L934.0 1178.4L935.0 1174.7L936.0 1171.0L937.0 1167.5L938.0 1164.1L939.0 1160.8L940.0 1157.6L941.0 1154.5L942.0 1151.5L943.0 1148.7L944.0 1146.0L945.0 1143.4L946.0 1140.9L947.0 1138.6L948.0 1136.4L949.0 1134.3L950.0 1132.4L951.0 1130.6L952.0 1128.9L953.0 1127.4L954.0 1126.1L955.0 1124.9L956.0 1123.8L957.0 1122.9L958.0 1122.1L959.0 1121.5L960.0 1121.0L961.0 1120.7L962.0 1120.5L963.0 1120.5L964.0 1120.7L965.0 1121.0L966.0 1121.5L967.0 1122.3L968.0 1123.1L969.0 1124.2L970.0 1125.4L971.0 1126.9L972.0 1128.4L973.0 1130.2L974.0 1132.1L975.0 1134.2L976.0 1136.5L977.0 1139.0L978.0 1141.6L979.0 1144.3L980.0 1147.2L981.0 1150.3L982.0 1153.5L983.0 1156.9L984.0 1160.4L985.0 1164.0L986.0 1167.8L987.0 1171.7L988.0 1175.8L989.0 1179.9L990.0 1184.2L991.0 1188.6L992.0 1193.1L993.0 1197.8L994.0 1202.5L995.0 1207.3L996.0 1212.2L997.0 1217.2L998.0 1222.3L999.0 1227.4L1000.0 1232.6L1001.0 1237.9L1002.0 1243.2L1003.0 1248.6L1004.0 1254.1L1005.0 1259.6L1006.0 1265.1L1007.0 1270.6L1008.0 1276.2L1009.0 1281.8L1010.0 1287.4L1011.0 1293.0L1012.0 1298.7L1013.0 1304.3L1014.0 1309.9L1015.0 1315.5L1016.0 1321.0L1017.0 1326.6L1018.0 1332.1L1019.0 1337.5L1020.0 1343.0L1021.0 1348.3L1022.0 1353.7L1023.0 1358.9L1024.0 1364.1L1025.0 1369.2L1026.0 1374.3L1027.0 1379.2L1028.0 1384.1L1029.0 1388.9L1030.0 1393.5L1031.0 1398.1L1032.0 1402.6L1033.0 1406.9L1034.0 1411.2L1035.0 1415.3L1036.0 1419.3L1037.0 1423.2L1038.0 1426.9L1039.0 1430.5L1040.0 1433.9L1041.0 1437.2L1042.0 1440.4L1043.0 1443.4L1044.0 1446.3L1045.0 1448.9L1046.0 1451.5L1047.0 1453.8L1048.0 1456.1L1049.0 1458.1L1050.0 1460.0L1051.0 1461.7L1052.0 1463.2L1053.0 1464.5L1054.0 1465.7L1055.0 1466.7L1056.0 1467.5L1057.0 1468.1L1058.0 1468.6L1059.0 1468.8L1060.0 1468.9L1061.0 1468.9L1062.0 1468.6L1063.0 1468.2L1064.0 1467.6L1065.0 1466.9L1066.0 1466.0L1067.0 1465.0L1068.0 1463.8L1069.0 1462.4L1070.0 1460.9L1071.0 1459.2L1072.0 1457.4L1073.0 1455.4L1074.0 1453.3L1075.0 1451.1L1076.0 1448.7L1077.0 1446.2L1078.0 1443.5L1079.0 1440.7L1080.0 1437.8L1081.0 1434.8L1082.0 1431.7L1083.0 1428.4L1084.0 1425.1L1085.0 1421.6L1086.0 1418.0L1087.0 1414.4L1088.0 1410.7L1089.0 1406.8L1090.0 1403.0L1091.0 1399.0L1092.0 1395.0L1093.0 1390.9L1094.0 1386.7L1095.0 1382.5L1096.0 1378.3L1097.0 1374.0L1098.0 1369.8L1099.0 1365.4L1100.0 1361.1L1101.0 1356.7L1102.0 1352.4L1103.0 1348.0L1104.0 1343.7L1105.0 1339.3L1106.0 1335.0L1107.0 1330.7L1108.0 1326.4L1109.0 1322.2L1110.0 1318.0L1111.0 1313.9L1112.0 1309.8L1113.0 1305.8L1114.0 1301.8L1115.0 1297.9L1116.0 1294.1L1117.0 1290.4L1118.0 1286.7L1119.0 1283.2L1120.0 1279.7L1121.0 1276.3L1122.0 1273.1L1123.0 1270.0L1124.0 1266.9L1125.0 1264.0L1126.0 1261.2L1127.0 1258.6L1128.0 1256.1L1129.0 1253.7L1130.0 1251.4L1131.0 1249.3L1132.0 1247.4L1133.0 1245.5L1134.0 1243.9L1135.0 1242.4L1136.0 1241.0L1137.0 1239.8L1138.0 1238.7L1139.0 1237.9L1140.0 1237.1L1141.0 1236.6L1142.0 1236.1L1143.0 1235.9L1144.0 1235.8L1145.0 1235.9L1146.0 1236.2L1147.0 1236.6L1148.0 1237.1L1149.0 1237.9L1150.0 1238.8L1151.0 1239.9L1152.0 1241.1L1153.0 1242.5L1154.0 1244.1L1155.0 1245.8L1156.0 1247.6L1157.0 1249.6L1158.0 1251.8L1159.0 1254.1L1160.0 1256.5L1161.0 1259.1L1162.0 1261.8L1163.0 1264.6L1164.0 1267.6L1165.0 1270.7L1166.0 1273.9L1167.0 1277.2L1168.0 1280.7L1169.0 1284.2L1170.0 1287.8L1171.0 1291.6L1172.0 1295.4L1173.0 1299.3L1174.0 1303.2L1175.0 1307.3L1176.0 1311.4L1177.0 1315.6L1178.0 1319.8L1179.0 1324.1L1180.0 1328.4L1181.0 1332.8L1182.0 1337.2L1183.0 1341.6L1184.0 1346.0L1185.0 1350.5L1186.0 1354.9L1187.0 1359.4L1188.0 1363.9L1189.0 1368.3L1190.0 1372.7L1191.0 1377.1L1192.0 1381.5L1193.0 1385.8L1194.0 1390.1L1195.0 1394.3L1196.0 1398.5L1197.0 1402.6L1198.0 1406.7L1199.0 1410.7L1200.0 1414.6L1201.0 1418.4L1202.0 1422.1L1203.0 1425.8L1204.0 1429.3L1205.0 1432.8L1206.0 1436.1L1207.0 1439.3L1208.0 1442.4L1209.0 1445.4L1210.0 1448.3L1211.0 1451.0L1212.0 1453.6L1213.0 1456.0L1214.0 1458.3L1215.0 1460.5L1216.0 1462.5L1217.0 1464.4L1218.0 1466.1L1219.0 1467.7L1220.0 1469.1L1221.0 1470.3L1222.0 1471.4L1223.0 1472.4L1224.0 1473.1L1225.0 1473.7L1226.0 1474.2L1227.0 1474.4L1228.0 1474.5L1229.0 1474.4L1230.0 1474.2L1231.0 1473.7L1232.0 1473.1L1233.0 1472.3L1234.0 1471.3L1235.0 1470.1L1236.0 1468.7L1237.0 1467.1L1238.0 1465.4L1239.0 1463.5L1240.0 1461.4L1241.0 1459.1L1242.0 1456.6L1243.0 1454.0L1244.0 1451.2L1245.0 1448.3L1246.0 1445.2L1247.0 1441.9L1248.0 1438.5L1249.0 1435.0L1250.0 1431.2L1251.0 1427.4L1252.0 1423.4L1253.0 1419.3L1254.0 1415.0L1255.0 1410.6L1256.0 1406.1L1257.0 1401.5L1258.0 1396.7L1259.0 1391.9L1260.0 1387.0L1261.0 1381.9L1262.0 1376.8L1263.0 1371.6L1264.0 1366.3L1265.0 1360.9L1266.0 1355.5L1267.0 1349.9L1268.0 1344.4L1269.0 1338.8L1270.0 1333.1L1271.0 1327.4L1272.0 1321.7L1273.0 1315.9L1274.0 1310.1L1275.0 1304.3L1276.0 1298.5L1277.0 1292.7L1278.0 1286.9L1279.0 1281.1L1280.0 1275.3L1281.0 1269.5L1282.0 1263.8L1283.0 1258.0L1284.0 1252.4L1285.0 1246.7L1286.0 1241.2L1287.0 1235.6L1288.0 1230.2L1289.0 1224.8L1290.0 1219.5L1291.0 1214.2L1292.0 1209.1L1293.0 1204.0L1294.0 1199.0L1295.0 1194.1L1296.0 1189.4L1297.0 1184.7L1298.0 1180.2L1299.0 1175.7L1300.0 1171.4L1301.0 1167.3L1302.0 1163.2L1303.0 1159.3L1304.0 1155.6L1305.0 1152.0L1306.0 1148.5L1307.0 1145.2L1308.0 1142.0L1309.0 1139.1L1310.0 1136.2L1311.0 1133.6L1312.0 1131.1L1313.0 1128.7L1314.0 1126.6L1315.0 1124.6L1316.0 1122.8L1317.0 1121.2L1318.0 1119.8L1319.0 1118.5L1320.0 1117.5L1321.0 1116.6L1322.0 1115.9L1323.0 1115.4L1324.0 1115.1L1325.0 1114.9L1326.0 1115.0L1327.0 1115.2L1328.0 1115.5L1329.0 1116.0L1330.0 1116.7L1331.0 1117.5L1332.0 1118.4L1333.0 1119.5L1334.0 1120.8L1335.0 1122.2L1336.0 1123.7L1337.0 1125.4L1338.0 1127.2L1339.0 1129.2L1340.0 1131.3L1341.0 1133.5L1342.0 1135.9L1343.0 1138.4L1344.0 1141.0L1345.0 1143.8L1346.0 1146.7L1347.0 1149.7L1348.0 1152.8L1349.0 1156.0L1350.0 1159.4L1351.0 1162.9L1352.0 1166.4L1353.0 1170.1L1354.0 1173.9L1355.0 1177.7L1356.0 1181.7L1357.0 1185.7L1358.0 1189.8L1359.0 1194.0L1360.0 1198.3L1361.0 1202.7L1362.0 1207.1L1363.0 1211.6L1364.0 1216.1L1365.0 1220.7L1366.0 1225.3L1367.0 1230.0L1368.0 1234.7L1369.0 1239.5L1370.0 1244.3L1371.0 1249.1L1372.0 1253.9L1373.0 1258.8L1374.0 1263.7L1375.0 1268.5L1376.0 1273.4L1377.0 1278.3L1378.0 1283.2L1379.0 1288.0L1380.0 1292.9L1381.0 1297.7L1382.0 1302.5L1383.0 1307.3L1384.0 1312.0L1385.0 1316.7L1386.0 1321.3L1387.0 1325.9L1388.0 1330.5L1389.0 1335.0L1390.0 1339.4L1391.0 1343.8L1392.0 1348.0L1393.0 1352.3L1394.0 1356.4L1395.0 1360.5L1396.0 1364.4L1397.0 1368.3L1398.0 1372.1L1399.0 1375.8L1400.0 1379.4L1401.0 1382.9L1402.0 1386.2L1403.0 1389.5L1404.0 1392.6L1405.0 1395.7L1406.0 1398.6L1407.0 1401.4L1408.0 1404.0L1409.0 1406.6L1410.0 1409.0L1411.0 1411.2L1412.0 1413.4L1413.0 1415.3L1414.0 1417.2L1415.0 1418.9L1416.0 1420.5L1417.0 1421.9L1418.0 1423.2L1419.0 1424.3L1420.0 1425.3L1421.0 1426.1L1422.0 1426.8L1423.0 1427.3L1424.0 1427.7L1425.0 1427.9L1426.0 1428.0L1427.0 1428.0L1428.0 1427.8L1429.0 1427.6L1430.0 1427.2L1431.0 1426.8L1432.0 1426.3L1433.0 1425.6L1434.0 1424.9L1435.0 1424.1L1436.0 1423.2L1437.0 1422.2L1438.0 1421.1L1439.0 1419.9L1440.0 1418.6L1441.0 1417.3L1442.0 1415.8L1443.0 1414.3L1444.0 1412.7L1445.0 1411.1L1446.0 1409.3L1447.0 1407.5L1448.0 1405.6L1449.0 1403.7L1450.0 1401.6L1451.0 1399.6L1452.0 1397.4L1453.0 1395.3L1454.0 1393.0L1455.0 1390.7L1456.0 1388.4L1457.0 1386.0L1458.0 1383.6L1459.0 1381.2L1460.0 1378.7L1461.0 1376.2L1462.0 1373.7L1463.0 1371.1L1464.0 1368.6L1465.0 1366.0L1466.0 1363.4L1467.0 1360.8L1468.0 1358.2L1469.0 1355.6L1470.0 1353.0L1471.0 1350.5L1472.0 1347.9L1473.0 1345.4L1474.0 1342.8L1475.0 1340.3L1476.0 1337.8L1477.0 1335.4L1478.0 1333.0L1479.0 1330.6L1480.0 1328.3L1481.0 1326.0L1482.0 1323.8L1483.0 1321.6L1484.0 1319.5L1485.0 1317.4L1486.0 1315.4L1487.0 1313.4L1488.0 1311.5L1489.0 1309.7L1490.0 1308.0L1491.0 1306.3L1492.0 1304.7L1493.0 1303.2L1494.0 1301.7L1495.0 1300.4L1496.0 1299.1L1497.0 1297.9L1498.0 1296.9L1499.0 1295.8L1500.0 1294.9L1501.0 1294.1L1502.0 1293.4L1503.0 1292.8L1504.0 1292.2L1505.0 1291.8L1506.0 1291.4L1507.0 1291.2L1508.0 1291.0L1509.0 1291.0L1510.0 1291.0L1511.0 1291.1L1512.0 1291.2L1513.0 1291.4L1514.0 1291.6L1515.0 1291.9L1516.0 1292.2L1517.0 1292.6L1518.0 1293.0L1519.0 1293.4L1520.0 1293.9L1521.0 1294.5L1522.0 1295.0L1523.0 1295.7L1524.0 1296.3L1525.0 1297.1L1526.0 1297.8L1527.0 1298.6L1528.0 1299.4L1529.0 1300.3L1530.0 1301.2L1531.0 1302.1L1532.0 1303.1L1533.0 1304.0L1534.0 1305.1L1535.0 1306.1L1536.0 1307.2L1537.0 1308.3L1538.0 1309.4L1539.0 1310.5L1540.0 1311.6L1541.0 1312.8L1542.0 1314.0L1543.0 1315.2L1544.0 1316.4L1545.0 1317.6L1546.0 1318.8L1547.0 1320.0L1548.0 1321.2L1549.0 1322.4L1550.0 1323.6L1551.0 1324.8L1552.0 1326.0L1553.0 1327.2L1554.0 1328.4L1555.0 1329.6L1556.0 1330.7L1557.0 1331.9L1558.0 1333.0L1559.0 1334.1L1560.0 1335.2L1561.0 1336.2L1562.0 1337.3L1563.0 1338.3L1564.0 1339.3L1565.0 1340.2L1566.0 1341.1L1567.0 1342.0L1568.0 1342.9L1569.0 1343.7L1570.0 1344.5L1571.0 1345.2L1572.0 1345.9L1573.0 1346.6L1574.0 1347.2L1575.0 1347.8L1576.0 1348.3L1577.0 1348.8L1578.0 1349.3L1579.0 1349.7L1580.0 1350.0L1581.0 1350.3L1582.0 1350.6L1583.0 1350.8L1584.0 1350.9L1585.0 1351.1L1586.0 1351.1L1587.0 1351.1L1588.0 1351.1L1589.0 1351.0L1590.0 1350.9L1591.0 1350.8L1592.0 1350.6L1593.0 1350.4L1594.0 1350.1L1595.0 1349.8L1596.0 1349.5L1597.0 1349.2L1598.0 1348.8L1599.0 1348.3L1600.0 1347.8L1601.0 1347.3L1602.0 1346.8L1603.0 1346.2L1604.0 1345.6L1605.0 1345.0L1606.0 1344.4L1607.0 1343.7L1608.0 1343.0L1609.0 1342.2L1610.0 1341.5L1611.0 1340.7L1612.0 1339.9L1613.0 1339.1L1614.0 1338.3L1615.0 1337.4L1616.0 1336.5L1617.0 1335.6L1618.0 1334.8L1619.0 1333.8L1620.0 1332.9L1621.0 1332.0L1622.0 1331.1L1623.0 1330.1L1624.0 1329.2L1625.0 1328.3L1626.0 1327.3L1627.0 1326.4L1628.0 1325.5L1629.0 1324.5L1630.0 1323.6L1631.0 1322.7L1632.0 1321.8L1633.0 1320.9L1634.0 1320.1L1635.0 1319.2L1636.0 1318.3L1637.0 1317.5L1638.0 1316.7L1639.0 1315.9L1640.0 1315.2L1641.0 1314.4L1642.0 1313.7L1643.0 1313.0L1644.0 1312.3L1645.0 1311.7L1646.0 1311.1L1647.0 1310.5L1648.0 1309.9L1649.0 1309.4L1650.0 1308.9L1651.0 1308.5L1652.0 1308.1L1653.0 1307.7L1654.0 1307.3L1655.0 1307.0L1656.0 1306.7L1657.0 1306.5L1658.0 1306.3L1659.0 1306.1L1660.0 1306.0L1661.0 1305.9L1662.0 1305.9L1663.0 1305.9L1664.0 1305.9L1665.0 1305.9L1666.0 1306.0L1667.0 1306.1L1668.0 1306.2L1669.0 1306.4L1670.0 1306.5L1671.0 1306.7L1672.0 1306.9L1673.0 1307.2L1674.0 1307.4L1675.0 1307.7L1676.0 1308.0L1677.0 1308.3L1678.0 1308.7L1679.0 1309.0L1680.0 1309.4L1681.0 1309.8L1682.0 1310.2L1683.0 1310.7L1684.0 1311.1L1685.0 1311.6L1686.0 1312.1L1687.0 1312.6L1688.0 1313.1L1689.0 1313.6L1690.0 1314.1L1691.0 1314.7L1692.0 1315.3L1693.0 1315.8L1694.0 1316.4L1695.0 1317.0L1696.0 1317.6L1697.0 1318.2L1698.0 1318.8L1699.0 1319.4L1700.0 1320.0L1701.0 1320.7L1702.0 1321.3L1703.0 1321.9L1704.0 1322.5L1705.0 1323.1L1706.0 1323.8L1707.0 1324.4L1708.0 1325.0L1709.0 1325.6L1710.0 1326.2L1711.0 1326.8L1712.0 1327.4L1713.0 1327.9L1714.0 1328.5L1715.0 1329.1L1716.0 1329.6L1717.0 1330.1L1718.0 1330.7L1719.0 1331.2L1720.0 1331.7L1721.0 1332.1L1722.0 1332.6L1723.0 1333.0L1724.0 1333.5L1725.0 1333.9L1726.0 1334.3L1727.0 1334.6L1728.0 1335.0L1729.0 1335.3L1730.0 1335.6L1731.0 1335.9L1732.0 1336.1L1733.0 1336.4L1734.0 1336.6L1735.0 1336.8L1736.0 1337.0L1737.0 1337.1L1738.0 1337.2L1739.0 1337.3L1740.0 1337.4L1741.0 1337.5L1742.0 1337.5L1743.0 1337.5L1744.0 1337.5L1745.0 1337.4L1746.0 1337.4L1747.0 1337.3L1748.0 1337.2L1749.0 1337.0L1750.0 1336.9L1751.0 1336.7L1752.0 1336.5L1753.0 1336.3L1754.0 1336.0L1755.0 1335.7L1756.0 1335.4L1757.0 1335.1L1758.0 1334.8L1759.0 1334.5L1760.0 1334.1L1761.0 1333.7L1762.0 1333.3L1763.0 1332.9L1764.0 1332.5L1765.0 1332.0L1766.0 1331.6L1767.0 1331.1L1768.0 1330.6L1769.0 1330.1L1770.0 1329.6L1771.0 1329.1L1772.0 1328.6L1773.0 1328.1L1774.0 1327.5L1775.0 1327.0L1776.0 1326.5L1777.0 1325.9L1778.0 1325.4L1779.0 1324.8L1780.0 1324.3L1781.0 1323.7L1782.0 1323.2L1783.0 1322.6L1784.0 1322.1L1785.0 1321.5L1786.0 1321.0L1787.0 1320.5L1788.0 1319.9L1789.0 1319.4L1790.0 1318.9L1791.0 1318.4L1792.0 1317.9L1793.0 1317.5L1794.0 1317.0L1795.0 1316.6L1796.0 1316.1L1797.0 1315.7L1798.0 1315.3L1799.0 1314.9L1800.0 1314.6L1801.0 1314.2L1802.0 1313.9L1803.0 1313.6L1804.0 1313.3L1805.0 1313.0L1806.0 1312.8L1807.0 1312.5L1808.0 1312.3L1809.0 1312.1L1810.0 1312.0L1811.0 1311.8L1812.0 1311.7L1813.0 1311.6L1814.0 1311.5L1815.0 1311.5L1816.0 1311.5L1817.0 1311.5L1818.0 1311.5L1819.0 1311.5L1820.0 1311.6L1821.0 1311.6L1822.0 1311.7L1823.0 1311.8L1824.0 1312.0L1825.0 1312.1L1826.0 1312.3L1827.0 1312.5L1828.0 1312.7L1829.0 1312.9L1830.0 1313.1L1831.0 1313.4L1832.0 1313.6L1833.0 1313.9L1834.0 1314.2L1835.0 1314.5L1836.0 1314.9L1837.0 1315.2L1838.0 1315.5L1839.0 1315.9L1840.0 1316.3L1841.0 1316.7L1842.0 1317.0L1843.0 1317.4L1844.0 1317.9L1845.0 1318.3L1846.0 1318.7L1847.0 1319.1L1848.0 1319.6L1849.0 1320.0L1850.0 1320.4L1851.0 1320.9L1852.0 1321.3L1853.0 1321.8L1854.0 1322.2L1855.0 1322.7L1856.0 1323.1L1857.0 1323.6L1858.0 1324.0L1859.0 1324.4L1860.0 1324.9L1861.0 1325.3L1862.0 1325.7L1863.0 1326.1L1864.0 1326.6L1865.0 1327.0L1866.0 1327.3L1867.0 1327.7L1868.0 1328.1L1869.0 1328.5L1870.0 1328.8L1871.0 1329.1L1872.0 1329.5L1873.0 1329.8L1874.0 1330.1L1875.0 1330.4L1876.0 1330.6L1877.0 1330.9L1878.0 1331.1L1879.0 1331.3L1880.0 1331.5L1881.0 1331.7L1882.0 1331.9L1883.0 1332.0L1884.0 1332.2L1885.0 1332.3L1886.0 1332.4L1887.0 1332.4L1888.0 1332.5L1889.0 1332.5L1890.0 1332.5L1891.0 1332.5L1892.0 1332.5L1893.0 1332.5L1894.0 1332.4L1895.0 1332.4L1896.0 1332.3L1897.0 1332.2L1898.0 1332.1L1899.0 1332.0L1900.0 1331.8L1901.0 1331.7L1902.0 1331.5L1903.0 1331.3L1904.0 1331.1L1905.0 1330.9L1906.0 1330.7L1907.0 1330.4L1908.0 1330.2L1909.0 1329.9L1910.0 1329.6L1911.0 1329.4L1912.0 1329.1L1913.0 1328.8L1914.0 1328.4L1915.0 1328.1L1916.0 1327.8L1917.0 1327.5L1918.0 1327.1L1919.0 1326.7L1920.0 1326.4L1921.0 1326.0L1922.0 1325.7L1923.0 1325.3L1924.0 1324.9L1925.0 1324.5L1926.0 1324.1L1927.0 1323.8L1928.0 1323.4L1929.0 1323.0L1930.0 1322.6L1931.0 1322.2L1932.0 1321.8L1933.0 1321.5L1934.0 1321.1L1935.0 1320.7L1936.0 1320.3L1937.0 1320.0L1938.0 1319.6L1939.0 1319.3L1940.0 1318.9L1941.0 1318.6L1942.0 1318.3L1943.0 1317.9L1944.0 1317.6L1945.0 1317.3L1946.0 1317.0L1947.0 1316.8L1948.0 1316.5L1949.0 1316.2L1950.0 1316.0L1951.0 1315.7L1952.0 1315.5L1953.0 1315.3L1954.0 1315.1L1955.0 1314.9L1956.0 1314.8L1957.0 1314.6L1958.0 1314.5L1959.0 1314.4L1960.0 1314.3L1961.0 1314.2L1962.0 1314.1L1963.0 1314.0L1964.0 1314.0L1965.0 1314.0L1966.0 1313.9L1967.0 1313.9L1968.0 1314.0L1969.0 1314.0L1970.0 1314.0L1971.0 1314.1L1972.0 1314.2L1973.0 1314.3L1974.0 1314.4L1975.0 1314.5L1976.0 1314.6L1977.0 1314.7L1978.0 1314.9L1979.0 1315.1L1980.0 1315.3L1981.0 1315.4L1982.0 1315.7L1983.0 1315.9L1984.0 1316.1L1985.0 1316.3L1986.0 1316.6L1987.0 1316.8L1988.0 1317.1L1989.0 1317.4L1990.0 1317.7L1991.0 1318.0L1992.0 1318.3L1993.0 1318.6L1994.0 1318.9L1995.0 1319.2L1996.0 1319.5L1997.0 1319.8L1998.0 1320.2L1999.0 1320.5L2000.0 1320.9L2001.0 1321.2L2002.0 1321.5L2003.0 1321.9L2004.0 1322.2L2005.0 1322.6L2006.0 1322.9L2007.0 1323.3L2008.0 1323.6L2009.0 1324.0L2010.0 1324.3L2011.0 1324.6L2012.0 1325.0L2013.0 1325.3L2014.0 1325.6L2015.0 1325.9L2016.0 1326.2L2017.0 1326.5L2018.0 1326.8L2019.0 1327.1L2020.0 1327.4L2021.0 1327.7L2022.0 1327.9L2023.0 1328.2L2024.0 1328.4L2025.0 1328.7L2026.0 1328.9L2027.0 1329.1L2028.0 1329.3L2029.0 1329.5L2030.0 1329.6L2031.0 1329.8L2032.0 1330.0L2033.0 1330.1L2034.0 1330.2L2035.0 1330.3L2036.0 1330.4L2037.0 1330.5L2038.0 1330.6L2039.0 1330.6L2040.0 1330.6L2041.0 1330.7L2042.0 1330.7L2043.0 1330.7L2044.0 1330.7L2045.0 1330.6L2046.0 1330.6L2047.0 1330.5L2048.0 1330.5L2049.0 1330.4L2050.0 1330.3L2051.0 1330.2L2052.0 1330.1L2053.0 1329.9L2054.0 1329.8L2055.0 1329.6L2056.0 1329.5L2057.0 1329.3L2058.0 1329.1L2059.0 1328.9L2060.0 1328.7L2061.0 1328.5L2062.0 1328.3L2063.0 1328.1L2064.0 1327.8L2065.0 1327.6L2066.0 1327.3L2067.0 1327.1L2068.0 1326.8L2069.0 1326.5L2070.0 1326.2L2071.0 1326.0L2072.0 1325.7L2073.0 1325.4L2074.0 1325.1L2075.0 1324.8L2076.0 1324.5L2077.0 1324.2L2078.0 1323.9L2079.0 1323.6L2080.0 1323.3L2081.0 1322.9L2082.0 1322.6L2083.0 1322.3L2084.0 1322.0L2085.0 1321.7L2086.0 1321.4L2087.0 1321.1L2088.0 1320.8L2089.0 1320.5L2090.0 1320.3L2091.0 1320.0L2092.0 1319.7L2093.0 1319.4L2094.0 1319.2L2095.0 1318.9L2096.0 1318.7L2097.0 1318.4L2098.0 1318.2L2099.0 1318.0L2100.0 1317.8L2101.0 1317.6L2102.0 1317.4L2103.0 1317.2L2104.0 1317.0L2105.0 1316.9L2106.0 1316.7" fill="none" stroke="#0ff" stroke-width="4" stroke-linejoin="round" clip-path="url(#cb)"/>
<path d="M184.0 1342.3L185.0 1341.7L186.0 1341.0L187.0 1340.3L188.0 1339.5L189.0 1338.7L190.0 1337.9L191.0 1337.1L192.0 1336.2L193.0 1335.3L194.0 1334.4L195.0 1333.4L196.0 1332.4L197.0 1331.4L198.0 1330.4L199.0 1329.4L200.0 1328.3L201.0 1327.2L202.0 1326.2L203.0 1325.1L204.0 1324.0L205.0 1322.9L206.0 1321.8L207.0 1320.6L208.0 1319.5L209.0 1318.4L210.0 1317.3L211.0 1316.2L212.0 1315.2L213.0 1314.1L214.0 1313.0L215.0 1312.0L216.0 1310.9L217.0 1309.9L218.0 1308.9L219.0 1307.9L220.0 1307.0L221.0 1306.1L222.0 1305.2L223.0 1304.3L224.0 1303.4L225.0 1302.6L226.0 1301.8L227.0 1301.1L228.0 1300.4L229.0 1299.7L230.0 1299.1L231.0 1298.5L232.0 1297.9L233.0 1297.4L234.0 1297.0L235.0 1296.5L236.0 1296.1L237.0 1295.8L238.0 1295.5L239.0 1295.3L240.0 1295.1L241.0 1294.9L242.0 1294.8L243.0 1294.7L244.0 1294.7L245.0 1294.8L246.0 1294.9L247.0 1295.0L248.0 1295.2L249.0 1295.5L250.0 1295.8L251.0 1296.2L252.0 1296.7L253.0 1297.2L254.0 1297.7L255.0 1298.4L256.0 1299.0L257.0 1299.7L258.0 1300.5L259.0 1301.3L260.0 1302.2L261.0 1303.1L262.0 1304.0L263.0 1305.0L264.0 1306.1L265.0 1307.1L266.0 1308.2L267.0 1309.4L268.0 1310.6L269.0 1311.8L270.0 1313.0L271.0 1314.3L272.0 1315.6L273.0 1316.9L274.0 1318.2L275.0 1319.6L276.0 1321.0L277.0 1322.3L278.0 1323.7L279.0 1325.1L280.0 1326.5L281.0 1327.9L282.0 1329.4L283.0 1330.8L284.0 1332.2L285.0 1333.6L286.0 1335.0L287.0 1336.3L288.0 1337.7L289.0 1339.1L290.0 1340.4L291.0 1341.7L292.0 1343.0L293.0 1344.3L294.0 1345.5L295.0 1346.7L296.0 1347.9L297.0 1349.0L298.0 1350.1L299.0 1351.2L300.0 1352.2L301.0 1353.2L302.0 1354.1L303.0 1355.0L304.0 1355.9L305.0 1356.7L306.0 1357.4L307.0 1358.1L308.0 1358.8L309.0 1359.4L310.0 1359.9L311.0 1360.4L312.0 1360.9L313.0 1361.2L314.0 1361.6L315.0 1361.8L316.0 1362.0L317.0 1362.2L318.0 1362.3L319.0 1362.3L320.0 1362.3L321.0 1362.2L322.0 1362.0L323.0 1361.8L324.0 1361.5L325.0 1361.1L326.0 1360.7L327.0 1360.2L328.0 1359.6L329.0 1359.0L330.0 1358.3L331.0 1357.5L332.0 1356.7L333.0 1355.9L334.0 1354.9L335.0 1354.0L336.0 1352.9L337.0 1351.8L338.0 1350.7L339.0 1349.5L340.0 1348.3L341.0 1347.0L342.0 1345.7L343.0 1344.3L344.0 1342.9L345.0 1341.4L346.0 1340.0L347.0 1338.4L348.0 1336.9L349.0 1335.3L350.0 1333.7L351.0 1332.1L352.0 1330.5L353.0 1328.8L354.0 1327.1L355.0 1325.5L356.0 1323.8L357.0 1322.1L358.0 1320.4L359.0 1318.6L360.0 1316.9L361.0 1315.2L362.0 1313.5L363.0 1311.8L364.0 1310.2L365.0 1308.5L366.0 1306.8L367.0 1305.2L368.0 1303.6L369.0 1302.0L370.0 1300.4L371.0 1298.9L372.0 1297.4L373.0 1295.9L374.0 1294.5L375.0 1293.1L376.0 1291.7L377.0 1290.4L378.0 1289.2L379.0 1287.9L380.0 1286.8L381.0 1285.6L382.0 1284.6L383.0 1283.5L384.0 1282.6L385.0 1281.7L386.0 1280.8L387.0 1280.0L388.0 1279.3L389.0 1278.6L390.0 1278.0L391.0 1277.5L392.0 1277.0L393.0 1276.6L394.0 1276.2L395.0 1276.0L396.0 1275.7L397.0 1275.6L398.0 1275.5L399.0 1275.5L400.0 1275.6L401.0 1275.8L402.0 1276.1L403.0 1276.5L404.0 1277.0L405.0 1277.6L406.0 1278.3L407.0 1279.1L408.0 1280.0L409.0 1281.0L410.0 1282.1L411.0 1283.3L412.0 1284.6L413.0 1286.0L414.0 1287.5L415.0 1289.1L416.0 1290.7L417.0 1292.5L418.0 1294.3L419.0 1296.2L420.0 1298.2L421.0 1300.2L422.0 1302.4L423.0 1304.6L424.0 1306.8L425.0 1309.2L426.0 1311.6L427.0 1314.0L428.0 1316.5L429.0 1319.1L430.0 1321.7L431.0 1324.3L432.0 1327.0L433.0 1329.7L434.0 1332.5L435.0 1335.3L436.0 1338.1L437.0 1340.9L438.0 1343.8L439.0 1346.7L440.0 1349.5L441.0 1352.4L442.0 1355.3L443.0 1358.2L444.0 1361.1L445.0 1364.0L446.0 1366.8L447.0 1369.7L448.0 1372.5L449.0 1375.3L450.0 1378.1L451.0 1380.9L452.0 1383.6L453.0 1386.3L454.0 1388.9L455.0 1391.5L456.0 1394.1L457.0 1396.6L458.0 1399.0L459.0 1401.4L460.0 1403.7L461.0 1406.0L462.0 1408.2L463.0 1410.3L464.0 1412.4L465.0 1414.3L466.0 1416.2L467.0 1418.1L468.0 1419.8L469.0 1421.4L470.0 1423.0L471.0 1424.5L472.0 1425.9L473.0 1427.1L474.0 1428.3L475.0 1429.4L476.0 1430.4L477.0 1431.3L478.0 1432.1L479.0 1432.8L480.0 1433.4L481.0 1433.9L482.0 1434.3L483.0 1434.6L484.0 1434.8L485.0 1434.8L486.0 1434.8L487.0 1434.6L488.0 1434.3L489.0 1433.8L490.0 1433.1L491.0 1432.3L492.0 1431.4L493.0 1430.3L494.0 1429.1L495.0 1427.8L496.0 1426.3L497.0 1424.6L498.0 1422.8L499.0 1420.9L500.0 1418.8L501.0 1416.7L502.0 1414.3L503.0 1411.9L504.0 1409.3L505.0 1406.6L506.0 1403.8L507.0 1400.9L508.0 1397.8L509.0 1394.6L510.0 1391.4L511.0 1388.0L512.0 1384.5L513.0 1380.9L514.0 1377.3L515.0 1373.5L516.0 1369.6L517.0 1365.7L518.0 1361.7L519.0 1357.6L520.0 1353.4L521.0 1349.2L522.0 1344.9L523.0 1340.5L524.0 1336.1L525.0 1331.6L526.0 1327.1L527.0 1322.5L528.0 1317.9L529.0 1313.3L530.0 1308.6L531.0 1303.9L532.0 1299.2L533.0 1294.5L534.0 1289.8L535.0 1285.1L536.0 1280.3L537.0 1275.6L538.0 1270.9L539.0 1266.1L540.0 1261.4L541.0 1256.8L542.0 1252.1L543.0 1247.5L544.0 1242.9L545.0 1238.4L546.0 1233.9L547.0 1229.5L548.0 1225.1L549.0 1220.7L550.0 1216.5L551.0 1212.2L552.0 1208.1L553.0 1204.1L554.0 1200.1L555.0 1196.2L556.0 1192.4L557.0 1188.6L558.0 1185.0L559.0 1181.5L560.0 1178.0L561.0 1174.7L562.0 1171.5L563.0 1168.4L564.0 1165.4L565.0 1162.5L566.0 1159.8L567.0 1157.1L568.0 1154.6L569.0 1152.2L570.0 1150.0L571.0 1147.9L572.0 1145.9L573.0 1144.0L574.0 1142.3L575.0 1140.7L576.0 1139.3L577.0 1138.0L578.0 1136.8L579.0 1135.8L580.0 1135.0L581.0 1134.3L582.0 1133.7L583.0 1133.3L584.0 1133.0" fill="none" stroke="#00f" stroke-width="4" stroke-dasharray="45.021 25.011" stroke-dashoffset="0.000" stroke-linejoin="round" clip-path="url(#cb)"/>
<path d="M582.0 1133.7L583.0 1133.3L584.0 1133.0L585.0 1132.9L586.0 1132.9L587.0 1133.1L588.0 1133.4L589.0 1133.9L590.0 1134.5L591.0 1135.3L592.0 1136.2L593.0 1137.3L594.0 1138.5L595.0 1139.9L596.0 1141.4L597.0 1143.0L598.0 1144.8L599.0 1146.7L600.0 1148.8L601.0 1151.0L602.0 1153.3L603.0 1155.7L604.0 1158.3L605.0 1161.0L606.0 1163.8L607.0 1166.7L608.0 1169.8L609.0 1173.0L610.0 1176.2L611.0 1179.6L612.0 1183.1L613.0 1186.7L614.0 1190.4L615.0 1194.1L616.0 1198.0L617.0 1201.9L618.0 1206.0L619.0 1210.1L620.0 1214.2L621.0 1218.5L622.0 1222.8L623.0 1227.1L624.0 1231.6L625.0 1236.0L626.0 1240.5L627.0 1245.1L628.0 1249.7L629.0 1254.3L630.0 1259.0L631.0 1263.6L632.0 1268.3L633.0 1273.0L634.0 1277.8L635.0 1282.5L636.0 1287.2L637.0 1291.9L638.0 1296.6L639.0 1301.3L640.0 1306.0L641.0 1310.6L642.0 1315.3L643.0 1319.8L644.0 1324.4L645.0 1328.9L646.0 1333.4L647.0 1337.8L648.0 1342.1L649.0 1346.4L650.0 1350.6L651.0 1354.8L652.0 1358.9L653.0 1362.9L654.0 1366.8L655.0 1370.6L656.0 1374.4L657.0 1378.1L658.0 1381.6L659.0 1385.1L660.0 1388.4L661.0 1391.7L662.0 1394.8L663.0 1397.9L664.0 1400.8L665.0 1403.6L666.0 1406.3L667.0 1408.8L668.0 1411.2L669.0 1413.5L670.0 1415.7L671.0 1417.7L672.0 1419.6L673.0 1421.3L674.0 1423.0L675.0 1424.4L676.0 1425.8L677.0 1426.9L678.0 1428.0L679.0 1428.9L680.0 1429.6L681.0 1430.2L682.0 1430.7L683.0 1431.0L684.0 1431.1L685.0 1431.1L686.0 1431.0L687.0 1430.8L688.0 1430.5L689.0 1430.1L690.0 1429.6L691.0 1429.0L692.0 1428.3L693.0 1427.5L694.0 1426.6L695.0 1425.7L696.0 1424.6L697.0 1423.4L698.0 1422.2L699.0 1420.8L700.0 1419.4L701.0 1417.9L702.0 1416.3L703.0 1414.6L704.0 1412.8L705.0 1411.0L706.0 1409.1L707.0 1407.1L708.0 1405.1L709.0 1403.0L710.0 1400.8L711.0 1398.6L712.0 1396.3L713.0 1393.9L714.0 1391.5L715.0 1389.1L716.0 1386.6L717.0 1384.1L718.0 1381.5L719.0 1378.9L720.0 1376.3L721.0 1373.6L722.0 1370.9L723.0 1368.2L724.0 1365.5L725.0 1362.8L726.0 1360.0L727.0 1357.3L728.0 1354.6L729.0 1351.8L730.0 1349.1L731.0 1346.3L732.0 1343.6L733.0 1340.9L734.0 1338.2L735.0 1335.6L736.0 1332.9L737.0 1330.3L738.0 1327.8L739.0 1325.2L740.0 1322.7L741.0 1320.3L742.0 1317.9L743.0 1315.5L744.0 1313.2L745.0 1311.0L746.0 1308.8L747.0 1306.7L748.0 1304.7L749.0 1302.7L750.0 1300.8L751.0 1298.9L752.0 1297.2L753.0 1295.5L754.0 1293.9L755.0 1292.3L756.0 1290.9L757.0 1289.5L758.0 1288.3L759.0 1287.1L760.0 1286.0L761.0 1285.0L762.0 1284.1L763.0 1283.3L764.0 1282.6L765.0 1282.0L766.0 1281.5L767.0 1281.1L768.0 1280.8L769.0 1280.6L770.0 1280.5L771.0 1280.5L772.0 1280.5L773.0 1280.7L774.0 1280.9L775.0 1281.1L776.0 1281.5L777.0 1281.9L778.0 1282.4L779.0 1283.0L780.0 1283.6L781.0 1284.3L782.0 1285.0L783.0 1285.8L784.0 1286.7L785.0 1287.6L786.0 1288.6L787.0 1289.7L788.0 1290.8L789.0 1291.9L790.0 1293.1L791.0 1294.4L792.0 1295.7L793.0 1297.0L794.0 1298.4L795.0 1299.9L796.0 1301.3L797.0 1302.8L798.0 1304.3L799.0 1305.9L800.0 1307.5L801.0 1309.1L802.0 1310.7L803.0 1312.3L804.0 1314.0L805.0 1315.6L806.0 1317.3L807.0 1319.0L808.0 1320.7L809.0 1322.3L810.0 1324.0L811.0 1325.7L812.0 1327.3L813.0 1329.0L814.0 1330.6L815.0 1332.2L816.0 1333.8L817.0 1335.3L818.0 1336.8L819.0 1338.3L820.0 1339.8L821.0 1341.2L822.0 1342.6L823.0 1344.0L824.0 1345.3L825.0 1346.5L826.0 1347.7L827.0 1348.9L828.0 1350.0L829.0 1351.0L830.0 1352.0L831.0 1353.0L832.0 1353.8L833.0 1354.7L834.0 1355.4L835.0 1356.1L836.0 1356.7L837.0 1357.3L838.0 1357.7L839.0 1358.2L840.0 1358.5L841.0 1358.8L842.0 1359.0L843.0 1359.1L844.0 1359.2L845.0 1359.2L846.0 1359.1L847.0 1359.0L848.0 1358.9L849.0 1358.7L850.0 1358.4L851.0 1358.1L852.0 1357.7L853.0 1357.3L854.0 1356.8L855.0 1356.3L856.0 1355.8L857.0 1355.2L858.0 1354.5L859.0 1353.8L860.0 1353.1L861.0 1352.3L862.0 1351.5L863.0 1350.7L864.0 1349.8L865.0 1348.9L866.0 1347.9L867.0 1346.9L868.0 1345.9L869.0 1344.9L870.0 1343.8L871.0 1342.7L872.0 1341.6L873.0 1340.4L874.0 1339.3L875.0 1338.1L876.0 1336.9L877.0 1335.7L878.0 1334.5L879.0 1333.3L880.0 1332.0L881.0 1330.8L882.0 1329.6L883.0 1328.3L884.0 1327.1L885.0 1325.9L886.0 1324.6L887.0 1323.4L888.0 1322.2L889.0 1321.0L890.0 1319.9L891.0 1318.7L892.0 1317.6L893.0 1316.5L894.0 1315.4L895.0 1314.3L896.0 1313.3L897.0 1312.3L898.0 1311.3L899.0 1310.3L900.0 1309.4L901.0 1308.6L902.0 1307.7L903.0 1306.9L904.0 1306.2L905.0 1305.4L906.0 1304.8L907.0 1304.1L908.0 1303.5L909.0 1303.0L910.0 1302.5L911.0 1302.1L912.0 1301.7L913.0 1301.3L914.0 1301.0L915.0 1300.8L916.0 1300.6L917.0 1300.4L918.0 1300.3L919.0 1300.3L920.0 1300.3L921.0 1300.3L922.0 1300.4L923.0 1300.5L924.0 1300.7L925.0 1300.8L926.0 1301.0L927.0 1301.3L928.0 1301.5L929.0 1301.8L930.0 1302.2L931.0 1302.5L932.0 1302.9L933.0 1303.3L934.0 1303.8L935.0 1304.3L936.0 1304.8L937.0 1305.3L938.0 1305.9L939.0 1306.4L940.0 1307.1L941.0 1307.7L942.0 1308.3L943.0 1309.0L944.0 1309.7L945.0 1310.4L946.0 1311.1L947.0 1311.9L948.0 1312.6L949.0 1313.4L950.0 1314.2L951.0 1315.0L952.0 1315.8L953.0 1316.7L954.0 1317.5L955.0 1318.3L956.0 1319.2L957.0 1320.0L958.0 1320.9L959.0 1321.8L960.0 1322.6L961.0 1323.5L962.0 1324.3L963.0 1325.2L964.0 1326.1L965.0 1326.9L966.0 1327.7L967.0 1328.6L968.0 1329.4L969.0 1330.2L970.0 1331.0L971.0 1331.8L972.0 1332.6L973.0 1333.4L974.0 1334.1L975.0 1334.8L976.0 1335.5L977.0 1336.2L978.0 1336.9L979.0 1337.6L980.0 1338.2L981.0 1338.8L982.0 1339.4L983.0 1339.9L984.0 1340.5L985.0 1341.0L986.0 1341.4L987.0 1341.9L988.0 1342.3L989.0 1342.7L990.0 1343.1L991.0 1343.4L992.0 1343.7L993.0 1344.0L994.0 1344.2L995.0 1344.4L996.0 1344.6L997.0 1344.7L998.0 1344.8L999.0 1344.9L1000.0 1344.9L1001.0 1344.9L1002.0 1344.9L1003.0 1344.8L1004.0 1344.7L1005.0 1344.5L1006.0 1344.3L1007.0 1344.0L1008.0 1343.7L1009.0 1343.4L1010.0 1343.0L1011.0 1342.6L1012.0 1342.1L1013.0 1341.6L1014.0 1341.1L1015.0 1340.5L1016.0 1339.9L1017.0 1339.2L1018.0 1338.5L1019.0 1337.8L1020.0 1337.1L1021.0 1336.3L1022.0 1335.5L1023.0 1334.7L1024.0 1333.8L1025.0 1332.9L1026.0 1332.1L1027.0 1331.1L1028.0 1330.2L1029.0 1329.3L1030.0 1328.4L1031.0 1327.4L1032.0 1326.5L1033.0 1325.5L1034.0 1324.5L1035.0 1323.6L1036.0 1322.6L1037.0 1321.6L1038.0 1320.7L1039.0 1319.8L1040.0 1318.8L1041.0 1317.9L1042.0 1317.0L1043.0 1316.1L1044.0 1315.2L1045.0 1314.4L1046.0 1313.6L1047.0 1312.8L1048.0 1312.0L1049.0 1311.2L1050.0 1310.5L1051.0 1309.8L1052.0 1309.2L1053.0 1308.5L1054.0 1308.0L1055.0 1307.4L1056.0 1306.9L1057.0 1306.4L1058.0 1306.0L1059.0 1305.6L1060.0 1305.3L1061.0 1304.9L1062.0 1304.7L1063.0 1304.5L1064.0 1304.3L1065.0 1304.2L1066.0 1304.1L1067.0 1304.0L1068.0 1304.0L1069.0 1304.1L1070.0 1304.1L1071.0 1304.2L1072.0 1304.4L1073.0 1304.5L1074.0 1304.7L1075.0 1305.0L1076.0 1305.2L1077.0 1305.5L1078.0 1305.9L1079.0 1306.2L1080.0 1306.6L1081.0 1307.0L1082.0 1307.5L1083.0 1307.9L1084.0 1308.4L1085.0 1308.9L1086.0 1309.5L1087.0 1310.1L1088.0 1310.6L1089.0 1311.3L1090.0 1311.9L1091.0 1312.5L1092.0 1313.2L1093.0 1313.9L1094.0 1314.6L1095.0 1315.3L1096.0 1316.1L1097.0 1316.8L1098.0 1317.6L1099.0 1318.3L1100.0 1319.1L1101.0 1319.9L1102.0 1320.7L1103.0 1321.5L1104.0 1322.3L1105.0 1323.1L1106.0 1323.9L1107.0 1324.7L1108.0 1325.5L1109.0 1326.3L1110.0 1327.0L1111.0 1327.8L1112.0 1328.6L1113.0 1329.4L1114.0 1330.1L1115.0 1330.9L1116.0 1331.6L1117.0 1332.3L1118.0 1333.0L1119.0 1333.7L1120.0 1334.3L1121.0 1335.0L1122.0 1335.6L1123.0 1336.2L1124.0 1336.8L1125.0 1337.3L1126.0 1337.9L1127.0 1338.4L1128.0 1338.8L1129.0 1339.3L1130.0 1339.7L1131.0 1340.1L1132.0 1340.5L1133.0 1340.8L1134.0 1341.1L1135.0 1341.4L1136.0 1341.7L1137.0 1341.9L1138.0 1342.0L1139.0 1342.2L1140.0 1342.3L1141.0 1342.4L1142.0 1342.4L1143.0 1342.5L1144.0 1342.4L1145.0 1342.4L1146.0 1342.3L1147.0 1342.2L1148.0 1342.0L1149.0 1341.8L1150.0 1341.6L1151.0 1341.4L1152.0 1341.1L1153.0 1340.8L1154.0 1340.4L1155.0 1340.0L1156.0 1339.6L1157.0 1339.2L1158.0 1338.7L1159.0 1338.2L1160.0 1337.7L1161.0 1337.1L1162.0 1336.5L1163.0 1335.9L1164.0 1335.3L1165.0 1334.7L1166.0 1334.0L1167.0 1333.3L1168.0 1332.6L1169.0 1331.9L1170.0 1331.2L1171.0 1330.4L1172.0 1329.6L1173.0 1328.9L1174.0 1328.1L1175.0 1327.3L1176.0 1326.5L1177.0 1325.7L1178.0 1324.9L1179.0 1324.1L1180.0 1323.2L1181.0 1322.4L1182.0 1321.6L1183.0 1320.8L1184.0 1320.0L1185.0 1319.2L1186.0 1318.4L1187.0 1317.6L1188.0 1316.8L1189.0 1316.1L1190.0 1315.3L1191.0 1314.6L1192.0 1313.9L1193.0 1313.2L1194.0 1312.5L1195.0 1311.8L1196.0 1311.2L1197.0 1310.5L1198.0 1309.9L1199.0 1309.4L1200.0 1308.8L1201.0 1308.3L1202.0 1307.8L1203.0 1307.3L1204.0 1306.9L1205.0 1306.5L1206.0 1306.1L1207.0 1305.7L1208.0 1305.4L1209.0 1305.1L1210.0 1304.9L1211.0 1304.6L1212.0 1304.5L1213.0 1304.3L1214.0 1304.2L1215.0 1304.1L1216.0 1304.0L1217.0 1304.0L1218.0 1304.0L1219.0 1304.1L1220.0 1304.2L1221.0 1304.3L1222.0 1304.5L1223.0 1304.7L1224.0 1304.9L1225.0 1305.2L1226.0 1305.5L1227.0 1305.8L1228.0 1306.2L1229.0 1306.6L1230.0 1307.0L1231.0 1307.5L1232.0 1308.0L1233.0 1308.5L1234.0 1309.1L1235.0 1309.7L1236.0 1310.3L1237.0 1310.9L1238.0 1311.6L1239.0 1312.3L1240.0 1313.0L1241.0 1313.7L1242.0 1314.5L1243.0 1315.2L1244.0 1316.0L1245.0 1316.8L1246.0 1317.6L1247.0 1318.5L1248.0 1319.3L1249.0 1320.2L1250.0 1321.0L1251.0 1321.9L1252.0 1322.8L1253.0 1323.6L1254.0 1324.5L1255.0 1325.4L1256.0 1326.3L1257.0 1327.2L1258.0 1328.1L1259.0 1328.9L1260.0 1329.8L1261.0 1330.7L1262.0 1331.5L1263.0 1332.4L1264.0 1333.2L1265.0 1334.0L1266.0 1334.8L1267.0 1335.6L1268.0 1336.4L1269.0 1337.1L1270.0 1337.8L1271.0 1338.5L1272.0 1339.2L1273.0 1339.9L1274.0 1340.5L1275.0 1341.1L1276.0 1341.7L1277.0 1342.3L1278.0 1342.8L1279.0 1343.3L1280.0 1343.8L1281.0 1344.2L1282.0 1344.6L1283.0 1345.0L1284.0 1345.3L1285.0 1345.6L1286.0 1345.9L1287.0 1346.1L1288.0 1346.3L1289.0 1346.5L1290.0 1346.6L1291.0 1346.7L1292.0 1346.8L1293.0 1346.8L1294.0 1346.8L1295.0 1346.7L1296.0 1346.6L1297.0 1346.4L1298.0 1346.2L1299.0 1345.9L1300.0 1345.6L1301.0 1345.3L1302.0 1344.9L1303.0 1344.5L1304.0 1344.0L1305.0 1343.5L1306.0 1342.9L1307.0 1342.3L1308.0 1341.6L1309.0 1341.0L1310.0 1340.2L1311.0 1339.5L1312.0 1338.7L1313.0 1337.9L1314.0 1337.0L1315.0 1336.1L1316.0 1335.2L1317.0 1334.3L1318.0 1333.4L1319.0 1332.4L1320.0 1331.4L1321.0 1330.4L1322.0 1329.3L1323.0 1328.3L1324.0 1327.2L1325.0 1326.1L1326.0 1325.1L1327.0 1324.0L1328.0 1322.9L1329.0 1321.8L1330.0 1320.7L1331.0 1319.6L1332.0 1318.5L1333.0 1317.4L1334.0 1316.4L1335.0 1315.3L1336.0 1314.3L1337.0 1313.2L1338.0 1312.2L1339.0 1311.2L1340.0 1310.2L1341.0 1309.3L1342.0 1308.3L1343.0 1307.4L1344.0 1306.5L1345.0 1305.7L1346.0 1304.8L1347.0 1304.1L1348.0 1303.3L1349.0 1302.6L1350.0 1301.9L1351.0 1301.2L1352.0 1300.6L1353.0 1300.0L1354.0 1299.5L1355.0 1299.0L1356.0 1298.6L1357.0 1298.2L1358.0 1297.8L1359.0 1297.5L1360.0 1297.2L1361.0 1297.0L1362.0 1296.8L1363.0 1296.7L1364.0 1296.6L1365.0 1296.6L1366.0 1296.6L1367.0 1296.7L1368.0 1296.8L1369.0 1297.0L1370.0 1297.2L1371.0 1297.5L1372.0 1297.8L1373.0 1298.2L1374.0 1298.7L1375.0 1299.2L1376.0 1299.7L1377.0 1300.3L1378.0 1301.0L1379.0 1301.7L1380.0 1302.4L1381.0 1303.2L1382.0 1304.0L1383.0 1304.9L1384.0 1305.8L1385.0 1306.7L1386.0 1307.7L1387.0 1308.8L1388.0 1309.8L1389.0 1310.9L1390.0 1312.0L1391.0 1313.2L1392.0 1314.3L1393.0 1315.5L1394.0 1316.8L1395.0 1318.0L1396.0 1319.2L1397.0 1320.5L1398.0 1321.8L1399.0 1323.1L1400.0 1324.4L1401.0 1325.7L1402.0 1327.1L1403.0 1328.4L1404.0 1329.7L1405.0 1331.0L1406.0 1332.3L1407.0 1333.6L1408.0 1335.0L1409.0 1336.2L1410.0 1337.5L1411.0 1338.8L1412.0 1340.0L1413.0 1341.2L1414.0 1342.4L1415.0 1343.6L1416.0 1344.8L1417.0 1345.9L1418.0 1347.0L1419.0 1348.1L1420.0 1349.1L1421.0 1350.1L1422.0 1351.0L1423.0 1352.0L1424.0 1352.8L1425.0 1353.7L1426.0 1354.5L1427.0 1355.2L1428.0 1355.9L1429.0 1356.6L1430.0 1357.2L1431.0 1357.7L1432.0 1358.2L1433.0 1358.7L1434.0 1359.1L1435.0 1359.5L1436.0 1359.8L1437.0 1360.0L1438.0 1360.2L1439.0 1360.3L1440.0 1360.4L1441.0 1360.4L1442.0 1360.4L1443.0 1360.3L1444.0 1360.1L1445.0 1359.9L1446.0 1359.6L1447.0 1359.3L1448.0 1358.8L1449.0 1358.4L1450.0 1357.8L1451.0 1357.2L1452.0 1356.5L1453.0 1355.8L1454.0 1355.0L1455.0 1354.2L1456.0 1353.3L1457.0 1352.3L1458.0 1351.3L1459.0 1350.3L1460.0 1349.2L1461.0 1348.0L1462.0 1346.8L1463.0 1345.6L1464.0 1344.3L1465.0 1343.0L1466.0 1341.6L1467.0 1340.2L1468.0 1338.8L1469.0 1337.3L1470.0 1335.9L1471.0 1334.3L1472.0 1332.8L1473.0 1331.3L1474.0 1329.7L1475.0 1328.1L1476.0 1326.5L1477.0 1324.9L1478.0 1323.3L1479.0 1321.6L1480.0 1320.0L1481.0 1318.4L1482.0 1316.7L1483.0 1315.1L1484.0 1313.5L1485.0 1311.9L1486.0 1310.3L1487.0 1308.7L1488.0 1307.2L1489.0 1305.6L1490.0 1304.1L1491.0 1302.6L1492.0 1301.1L1493.0 1299.7L1494.0 1298.3L1495.0 1296.9L1496.0 1295.6L1497.0 1294.3L1498.0 1293.1L1499.0 1291.9L1500.0 1290.7L1501.0 1289.6L1502.0 1288.5L1503.0 1287.5L1504.0 1286.6L1505.0 1285.7L1506.0 1284.8L1507.0 1284.0L1508.0 1283.3L1509.0 1282.6L1510.0 1282.0L1511.0 1281.4L1512.0 1280.9L1513.0 1280.5L1514.0 1280.1L1515.0 1279.8L1516.0 1279.6L1517.0 1279.4L1518.0 1279.3L1519.0 1279.2L1520.0 1279.3L1521.0 1279.4L1522.0 1279.6L1523.0 1280.0L1524.0 1280.4L1525.0 1281.0L1526.0 1281.7L1527.0 1282.4L1528.0 1283.3L1529.0 1284.3L1530.0 1285.3L1531.0 1286.5L1532.0 1287.8L1533.0 1289.1L1534.0 1290.6L1535.0 1292.1L1536.0 1293.7L1537.0 1295.4L1538.0 1297.2L1539.0 1299.1L1540.0 1301.1L1541.0 1303.1L1542.0 1305.2L1543.0 1307.4L1544.0 1309.6L1545.0 1311.9L1546.0 1314.3L1547.0 1316.7L1548.0 1319.2L1549.0 1321.7L1550.0 1324.3L1551.0 1326.9L1552.0 1329.5L1553.0 1332.2L1554.0 1335.0L1555.0 1337.7L1556.0 1340.5L1557.0 1343.3L1558.0 1346.1L1559.0 1348.9L1560.0 1351.8L1561.0 1354.6L1562.0 1357.4L1563.0 1360.3L1564.0 1363.1L1565.0 1365.9L1566.0 1368.7L1567.0 1371.5L1568.0 1374.3L1569.0 1377.0L1570.0 1379.7L1571.0 1382.4L1572.0 1385.0L1573.0 1387.6L1574.0 1390.2L1575.0 1392.7L1576.0 1395.1L1577.0 1397.5L1578.0 1399.8L1579.0 1402.1L1580.0 1404.3L1581.0 1406.4L1582.0 1408.5L1583.0 1410.5L1584.0 1412.4L1585.0 1414.2L1586.0 1415.9L1587.0 1417.6L1588.0 1419.2L1589.0 1420.7L1590.0 1422.1L1591.0 1423.4L1592.0 1424.6L1593.0 1425.7L1594.0 1426.7L1595.0 1427.6L1596.0 1428.4L1597.0 1429.1L1598.0 1429.7L1599.0 1430.2L1600.0 1430.6L1601.0 1430.9L1602.0 1431.0L1603.0 1431.1L1604.0 1431.1L1605.0 1430.9L1606.0 1430.5L1607.0 1430.0L1608.0 1429.4L1609.0 1428.6L1610.0 1427.7L1611.0 1426.6L1612.0 1425.3L1613.0 1424.0L1614.0 1422.5L1615.0 1420.8L1616.0 1419.0L1617.0 1417.1L1618.0 1415.0L1619.0 1412.8L1620.0 1410.4L1621.0 1408.0L1622.0 1405.4L1623.0 1402.7L1624.0 1399.8L1625.0 1396.9L1626.0 1393.8L1627.0 1390.6L1628.0 1387.3L1629.0 1383.9L1630.0 1380.4L1631.0 1376.8L1632.0 1373.1L1633.0 1369.4L1634.0 1365.5L1635.0 1361.5L1636.0 1357.5L1637.0 1353.4L1638.0 1349.2L1639.0 1345.0L1640.0 1340.7L1641.0 1336.3L1642.0 1331.9L1643.0 1327.4L1644.0 1322.9L1645.0 1318.3L1646.0 1313.7L1647.0 1309.1L1648.0 1304.5L1649.0 1299.8L1650.0 1295.1L1651.0 1290.4L1652.0 1285.8L1653.0 1281.0L1654.0 1276.4L1655.0 1271.7L1656.0 1267.0L1657.0 1262.3L1658.0 1257.7L1659.0 1253.1L1660.0 1248.5L1661.0 1243.9L1662.0 1239.4L1663.0 1235.0L1664.0 1230.6L1665.0 1226.2L1666.0 1221.9L1667.0 1217.7L1668.0 1213.5L1669.0 1209.4L1670.0 1205.4L1671.0 1201.5L1672.0 1197.6L1673.0 1193.9L1674.0 1190.2L1675.0 1186.6L1676.0 1183.1L1677.0 1179.7L1678.0 1176.5L1679.0 1173.3L1680.0 1170.3L1681.0 1167.3L1682.0 1164.5L1683.0 1161.8L1684.0 1159.3L1685.0 1156.8L1686.0 1154.5L1687.0 1152.3L1688.0 1150.3L1689.0 1148.4L1690.0 1146.6L1691.0 1145.0L1692.0 1143.5L1693.0 1142.1L1694.0 1140.9L1695.0 1139.9L1696.0 1139.0L1697.0 1138.2L1698.0 1137.6L1699.0 1137.1L1700.0 1136.8L1701.0 1136.6L1702.0 1136.6L1703.0 1136.8L1704.0 1137.0" fill="none" stroke="#00f" stroke-width="4" stroke-dasharray="44.907 24.948" stroke-dashoffset="42.789" stroke-linejoin="round" clip-path="url(#cb)"/>
<path d="M1702.0 1136.6L1703.0 1136.8L1704.0 1137.0L1705.0 1137.5L1706.0 1138.1L1707.0 1138.8L1708.0 1139.7L1709.0 1140.7L1710.0 1141.8L1711.0 1143.1L1712.0 1144.6L1713.0 1146.2L1714.0 1147.9L1715.0 1149.8L1716.0 1151.8L1717.0 1153.9L1718.0 1156.1L1719.0 1158.5L1720.0 1161.1L1721.0 1163.7L1722.0 1166.5L1723.0 1169.3L1724.0 1172.3L1725.0 1175.4L1726.0 1178.7L1727.0 1182.0L1728.0 1185.4L1729.0 1188.9L1730.0 1192.5L1731.0 1196.3L1732.0 1200.1L1733.0 1203.9L1734.0 1207.9L1735.0 1211.9L1736.0 1216.1L1737.0 1220.2L1738.0 1224.5L1739.0 1228.8L1740.0 1233.1L1741.0 1237.5L1742.0 1242.0L1743.0 1246.5L1744.0 1251.0L1745.0 1255.6L1746.0 1260.2L1747.0 1264.8L1748.0 1269.4L1749.0 1274.1L1750.0 1278.7L1751.0 1283.4L1752.0 1288.1L1753.0 1292.7L1754.0 1297.4L1755.0 1302.0L1756.0 1306.6L1757.0 1311.2L1758.0 1315.8L1759.0 1320.3L1760.0 1324.8L1761.0 1329.2L1762.0 1333.6L1763.0 1338.0L1764.0 1342.3L1765.0 1346.5L1766.0 1350.7L1767.0 1354.8L1768.0 1358.8L1769.0 1362.7L1770.0 1366.6L1771.0 1370.4L1772.0 1374.1L1773.0 1377.7L1774.0 1381.2L1775.0 1384.6L1776.0 1387.9L1777.0 1391.1L1778.0 1394.2L1779.0 1397.1L1780.0 1400.0L1781.0 1402.7L1782.0 1405.3L1783.0 1407.8L1784.0 1410.2L1785.0 1412.4L1786.0 1414.5L1787.0 1416.5L1788.0 1418.3L1789.0 1420.0L1790.0 1421.6L1791.0 1423.0L1792.0 1424.3L1793.0 1425.4L1794.0 1426.4L1795.0 1427.3L1796.0 1428.0L1797.0 1428.5L1798.0 1428.9L1799.0 1429.2L1800.0 1429.3L1801.0 1429.2L1802.0 1429.1L1803.0 1428.9L1804.0 1428.6L1805.0 1428.2L1806.0 1427.7L1807.0 1427.1L1808.0 1426.5L1809.0 1425.7L1810.0 1424.8L1811.0 1423.9L1812.0 1422.9L1813.0 1421.8L1814.0 1420.6L1815.0 1419.3L1816.0 1418.0L1817.0 1416.5L1818.0 1415.0L1819.0 1413.4L1820.0 1411.8L1821.0 1410.0L1822.0 1408.2L1823.0 1406.4L1824.0 1404.4L1825.0 1402.4L1826.0 1400.4L1827.0 1398.3L1828.0 1396.1L1829.0 1393.9L1830.0 1391.6L1831.0 1389.3L1832.0 1386.9L1833.0 1384.5L1834.0 1382.1L1835.0 1379.6L1836.0 1377.1L1837.0 1374.5L1838.0 1371.9L1839.0 1369.4L1840.0 1366.7L1841.0 1364.1L1842.0 1361.5L1843.0 1358.8L1844.0 1356.2L1845.0 1353.5L1846.0 1350.8L1847.0 1348.2L1848.0 1345.5L1849.0 1342.8L1850.0 1340.2L1851.0 1337.6L1852.0 1335.0L1853.0 1332.4L1854.0 1329.8L1855.0 1327.3L1856.0 1324.8L1857.0 1322.3L1858.0 1319.9L1859.0 1317.5L1860.0 1315.2L1861.0 1312.9L1862.0 1310.6L1863.0 1308.4L1864.0 1306.3L1865.0 1304.2L1866.0 1302.1L1867.0 1300.2L1868.0 1298.3L1869.0 1296.4L1870.0 1294.6L1871.0 1292.9L1872.0 1291.3L1873.0 1289.8L1874.0 1288.3L1875.0 1286.9L1876.0 1285.6L1877.0 1284.3L1878.0 1283.2L1879.0 1282.1L1880.0 1281.1L1881.0 1280.2L1882.0 1279.4L1883.0 1278.6L1884.0 1278.0L1885.0 1277.5L1886.0 1277.0L1887.0 1276.7L1888.0 1276.4L1889.0 1276.2L1890.0 1276.1L1891.0 1276.1L1892.0 1276.2L1893.0 1276.4L1894.0 1276.6L1895.0 1276.9L1896.0 1277.3L1897.0 1277.8L1898.0 1278.3L1899.0 1278.9L1900.0 1279.6L1901.0 1280.3L1902.0 1281.2L1903.0 1282.0L1904.0 1283.0L1905.0 1284.0L1906.0 1285.1L1907.0 1286.2L1908.0 1287.4L1909.0 1288.7L1910.0 1290.0L1911.0 1291.3L1912.0 1292.8L1913.0 1294.2L1914.0 1295.7L1915.0 1297.2L1916.0 1298.8L1917.0 1300.4L1918.0 1302.1L1919.0 1303.8L1920.0 1305.5L1921.0 1307.2L1922.0 1309.0L1923.0 1310.7L1924.0 1312.5L1925.0 1314.3L1926.0 1316.1L1927.0 1317.9L1928.0 1319.8L1929.0 1321.6L1930.0 1323.4L1931.0 1325.2L1932.0 1327.0L1933.0 1328.7L1934.0 1330.5L1935.0 1332.2L1936.0 1334.0L1937.0 1335.7L1938.0 1337.3L1939.0 1339.0L1940.0 1340.5L1941.0 1342.1L1942.0 1343.6L1943.0 1345.1L1944.0 1346.5L1945.0 1347.9L1946.0 1349.2L1947.0 1350.5L1948.0 1351.7L1949.0 1352.9L1950.0 1354.0L1951.0 1355.0L1952.0 1356.0L1953.0 1356.9L1954.0 1357.8L1955.0 1358.5L1956.0 1359.2L1957.0 1359.9L1958.0 1360.4L1959.0 1360.9L1960.0 1361.3L1961.0 1361.7L1962.0 1362.0L1963.0 1362.1L1964.0 1362.3L1965.0 1362.3L1966.0 1362.3L1967.0 1362.2L1968.0 1362.0L1969.0 1361.8L1970.0 1361.5L1971.0 1361.2L1972.0 1360.8L1973.0 1360.4L1974.0 1359.9L1975.0 1359.3L1976.0 1358.7L1977.0 1358.0L1978.0 1357.3L1979.0 1356.6L1980.0 1355.7L1981.0 1354.9L1982.0 1353.9L1983.0 1353.0L1984.0 1352.0L1985.0 1350.9L1986.0 1349.8L1987.0 1348.7L1988.0 1347.5L1989.0 1346.3L1990.0 1345.1L1991.0 1343.8L1992.0 1342.5L1993.0 1341.2L1994.0 1339.9L1995.0 1338.5L1996.0 1337.1L1997.0 1335.7L1998.0 1334.3L1999.0 1332.9L2000.0 1331.5L2001.0 1330.1L2002.0 1328.6L2003.0 1327.2L2004.0 1325.7L2005.0 1324.3L2006.0 1322.9L2007.0 1321.4L2008.0 1320.0L2009.0 1318.6L2010.0 1317.3L2011.0 1315.9L2012.0 1314.6L2013.0 1313.2L2014.0 1311.9L2015.0 1310.7L2016.0 1309.5L2017.0 1308.3L2018.0 1307.1L2019.0 1306.0L2020.0 1304.9L2021.0 1303.8L2022.0 1302.8L2023.0 1301.8L2024.0 1300.9L2025.0 1300.1L2026.0 1299.2L2027.0 1298.5L2028.0 1297.7L2029.0 1297.1L2030.0 1296.5L2031.0 1295.9L2032.0 1295.4L2033.0 1294.9L2034.0 1294.6L2035.0 1294.2L2036.0 1294.0L2037.0 1293.8L2038.0 1293.6L2039.0 1293.5L2040.0 1293.5L2041.0 1293.5L2042.0 1293.6L2043.0 1293.7L2044.0 1293.8L2045.0 1294.0L2046.0 1294.3L2047.0 1294.5L2048.0 1294.9L2049.0 1295.2L2050.0 1295.6L2051.0 1296.1L2052.0 1296.5L2053.0 1297.1L2054.0 1297.6L2055.0 1298.2L2056.0 1298.8L2057.0 1299.5L2058.0 1300.2L2059.0 1300.9L2060.0 1301.7L2061.0 1302.5L2062.0 1303.3L2063.0 1304.1L2064.0 1305.0L2065.0 1305.9L2066.0 1306.8L2067.0 1307.8L2068.0 1308.7L2069.0 1309.7L2070.0 1310.7L2071.0 1311.7L2072.0 1312.7L2073.0 1313.8L2074.0 1314.8L2075.0 1315.9L2076.0 1316.9L2077.0 1318.0L2078.0 1319.1L2079.0 1320.1L2080.0 1321.2L2081.0 1322.3L2082.0 1323.4L2083.0 1324.4L2084.0 1325.5L2085.0 1326.5L2086.0 1327.6L2087.0 1328.6L2088.0 1329.6L2089.0 1330.6L2090.0 1331.6L2091.0 1332.5L2092.0 1333.5L2093.0 1334.4L2094.0 1335.3L2095.0 1336.2L2096.0 1337.0L2097.0 1337.8L2098.0 1338.6L2099.0 1339.4L2100.0 1340.1L2101.0 1340.8L2102.0 1341.5L2103.0 1342.1L2104.0 1342.7L2105.0 1343.2L2106.0 1343.7" fill="none" stroke="#00f" stroke-width="4" stroke-dasharray="44.926 24.959" stroke-dashoffset="41.789" stroke-linejoin="round" clip-path="url(#cb)"/>
<rect x="184" y="75" width="1922" height="614" fill="none" stroke="#262626" stroke-width="3.8"/>
<path d="M184.00 689.00V667.50M184.00 75.00V96.50M424.25 689.00V667.50M424.25 75.00V96.50M664.50 689.00V667.50M664.50 75.00V96.50M904.75 689.00V667.50M904.75 75.00V96.50M1145.00 689.00V667.50M1145.00 75.00V96.50M1385.25 689.00V667.50M1385.25 75.00V96.50M1625.50 689.00V667.50M1625.50 75.00V96.50M1865.75 689.00V667.50M1865.75 75.00V96.50M2106.00 689.00V667.50M2106.00 75.00V96.50M184.00 75.00H205.50M2106.00 75.00H2084.50M184.00 228.50H205.50M2106.00 228.50H2084.50M184.00 382.00H205.50M2106.00 382.00H2084.50M184.00 535.50H205.50M2106.00 535.50H2084.50M184.00 689.00H205.50M2106.00 689.00H2084.50" stroke="#262626" stroke-width="3.8" fill="none"/>
<rect x="184" y="942" width="1922" height="628" fill="none" stroke="#262626" stroke-width="3.8"/>
<path d="M184.00 1570.00V1548.50M184.00 942.00V963.50M424.25 1570.00V1548.50M424.25 942.00V963.50M664.50 1570.00V1548.50M664.50 942.00V963.50M904.75 1570.00V1548.50M904.75 942.00V963.50M1145.00 1570.00V1548.50M1145.00 942.00V963.50M1385.25 1570.00V1548.50M1385.25 942.00V963.50M1625.50 1570.00V1548.50M1625.50 942.00V963.50M1865.75 1570.00V1548.50M1865.75 942.00V963.50M2106.00 1570.00V1548.50M2106.00 942.00V963.50M184.00 950.00H205.50M2106.00 950.00H2084.50M184.00 1074.00H205.50M2106.00 1074.00H2084.50M184.00 1198.00H205.50M2106.00 1198.00H2084.50M184.00 1322.00H205.50M2106.00 1322.00H2084.50M184.00 1446.00H205.50M2106.00 1446.00H2084.50M184.00 1570.00H205.50M2106.00 1570.00H2084.50" stroke="#262626" stroke-width="3.8" fill="none"/>
<text x="121.90" y="758.60" font-family="Liberation Sans, Arial, Helvetica, sans-serif" font-size="55" fill="#262626" style="font-kerning:none">0.98</text>
<text x="344.56" y="758.60" font-family="Liberation Sans, Arial, Helvetica, sans-serif" font-size="55" fill="#262626" style="font-kerning:none">0.985</text>
<text x="602.21" y="758.60" font-family="Liberation Sans, Arial, Helvetica, sans-serif" font-size="55" fill="#262626" style="font-kerning:none">0.99</text>
<text x="825.41" y="758.60" font-family="Liberation Sans, Arial, Helvetica, sans-serif" font-size="55" fill="#262626" style="font-kerning:none">0.995</text>
<text x="1128.81" y="758.60" font-family="Liberation Sans, Arial, Helvetica, sans-serif" font-size="55" fill="#262626" style="font-kerning:none" clip-path="url(#k0)">1</text>
<text x="1305.54" y="758.60" font-family="Liberation Sans, Arial, Helvetica, sans-serif" font-size="55" fill="#262626" style="font-kerning:none" clip-path="url(#k1)">1.005</text>
<text x="1565.28" y="758.60" font-family="Liberation Sans, Arial, Helvetica, sans-serif" font-size="55" fill="#262626" style="font-kerning:none" clip-path="url(#k2)">1.01</text>
<text x="1786.34" y="758.60" font-family="Liberation Sans, Arial, Helvetica, sans-serif" font-size="55" fill="#262626" style="font-kerning:none" clip-path="url(#k3)">1.015</text>
<text x="2044.66" y="758.60" font-family="Liberation Sans, Arial, Helvetica, sans-serif" font-size="55" fill="#262626" style="font-kerning:none" clip-path="url(#k4)">1.02</text>
<text x="121.61" y="1639.60" font-family="Liberation Sans, Arial, Helvetica, sans-serif" font-size="55" fill="#262626" style="font-kerning:none">0.96</text>
<text x="363.49" y="1639.60" font-family="Liberation Sans, Arial, Helvetica, sans-serif" font-size="55" fill="#262626" style="font-kerning:none">0.97</text>
<text x="602.80" y="1639.60" font-family="Liberation Sans, Arial, Helvetica, sans-serif" font-size="55" fill="#262626" style="font-kerning:none">0.98</text>
<text x="842.91" y="1639.60" font-family="Liberation Sans, Arial, Helvetica, sans-serif" font-size="55" fill="#262626" style="font-kerning:none">0.99</text>
<text x="1129.31" y="1639.60" font-family="Liberation Sans, Arial, Helvetica, sans-serif" font-size="55" fill="#262626" style="font-kerning:none" clip-path="url(#k5)">1</text>
<text x="1324.78" y="1639.60" font-family="Liberation Sans, Arial, Helvetica, sans-serif" font-size="55" fill="#262626" style="font-kerning:none" clip-path="url(#k6)">1.01</text>
<text x="1564.86" y="1639.60" font-family="Liberation Sans, Arial, Helvetica, sans-serif" font-size="55" fill="#262626" style="font-kerning:none" clip-path="url(#k7)">1.02</text>
<text x="1803.89" y="1639.60" font-family="Liberation Sans, Arial, Helvetica, sans-serif" font-size="55" fill="#262626" style="font-kerning:none" clip-path="url(#k8)">1.03</text>
<text x="2044.49" y="1639.60" font-family="Liberation Sans, Arial, Helvetica, sans-serif" font-size="55" fill="#262626" style="font-kerning:none" clip-path="url(#k9)">1.04</text>
<text x="132.62" y="94.52" font-family="Liberation Sans, Arial, Helvetica, sans-serif" font-size="55" fill="#262626" style="font-kerning:none">4</text>
<text x="133.78" y="248.02" font-family="Liberation Sans, Arial, Helvetica, sans-serif" font-size="55" fill="#262626" style="font-kerning:none">2</text>
<text x="133.16" y="401.52" font-family="Liberation Sans, Arial, Helvetica, sans-serif" font-size="55" fill="#262626" style="font-kerning:none">0</text>
<text x="111.96" y="555.02" font-family="Liberation Sans, Arial, Helvetica, sans-serif" font-size="55" fill="#262626" style="font-kerning:none">-2</text>
<text x="110.81" y="708.52" font-family="Liberation Sans, Arial, Helvetica, sans-serif" font-size="55" fill="#262626" style="font-kerning:none">-4</text>
<text x="133.43" y="969.52" font-family="Liberation Sans, Arial, Helvetica, sans-serif" font-size="55" fill="#262626" style="font-kerning:none">6</text>
<text x="132.62" y="1093.52" font-family="Liberation Sans, Arial, Helvetica, sans-serif" font-size="55" fill="#262626" style="font-kerning:none">4</text>
<text x="133.78" y="1217.52" font-family="Liberation Sans, Arial, Helvetica, sans-serif" font-size="55" fill="#262626" style="font-kerning:none">2</text>
<text x="133.16" y="1341.52" font-family="Liberation Sans, Arial, Helvetica, sans-serif" font-size="55" fill="#262626" style="font-kerning:none">0</text>
<text x="111.96" y="1465.52" font-family="Liberation Sans, Arial, Helvetica, sans-serif" font-size="55" fill="#262626" style="font-kerning:none">-2</text>
<text x="110.81" y="1589.52" font-family="Liberation Sans, Arial, Helvetica, sans-serif" font-size="55" fill="#262626" style="font-kerning:none">-4</text>
<text transform="translate(1139.5,46.6) scale(0.91,1.09)" text-anchor="middle" font-family="Liberation Sans, Arial, Helvetica, sans-serif" font-weight="bold" font-size="60" fill="#000">a</text>
<text x="1123.04" y="913.90" font-family="Liberation Sans, Arial, Helvetica, sans-serif" font-size="60" font-weight="bold" fill="#000" style="font-kerning:none">b</text>
<text transform="translate(58,414.85) rotate(-90)" font-family="Liberation Sans, Arial, Helvetica, sans-serif" font-size="59.5" fill="#262626">n</text>
<text transform="translate(83.9,376.02) rotate(-90)" font-family="Liberation Sans, Arial, Helvetica, sans-serif" font-size="48.2" fill="#262626">g</text>
<text transform="translate(58,1290.75) rotate(-90)" font-family="Liberation Sans, Arial, Helvetica, sans-serif" font-size="59.5" fill="#262626">n</text>
<text transform="translate(83.9,1252.72) rotate(-90)" font-family="Liberation Sans, Arial, Helvetica, sans-serif" font-size="48.2" fill="#262626">g</text>
<text x="1080.07" y="1667.00" font-family="Liberation Serif, Times New Roman, serif" font-size="58" font-style="italic" fill="#262626" style="font-kerning:none">ω</text>
<text x="1119.71" y="1692.80" font-family="Liberation Sans, Arial, Helvetica, sans-serif" font-size="49.5" fill="#262626" style="font-kerning:none">p</text>
<text x="1152.20" y="1667.00" font-family="Liberation Sans, Arial, Helvetica, sans-serif" font-size="60" fill="#262626" style="font-kerning:none" transform="translate(0,0)">/</text>
<text x="1172.07" y="1667.00" font-family="Liberation Serif, Times New Roman, serif" font-size="58" font-style="italic" fill="#262626" style="font-kerning:none">ω</text>
<text x="1213.29" y="1691.80" font-family="Liberation Sans, Arial, Helvetica, sans-serif" font-size="49" fill="#262626" style="font-kerning:none" clip-path="url(#k10)">12</text>
<path d="M450 826.9H630" stroke="#000" stroke-width="4" stroke-dasharray="36 12 9 12" fill="none"/>
<text x="642.86" y="838.00" font-family="Liberation Sans, Arial, Helvetica, sans-serif" font-size="48" fill="#000" style="font-kerning:none">R</text>
<text x="677.16" y="858.50" font-family="Liberation Sans, Arial, Helvetica, sans-serif" font-size="38.5" fill="#000" style="font-kerning:none">e</text>
<text x="702.66" y="838.00" font-family="Liberation Sans, Arial, Helvetica, sans-serif" font-size="48" fill="#000" style="font-kerning:none" clip-path="url(#k11)">=10nm</text>
<path d="M916 826.9H1096" stroke="#f00" stroke-width="4" fill="none"/>
<text x="1109.16" y="838.00" font-family="Liberation Sans, Arial, Helvetica, sans-serif" font-size="48" fill="#000" style="font-kerning:none">R</text>
<text x="1143.46" y="858.50" font-family="Liberation Sans, Arial, Helvetica, sans-serif" font-size="38.5" fill="#000" style="font-kerning:none">e</text>
<text x="1168.96" y="838.00" font-family="Liberation Sans, Arial, Helvetica, sans-serif" font-size="48" fill="#000" style="font-kerning:none" clip-path="url(#k12)">=15nm</text>
<path d="M1382 826.9H1562" stroke="#00f" stroke-width="4" stroke-dasharray="45 25" fill="none"/>
<text x="1574.96" y="838.00" font-family="Liberation Sans, Arial, Helvetica, sans-serif" font-size="48" fill="#000" style="font-kerning:none">R</text>
<text x="1609.26" y="858.50" font-family="Liberation Sans, Arial, Helvetica, sans-serif" font-size="38.5" fill="#000" style="font-kerning:none">e</text>
<text x="1634.76" y="838.00" font-family="Liberation Sans, Arial, Helvetica, sans-serif" font-size="48" fill="#000" style="font-kerning:none">=25nm</text>
<path d="M519 1760H699" stroke="#000" stroke-width="4" stroke-dasharray="36 12 9 12" fill="none"/>
<text x="710.16" y="1771.00" font-family="Liberation Serif, Times New Roman, serif" font-size="52.9" fill="#000" style="font-kerning:none">Ω</text>
<text x="745.56" y="1791.60" font-family="Liberation Sans, Arial, Helvetica, sans-serif" font-size="38.5" fill="#000" style="font-kerning:none">c</text>
<text x="767.66" y="1770.20" font-family="Liberation Sans, Arial, Helvetica, sans-serif" font-size="48" fill="#000" style="font-kerning:none">=90GHz</text>
<path d="M1005 1760H1185" stroke="#0ff" stroke-width="4" fill="none"/>
<text x="1198.21" y="1771.00" font-family="Liberation Serif, Times New Roman, serif" font-size="52.9" fill="#000" style="font-kerning:none">Ω</text>
<text x="1233.61" y="1791.60" font-family="Liberation Sans, Arial, Helvetica, sans-serif" font-size="38.5" fill="#000" style="font-kerning:none">c</text>
<text x="1255.71" y="1770.20" font-family="Liberation Sans, Arial, Helvetica, sans-serif" font-size="48" fill="#000" style="font-kerning:none" clip-path="url(#k13)">=10THz</text>
<path d="M1482 1760H1662" stroke="#00f" stroke-width="4" stroke-dasharray="45 25" fill="none"/>
<text x="1673.46" y="1771.00" font-family="Liberation Serif, Times New Roman, serif" font-size="52.9" fill="#000" style="font-kerning:none">Ω</text>
<text x="1708.86" y="1791.60" font-family="Liberation Sans, Arial, Helvetica, sans-serif" font-size="38.5" fill="#000" style="font-kerning:none">c</text>
<text x="1730.96" y="1770.20" font-family="Liberation Sans, Arial, Helvetica, sans-serif" font-size="48" fill="#000" style="font-kerning:none">=30THz</text>
<defs><clipPath id="k0"><path clip-rule="evenodd" d="M1108.81 648.60H1179.40V813.60H1108.81ZM1131.49 751.62H1142.45V760.21H1131.49ZM1147.69 751.62H1157.81V760.21H1147.69Z"/></clipPath><clipPath id="k1"><path clip-rule="evenodd" d="M1285.54 648.60H1463.18V813.60H1285.54ZM1308.23 751.62H1319.18V760.21H1308.23ZM1324.42 751.62H1334.55V760.21H1324.42Z"/></clipPath><clipPath id="k2"><path clip-rule="evenodd" d="M1545.28 648.60H1692.33V813.60H1545.28ZM1567.97 751.62H1578.92V760.21H1567.97ZM1584.16 751.62H1594.28V760.21H1584.16ZM1644.42 751.62H1655.38V760.21H1644.42ZM1660.62 751.62H1670.74V760.21H1660.62Z"/></clipPath><clipPath id="k3"><path clip-rule="evenodd" d="M1766.34 648.60H1943.98V813.60H1766.34ZM1789.03 751.62H1799.98V760.21H1789.03ZM1805.22 751.62H1815.35V760.21H1805.22ZM1865.49 751.62H1876.44V760.21H1865.49ZM1881.68 751.62H1891.80V760.21H1881.68Z"/></clipPath><clipPath id="k4"><path clip-rule="evenodd" d="M2024.66 648.60H2171.71V813.60H2024.66ZM2047.35 751.62H2058.31V760.21H2047.35ZM2063.54 751.62H2073.67V760.21H2063.54Z"/></clipPath><clipPath id="k5"><path clip-rule="evenodd" d="M1109.31 1529.60H1179.90V1694.60H1109.31ZM1131.99 1632.62H1142.95V1641.21H1131.99ZM1148.19 1632.62H1158.31V1641.21H1148.19Z"/></clipPath><clipPath id="k6"><path clip-rule="evenodd" d="M1304.78 1529.60H1451.83V1694.60H1304.78ZM1327.47 1632.62H1338.42V1641.21H1327.47ZM1343.66 1632.62H1353.78V1641.21H1343.66ZM1403.92 1632.62H1414.88V1641.21H1403.92ZM1420.12 1632.62H1430.24V1641.21H1420.12Z"/></clipPath><clipPath id="k7"><path clip-rule="evenodd" d="M1544.86 1529.60H1691.91V1694.60H1544.86ZM1567.55 1632.62H1578.51V1641.21H1567.55ZM1583.74 1632.62H1593.87V1641.21H1583.74Z"/></clipPath><clipPath id="k8"><path clip-rule="evenodd" d="M1783.89 1529.60H1930.94V1694.60H1783.89ZM1806.58 1632.62H1817.53V1641.21H1806.58ZM1822.77 1632.62H1832.89V1641.21H1822.77Z"/></clipPath><clipPath id="k9"><path clip-rule="evenodd" d="M2024.49 1529.60H2171.53V1694.60H2024.49ZM2047.17 1632.62H2058.13V1641.21H2047.17ZM2063.37 1632.62H2073.49V1641.21H2063.37Z"/></clipPath><clipPath id="k10"><path clip-rule="evenodd" d="M1193.29 1593.80H1287.79V1740.80H1193.29ZM1215.68 1685.58H1225.44V1693.24H1215.68ZM1230.11 1685.58H1239.13V1693.24H1230.11Z"/></clipPath><clipPath id="k11"><path clip-rule="evenodd" d="M682.66 742.00H870.76V886.00H682.66ZM733.03 831.91H742.59V839.41H733.03ZM747.16 831.91H756.00V839.41H747.16Z"/></clipPath><clipPath id="k12"><path clip-rule="evenodd" d="M1148.96 742.00H1337.06V886.00H1148.96ZM1199.33 831.91H1208.89V839.41H1199.33ZM1213.46 831.91H1222.30V839.41H1213.46Z"/></clipPath><clipPath id="k13"><path clip-rule="evenodd" d="M1235.71 1674.20H1445.11V1818.20H1235.71ZM1286.08 1764.11H1295.64V1771.61H1286.08ZM1300.21 1764.11H1309.05V1771.61H1300.21Z"/></clipPath></defs>
</svg></body></html>
